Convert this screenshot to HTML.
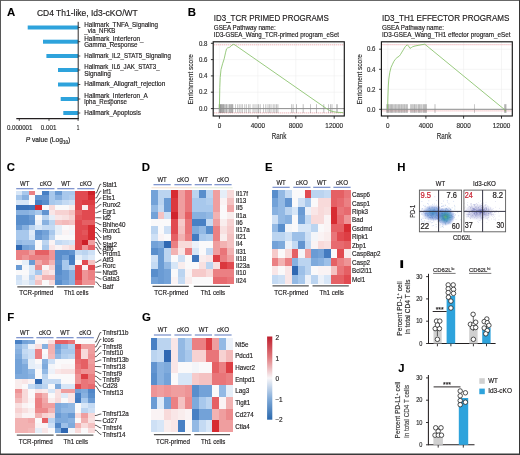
<!DOCTYPE html>
<html><head><meta charset="utf-8"><title>Figure</title>
<style>html,body{margin:0;padding:0;background:#fff;width:520px;height:455px;overflow:hidden}body{position:relative;font-family:"Liberation Sans", sans-serif}</style>
</head><body>
<svg width="520" height="455" viewBox="0 0 520 455" style="position:absolute;left:0;top:0;filter:blur(0.35px)">
<g font-family='"Liberation Sans", sans-serif'>
<rect x="0" y="0" width="520" height="455" fill="#ffffff"/>
<text x="7.00" y="15.90" font-size="11.4" fill="#000" font-weight="bold" stroke="#000" stroke-width="0.1">A</text>
<text x="36.90" y="15.80" font-size="8.4" fill="#1f1c1d" textLength="100.80" lengthAdjust="spacingAndGlyphs" stroke="#1f1c1d" stroke-width="0.16">CD4 Th1-like, Id3-cKO/WT</text>
<rect x="27.70" y="25.50" width="50.50" height="4.00" fill="#2ea3dc"/>
<rect x="43.00" y="39.70" width="35.20" height="4.00" fill="#2ea3dc"/>
<rect x="46.40" y="54.00" width="31.80" height="4.00" fill="#2ea3dc"/>
<rect x="58.00" y="68.00" width="20.20" height="4.00" fill="#2ea3dc"/>
<rect x="58.00" y="82.50" width="20.20" height="4.00" fill="#2ea3dc"/>
<rect x="60.70" y="97.00" width="17.50" height="4.00" fill="#2ea3dc"/>
<rect x="63.30" y="111.00" width="14.90" height="4.00" fill="#2ea3dc"/>
<line x1="78.20" y1="21.80" x2="78.20" y2="119.00" stroke="#231f20" stroke-width="0.95"/>
<line x1="78.20" y1="27.50" x2="80.30" y2="27.50" stroke="#231f20" stroke-width="0.8"/>
<line x1="78.20" y1="41.70" x2="80.30" y2="41.70" stroke="#231f20" stroke-width="0.8"/>
<line x1="78.20" y1="56.00" x2="80.30" y2="56.00" stroke="#231f20" stroke-width="0.8"/>
<line x1="78.20" y1="70.00" x2="80.30" y2="70.00" stroke="#231f20" stroke-width="0.8"/>
<line x1="78.20" y1="84.50" x2="80.30" y2="84.50" stroke="#231f20" stroke-width="0.8"/>
<line x1="78.20" y1="99.00" x2="80.30" y2="99.00" stroke="#231f20" stroke-width="0.8"/>
<line x1="78.20" y1="113.00" x2="80.30" y2="113.00" stroke="#231f20" stroke-width="0.8"/>
<line x1="16.30" y1="118.60" x2="78.70" y2="118.60" stroke="#231f20" stroke-width="1.05"/>
<line x1="19.30" y1="118.60" x2="19.30" y2="120.90" stroke="#231f20" stroke-width="0.8"/>
<line x1="49.00" y1="118.60" x2="49.00" y2="120.90" stroke="#231f20" stroke-width="0.8"/>
<line x1="78.10" y1="118.60" x2="78.10" y2="120.90" stroke="#231f20" stroke-width="0.8"/>
<text x="6.90" y="129.70" font-size="6.4" fill="#2e2e2e" textLength="25.50" lengthAdjust="spacingAndGlyphs" stroke="#2e2e2e" stroke-width="0.16">0.000001</text>
<text x="40.80" y="129.70" font-size="6.4" fill="#2e2e2e" textLength="15.60" lengthAdjust="spacingAndGlyphs" stroke="#2e2e2e" stroke-width="0.16">0.001</text>
<text x="78.10" y="129.70" font-size="6.4" fill="#2e2e2e" text-anchor="middle" textLength="2.60" lengthAdjust="spacingAndGlyphs" stroke="#2e2e2e" stroke-width="0.16">1</text>
<text x="25.80" y="141.50" font-size="7.1" fill="#2e2e2e" textLength="44.50" lengthAdjust="spacingAndGlyphs" stroke="#2e2e2e" stroke-width="0.22"><tspan font-style="italic">P</tspan> value (Log<tspan font-size="5.0" dy="2.0">10</tspan><tspan dy="-2.0">)</tspan></text>
<text x="84.30" y="26.90" font-size="6.5" fill="#1f1c1d" textLength="73.60" lengthAdjust="spacingAndGlyphs" stroke="#1f1c1d" stroke-width="0.16">Hallmark_TNFA_Signaling</text>
<text x="84.30" y="33.00" font-size="6.5" fill="#1f1c1d" textLength="31.00" lengthAdjust="spacingAndGlyphs" stroke="#1f1c1d" stroke-width="0.16">_via_NFKB</text>
<text x="84.30" y="40.70" font-size="6.5" fill="#1f1c1d" textLength="59.20" lengthAdjust="spacingAndGlyphs" stroke="#1f1c1d" stroke-width="0.16">Hallmark_Interferon_</text>
<text x="84.30" y="46.50" font-size="6.5" fill="#1f1c1d" textLength="53.10" lengthAdjust="spacingAndGlyphs" stroke="#1f1c1d" stroke-width="0.16">Gamma_Response</text>
<text x="84.30" y="58.00" font-size="6.5" fill="#1f1c1d" textLength="86.50" lengthAdjust="spacingAndGlyphs" stroke="#1f1c1d" stroke-width="0.16">Hallmark_IL2_STAT5_Signaling</text>
<text x="84.30" y="69.10" font-size="6.5" fill="#1f1c1d" textLength="75.30" lengthAdjust="spacingAndGlyphs" stroke="#1f1c1d" stroke-width="0.16">Hallmark_IL6_JAK_STAT3_</text>
<text x="84.30" y="75.70" font-size="6.5" fill="#1f1c1d" textLength="26.50" lengthAdjust="spacingAndGlyphs" stroke="#1f1c1d" stroke-width="0.16">Signaling</text>
<text x="84.30" y="86.40" font-size="6.5" fill="#1f1c1d" textLength="81.00" lengthAdjust="spacingAndGlyphs" stroke="#1f1c1d" stroke-width="0.16">Hallmark_Allograft_rejection</text>
<text x="84.30" y="97.70" font-size="6.5" fill="#1f1c1d" textLength="63.50" lengthAdjust="spacingAndGlyphs" stroke="#1f1c1d" stroke-width="0.16">Hallmark_Interferon_A</text>
<text x="84.30" y="104.10" font-size="6.5" fill="#1f1c1d" textLength="42.70" lengthAdjust="spacingAndGlyphs" stroke="#1f1c1d" stroke-width="0.16">lpha_Response</text>
<text x="84.30" y="114.60" font-size="6.5" fill="#1f1c1d" textLength="56.60" lengthAdjust="spacingAndGlyphs" stroke="#1f1c1d" stroke-width="0.16">Hallmark_Apoptosis</text>
<text x="187.70" y="16.00" font-size="11.4" fill="#000" font-weight="bold" stroke="#000" stroke-width="0.1">B</text>
<text x="213.80" y="21.30" font-size="9.3" fill="#1f1c1d" textLength="115.00" lengthAdjust="spacingAndGlyphs" stroke="#1f1c1d" stroke-width="0.16">ID3_TCR PRIMED PROGRAMS</text>
<text x="213.80" y="30.40" font-size="6.5" fill="#1f1c1d" textLength="62.00" lengthAdjust="spacingAndGlyphs" stroke="#1f1c1d" stroke-width="0.16">GSEA Pathway name:</text>
<text x="213.80" y="37.20" font-size="6.5" fill="#1f1c1d" textLength="125.20" lengthAdjust="spacingAndGlyphs" stroke="#1f1c1d" stroke-width="0.16">ID3-GSEA_Wang_TCR-primed program_eSet</text>
<line x1="213.20" y1="43.30" x2="344.30" y2="43.30" stroke="#eeeeee" stroke-width="0.6"/>
<line x1="213.20" y1="59.60" x2="344.30" y2="59.60" stroke="#eeeeee" stroke-width="0.6"/>
<line x1="213.20" y1="75.90" x2="344.30" y2="75.90" stroke="#eeeeee" stroke-width="0.6"/>
<line x1="213.20" y1="92.20" x2="344.30" y2="92.20" stroke="#eeeeee" stroke-width="0.6"/>
<line x1="213.20" y1="108.60" x2="344.30" y2="108.60" stroke="#eeeeee" stroke-width="0.6"/>
<line x1="219.40" y1="41.80" x2="219.40" y2="116.00" stroke="#eeeeee" stroke-width="0.6"/>
<line x1="257.90" y1="41.80" x2="257.90" y2="116.00" stroke="#eeeeee" stroke-width="0.6"/>
<line x1="295.80" y1="41.80" x2="295.80" y2="116.00" stroke="#eeeeee" stroke-width="0.6"/>
<line x1="334.20" y1="41.80" x2="334.20" y2="116.00" stroke="#eeeeee" stroke-width="0.6"/>
<line x1="214.20" y1="44.80" x2="343.30" y2="44.80" stroke="#e8868c" stroke-width="0.75" stroke-dasharray="1.1,0.9"/>
<line x1="214.20" y1="112.90" x2="343.30" y2="112.90" stroke="#e8868c" stroke-width="0.75" stroke-dasharray="1.1,0.9"/>
<line x1="219.20" y1="104.20" x2="219.20" y2="112.90" stroke="#2a2a2a" stroke-width="0.55" opacity="0.62"/>
<line x1="219.80" y1="104.20" x2="219.80" y2="112.90" stroke="#2a2a2a" stroke-width="0.55" opacity="0.62"/>
<line x1="220.40" y1="104.20" x2="220.40" y2="112.90" stroke="#2a2a2a" stroke-width="0.55" opacity="0.62"/>
<line x1="221.00" y1="104.20" x2="221.00" y2="112.90" stroke="#2a2a2a" stroke-width="0.55" opacity="0.62"/>
<line x1="221.60" y1="104.20" x2="221.60" y2="112.90" stroke="#2a2a2a" stroke-width="0.55" opacity="0.62"/>
<line x1="222.30" y1="104.20" x2="222.30" y2="112.90" stroke="#2a2a2a" stroke-width="0.55" opacity="0.62"/>
<line x1="223.00" y1="104.20" x2="223.00" y2="112.90" stroke="#2a2a2a" stroke-width="0.55" opacity="0.62"/>
<line x1="223.60" y1="104.20" x2="223.60" y2="112.90" stroke="#2a2a2a" stroke-width="0.55" opacity="0.62"/>
<line x1="224.40" y1="104.20" x2="224.40" y2="112.90" stroke="#2a2a2a" stroke-width="0.55" opacity="0.62"/>
<line x1="225.30" y1="104.20" x2="225.30" y2="112.90" stroke="#2a2a2a" stroke-width="0.55" opacity="0.62"/>
<line x1="226.30" y1="104.20" x2="226.30" y2="112.90" stroke="#2a2a2a" stroke-width="0.55" opacity="0.62"/>
<line x1="227.10" y1="104.20" x2="227.10" y2="112.90" stroke="#2a2a2a" stroke-width="0.55" opacity="0.62"/>
<line x1="228.90" y1="104.20" x2="228.90" y2="112.90" stroke="#2a2a2a" stroke-width="0.55" opacity="0.62"/>
<line x1="229.70" y1="104.20" x2="229.70" y2="112.90" stroke="#2a2a2a" stroke-width="0.55" opacity="0.62"/>
<line x1="230.50" y1="104.20" x2="230.50" y2="112.90" stroke="#2a2a2a" stroke-width="0.55" opacity="0.62"/>
<line x1="231.30" y1="104.20" x2="231.30" y2="112.90" stroke="#2a2a2a" stroke-width="0.55" opacity="0.62"/>
<line x1="232.10" y1="104.20" x2="232.10" y2="112.90" stroke="#2a2a2a" stroke-width="0.55" opacity="0.62"/>
<line x1="232.80" y1="104.20" x2="232.80" y2="112.90" stroke="#2a2a2a" stroke-width="0.55" opacity="0.62"/>
<line x1="235.30" y1="104.20" x2="235.30" y2="112.90" stroke="#444" stroke-width="0.5" opacity="0.7"/>
<line x1="237.30" y1="104.20" x2="237.30" y2="112.90" stroke="#444" stroke-width="0.5" opacity="0.7"/>
<line x1="239.20" y1="104.20" x2="239.20" y2="112.90" stroke="#444" stroke-width="0.5" opacity="0.7"/>
<line x1="241.00" y1="104.20" x2="241.00" y2="112.90" stroke="#444" stroke-width="0.5" opacity="0.7"/>
<line x1="242.70" y1="104.20" x2="242.70" y2="112.90" stroke="#444" stroke-width="0.5" opacity="0.7"/>
<line x1="244.80" y1="104.20" x2="244.80" y2="112.90" stroke="#444" stroke-width="0.5" opacity="0.7"/>
<line x1="246.30" y1="104.20" x2="246.30" y2="112.90" stroke="#444" stroke-width="0.5" opacity="0.7"/>
<line x1="248.30" y1="104.20" x2="248.30" y2="112.90" stroke="#444" stroke-width="0.5" opacity="0.7"/>
<line x1="250.00" y1="104.20" x2="250.00" y2="112.90" stroke="#444" stroke-width="0.5" opacity="0.7"/>
<line x1="253.10" y1="104.20" x2="253.10" y2="112.90" stroke="#444" stroke-width="0.5" opacity="0.7"/>
<line x1="255.00" y1="104.20" x2="255.00" y2="112.90" stroke="#444" stroke-width="0.5" opacity="0.7"/>
<line x1="257.00" y1="104.20" x2="257.00" y2="112.90" stroke="#444" stroke-width="0.5" opacity="0.7"/>
<line x1="258.50" y1="104.20" x2="258.50" y2="112.90" stroke="#444" stroke-width="0.5" opacity="0.7"/>
<line x1="260.20" y1="104.20" x2="260.20" y2="112.90" stroke="#444" stroke-width="0.5" opacity="0.7"/>
<line x1="263.70" y1="104.20" x2="263.70" y2="112.90" stroke="#444" stroke-width="0.5" opacity="0.7"/>
<line x1="265.80" y1="104.20" x2="265.80" y2="112.90" stroke="#444" stroke-width="0.5" opacity="0.7"/>
<line x1="268.00" y1="104.20" x2="268.00" y2="112.90" stroke="#444" stroke-width="0.5" opacity="0.7"/>
<line x1="269.70" y1="104.20" x2="269.70" y2="112.90" stroke="#444" stroke-width="0.5" opacity="0.7"/>
<line x1="271.00" y1="104.20" x2="271.00" y2="112.90" stroke="#444" stroke-width="0.5" opacity="0.7"/>
<line x1="273.20" y1="104.20" x2="273.20" y2="112.90" stroke="#444" stroke-width="0.5" opacity="0.7"/>
<line x1="274.90" y1="104.20" x2="274.90" y2="112.90" stroke="#444" stroke-width="0.5" opacity="0.7"/>
<line x1="276.60" y1="104.20" x2="276.60" y2="112.90" stroke="#444" stroke-width="0.5" opacity="0.7"/>
<line x1="277.90" y1="104.20" x2="277.90" y2="112.90" stroke="#444" stroke-width="0.5" opacity="0.7"/>
<line x1="291.30" y1="104.20" x2="291.30" y2="112.90" stroke="#444" stroke-width="0.5" opacity="0.7"/>
<line x1="293.10" y1="104.20" x2="293.10" y2="112.90" stroke="#444" stroke-width="0.5" opacity="0.7"/>
<line x1="296.50" y1="104.20" x2="296.50" y2="112.90" stroke="#444" stroke-width="0.5" opacity="0.7"/>
<line x1="303.20" y1="104.20" x2="303.20" y2="112.90" stroke="#444" stroke-width="0.5" opacity="0.7"/>
<line x1="310.40" y1="104.20" x2="310.40" y2="112.90" stroke="#444" stroke-width="0.5" opacity="0.7"/>
<line x1="316.60" y1="104.20" x2="316.60" y2="112.90" stroke="#444" stroke-width="0.5" opacity="0.7"/>
<line x1="323.80" y1="104.20" x2="323.80" y2="112.90" stroke="#444" stroke-width="0.5" opacity="0.7"/>
<line x1="328.70" y1="104.20" x2="328.70" y2="112.90" stroke="#444" stroke-width="0.5" opacity="0.7"/>
<line x1="330.60" y1="104.20" x2="330.60" y2="112.90" stroke="#444" stroke-width="0.5" opacity="0.7"/>
<line x1="332.00" y1="104.20" x2="332.00" y2="112.90" stroke="#444" stroke-width="0.5" opacity="0.7"/>
<line x1="336.30" y1="104.20" x2="336.30" y2="112.90" stroke="#444" stroke-width="0.5" opacity="0.7"/>
<line x1="337.30" y1="104.20" x2="337.30" y2="112.90" stroke="#444" stroke-width="0.5" opacity="0.7"/>
<line x1="213.20" y1="108.60" x2="344.30" y2="108.60" stroke="#8e8e8e" stroke-width="1.0"/>
<polyline points="219.40,108.60 219.60,98.00 219.80,87.40 220.20,77.60 221.00,69.60 222.60,63.70 224.20,58.80 225.50,52.80 226.50,48.90 227.50,48.00 228.50,47.60 229.70,47.20 230.90,46.30 232.00,45.00 233.30,44.40 234.40,44.60 326.50,108.60 329.80,110.60 333.00,111.60 337.30,112.30 343.20,112.60" fill="none" stroke="#86c068" stroke-width="0.85" stroke-linejoin="round"/>
<rect x="213.20" y="41.80" width="131.10" height="74.20" fill="none" stroke="#151515" stroke-width="1.15"/>
<line x1="210.90" y1="43.30" x2="213.20" y2="43.30" stroke="#151515" stroke-width="0.85"/>
<text x="207.40" y="45.50" font-size="6.4" fill="#2e2e2e" text-anchor="end" textLength="8.45" lengthAdjust="spacingAndGlyphs" stroke="#2e2e2e" stroke-width="0.16">0.8</text>
<line x1="210.90" y1="59.60" x2="213.20" y2="59.60" stroke="#151515" stroke-width="0.85"/>
<text x="207.40" y="61.80" font-size="6.4" fill="#2e2e2e" text-anchor="end" textLength="8.45" lengthAdjust="spacingAndGlyphs" stroke="#2e2e2e" stroke-width="0.16">0.6</text>
<line x1="210.90" y1="75.90" x2="213.20" y2="75.90" stroke="#151515" stroke-width="0.85"/>
<text x="207.40" y="78.10" font-size="6.4" fill="#2e2e2e" text-anchor="end" textLength="8.45" lengthAdjust="spacingAndGlyphs" stroke="#2e2e2e" stroke-width="0.16">0.4</text>
<line x1="210.90" y1="92.20" x2="213.20" y2="92.20" stroke="#151515" stroke-width="0.85"/>
<text x="207.40" y="94.40" font-size="6.4" fill="#2e2e2e" text-anchor="end" textLength="8.45" lengthAdjust="spacingAndGlyphs" stroke="#2e2e2e" stroke-width="0.16">0.2</text>
<line x1="210.90" y1="108.60" x2="213.20" y2="108.60" stroke="#151515" stroke-width="0.85"/>
<text x="207.40" y="110.80" font-size="6.4" fill="#2e2e2e" text-anchor="end" textLength="8.45" lengthAdjust="spacingAndGlyphs" stroke="#2e2e2e" stroke-width="0.16">0.0</text>
<line x1="219.40" y1="116.00" x2="219.40" y2="118.70" stroke="#151515" stroke-width="0.85"/>
<text x="219.40" y="127.80" font-size="6.7" fill="#2e2e2e" text-anchor="middle" textLength="3.54" lengthAdjust="spacingAndGlyphs" stroke="#2e2e2e" stroke-width="0.16">0</text>
<line x1="257.90" y1="116.00" x2="257.90" y2="118.70" stroke="#151515" stroke-width="0.85"/>
<text x="257.90" y="127.80" font-size="6.7" fill="#2e2e2e" text-anchor="middle" textLength="14.16" lengthAdjust="spacingAndGlyphs" stroke="#2e2e2e" stroke-width="0.16">4000</text>
<line x1="295.80" y1="116.00" x2="295.80" y2="118.70" stroke="#151515" stroke-width="0.85"/>
<text x="295.80" y="127.80" font-size="6.7" fill="#2e2e2e" text-anchor="middle" textLength="14.16" lengthAdjust="spacingAndGlyphs" stroke="#2e2e2e" stroke-width="0.16">8000</text>
<line x1="334.20" y1="116.00" x2="334.20" y2="118.70" stroke="#151515" stroke-width="0.85"/>
<text x="334.20" y="127.80" font-size="6.7" fill="#2e2e2e" text-anchor="middle" textLength="17.70" lengthAdjust="spacingAndGlyphs" stroke="#2e2e2e" stroke-width="0.16">12000</text>
<text x="279.00" y="139.40" font-size="8.4" fill="#2e2e2e" text-anchor="middle" textLength="14.60" lengthAdjust="spacingAndGlyphs" stroke="#2e2e2e" stroke-width="0.16">Rank</text>
<text x="193.50" y="79.30" font-size="7.6" fill="#2e2e2e" text-anchor="middle" textLength="50.50" lengthAdjust="spacingAndGlyphs" stroke="#2e2e2e" stroke-width="0.16" transform="rotate(-90 193.50 79.30)">Enrichment score</text>
<text x="382.00" y="21.30" font-size="9.3" fill="#1f1c1d" textLength="127.40" lengthAdjust="spacingAndGlyphs" stroke="#1f1c1d" stroke-width="0.16">ID3_TH1 EFFECTOR PROGRAMS</text>
<text x="382.00" y="30.40" font-size="6.5" fill="#1f1c1d" textLength="62.00" lengthAdjust="spacingAndGlyphs" stroke="#1f1c1d" stroke-width="0.16">GSEA Pathway name:</text>
<text x="382.00" y="37.20" font-size="6.5" fill="#1f1c1d" textLength="128.50" lengthAdjust="spacingAndGlyphs" stroke="#1f1c1d" stroke-width="0.16">ID3-GSEA_Wang_TH1 effector program_eSet</text>
<line x1="381.40" y1="49.20" x2="512.30" y2="49.20" stroke="#eeeeee" stroke-width="0.6"/>
<line x1="381.40" y1="69.30" x2="512.30" y2="69.30" stroke="#eeeeee" stroke-width="0.6"/>
<line x1="381.40" y1="89.30" x2="512.30" y2="89.30" stroke="#eeeeee" stroke-width="0.6"/>
<line x1="381.40" y1="109.30" x2="512.30" y2="109.30" stroke="#eeeeee" stroke-width="0.6"/>
<line x1="387.80" y1="41.80" x2="387.80" y2="116.00" stroke="#eeeeee" stroke-width="0.6"/>
<line x1="425.90" y1="41.80" x2="425.90" y2="116.00" stroke="#eeeeee" stroke-width="0.6"/>
<line x1="463.60" y1="41.80" x2="463.60" y2="116.00" stroke="#eeeeee" stroke-width="0.6"/>
<line x1="501.50" y1="41.80" x2="501.50" y2="116.00" stroke="#eeeeee" stroke-width="0.6"/>
<line x1="382.40" y1="44.70" x2="511.30" y2="44.70" stroke="#e8868c" stroke-width="0.75" stroke-dasharray="1.1,0.9"/>
<line x1="382.40" y1="110.90" x2="511.30" y2="110.90" stroke="#e8868c" stroke-width="0.75" stroke-dasharray="1.1,0.9"/>
<line x1="386.80" y1="104.20" x2="386.80" y2="112.90" stroke="#2a2a2a" stroke-width="0.55" opacity="0.62"/>
<line x1="387.60" y1="104.20" x2="387.60" y2="112.90" stroke="#2a2a2a" stroke-width="0.55" opacity="0.62"/>
<line x1="388.30" y1="104.20" x2="388.30" y2="112.90" stroke="#2a2a2a" stroke-width="0.55" opacity="0.62"/>
<line x1="389.20" y1="104.20" x2="389.20" y2="112.90" stroke="#2a2a2a" stroke-width="0.55" opacity="0.62"/>
<line x1="390.40" y1="104.20" x2="390.40" y2="112.90" stroke="#2a2a2a" stroke-width="0.55" opacity="0.62"/>
<line x1="391.50" y1="104.20" x2="391.50" y2="112.90" stroke="#2a2a2a" stroke-width="0.55" opacity="0.62"/>
<line x1="392.60" y1="104.20" x2="392.60" y2="112.90" stroke="#2a2a2a" stroke-width="0.55" opacity="0.62"/>
<line x1="393.80" y1="104.20" x2="393.80" y2="112.90" stroke="#2a2a2a" stroke-width="0.55" opacity="0.62"/>
<line x1="395.00" y1="104.20" x2="395.00" y2="112.90" stroke="#2a2a2a" stroke-width="0.55" opacity="0.62"/>
<line x1="396.00" y1="104.20" x2="396.00" y2="112.90" stroke="#2a2a2a" stroke-width="0.55" opacity="0.62"/>
<line x1="397.20" y1="104.20" x2="397.20" y2="112.90" stroke="#2a2a2a" stroke-width="0.55" opacity="0.62"/>
<line x1="398.40" y1="104.20" x2="398.40" y2="112.90" stroke="#2a2a2a" stroke-width="0.55" opacity="0.62"/>
<line x1="399.60" y1="104.20" x2="399.60" y2="112.90" stroke="#2a2a2a" stroke-width="0.55" opacity="0.62"/>
<line x1="400.80" y1="104.20" x2="400.80" y2="112.90" stroke="#2a2a2a" stroke-width="0.55" opacity="0.62"/>
<line x1="401.80" y1="104.20" x2="401.80" y2="112.90" stroke="#2a2a2a" stroke-width="0.55" opacity="0.62"/>
<line x1="403.00" y1="104.20" x2="403.00" y2="112.90" stroke="#2a2a2a" stroke-width="0.55" opacity="0.62"/>
<line x1="404.20" y1="104.20" x2="404.20" y2="112.90" stroke="#2a2a2a" stroke-width="0.55" opacity="0.62"/>
<line x1="405.20" y1="104.20" x2="405.20" y2="112.90" stroke="#2a2a2a" stroke-width="0.55" opacity="0.62"/>
<line x1="406.40" y1="104.20" x2="406.40" y2="112.90" stroke="#2a2a2a" stroke-width="0.55" opacity="0.62"/>
<line x1="407.30" y1="104.20" x2="407.30" y2="112.90" stroke="#2a2a2a" stroke-width="0.55" opacity="0.62"/>
<line x1="410.80" y1="104.20" x2="410.80" y2="112.90" stroke="#2a2a2a" stroke-width="0.55" opacity="0.62"/>
<line x1="412.00" y1="104.20" x2="412.00" y2="112.90" stroke="#2a2a2a" stroke-width="0.55" opacity="0.62"/>
<line x1="413.20" y1="104.20" x2="413.20" y2="112.90" stroke="#2a2a2a" stroke-width="0.55" opacity="0.62"/>
<line x1="414.50" y1="104.20" x2="414.50" y2="112.90" stroke="#2a2a2a" stroke-width="0.55" opacity="0.62"/>
<line x1="415.80" y1="104.20" x2="415.80" y2="112.90" stroke="#2a2a2a" stroke-width="0.55" opacity="0.62"/>
<line x1="417.00" y1="104.20" x2="417.00" y2="112.90" stroke="#2a2a2a" stroke-width="0.55" opacity="0.62"/>
<line x1="418.40" y1="104.20" x2="418.40" y2="112.90" stroke="#2a2a2a" stroke-width="0.55" opacity="0.62"/>
<line x1="419.60" y1="104.20" x2="419.60" y2="112.90" stroke="#2a2a2a" stroke-width="0.55" opacity="0.62"/>
<line x1="420.80" y1="104.20" x2="420.80" y2="112.90" stroke="#2a2a2a" stroke-width="0.55" opacity="0.62"/>
<line x1="422.00" y1="104.20" x2="422.00" y2="112.90" stroke="#2a2a2a" stroke-width="0.55" opacity="0.62"/>
<line x1="423.40" y1="104.20" x2="423.40" y2="112.90" stroke="#2a2a2a" stroke-width="0.55" opacity="0.62"/>
<line x1="424.60" y1="104.20" x2="424.60" y2="112.90" stroke="#2a2a2a" stroke-width="0.55" opacity="0.62"/>
<line x1="425.40" y1="104.20" x2="425.40" y2="112.90" stroke="#2a2a2a" stroke-width="0.55" opacity="0.62"/>
<line x1="426.40" y1="104.20" x2="426.40" y2="112.90" stroke="#444" stroke-width="0.5" opacity="0.7"/>
<line x1="435.00" y1="104.20" x2="435.00" y2="112.90" stroke="#444" stroke-width="0.5" opacity="0.7"/>
<line x1="474.30" y1="104.20" x2="474.30" y2="112.90" stroke="#444" stroke-width="0.5" opacity="0.7"/>
<line x1="504.60" y1="104.20" x2="504.60" y2="112.90" stroke="#444" stroke-width="0.5" opacity="0.7"/>
<line x1="505.30" y1="104.20" x2="505.30" y2="112.90" stroke="#444" stroke-width="0.5" opacity="0.7"/>
<line x1="506.00" y1="104.20" x2="506.00" y2="112.90" stroke="#444" stroke-width="0.5" opacity="0.7"/>
<line x1="381.40" y1="109.30" x2="512.30" y2="109.30" stroke="#8e8e8e" stroke-width="1.0"/>
<polyline points="387.60,109.30 387.90,97.00 388.30,86.00 388.80,79.00 389.80,72.30 391.00,67.50 392.50,64.20 393.80,61.50 395.20,59.40 397.00,57.60 399.20,56.20 400.50,54.50 401.90,52.10 403.50,49.50 405.20,46.70 407.30,44.80 408.50,46.00 410.00,48.40 411.30,47.60 412.70,46.70 415.00,46.00 418.10,45.40 421.00,44.80 424.80,44.20 504.20,109.30 505.00,110.60 506.00,110.80" fill="none" stroke="#86c068" stroke-width="0.85" stroke-linejoin="round"/>
<rect x="381.40" y="41.80" width="130.90" height="74.20" fill="none" stroke="#151515" stroke-width="1.15"/>
<line x1="379.10" y1="49.20" x2="381.40" y2="49.20" stroke="#151515" stroke-width="0.85"/>
<text x="375.40" y="51.40" font-size="6.4" fill="#2e2e2e" text-anchor="end" textLength="8.45" lengthAdjust="spacingAndGlyphs" stroke="#2e2e2e" stroke-width="0.16">0.6</text>
<line x1="379.10" y1="69.30" x2="381.40" y2="69.30" stroke="#151515" stroke-width="0.85"/>
<text x="375.40" y="71.50" font-size="6.4" fill="#2e2e2e" text-anchor="end" textLength="8.45" lengthAdjust="spacingAndGlyphs" stroke="#2e2e2e" stroke-width="0.16">0.4</text>
<line x1="379.10" y1="89.30" x2="381.40" y2="89.30" stroke="#151515" stroke-width="0.85"/>
<text x="375.40" y="91.50" font-size="6.4" fill="#2e2e2e" text-anchor="end" textLength="8.45" lengthAdjust="spacingAndGlyphs" stroke="#2e2e2e" stroke-width="0.16">0.2</text>
<line x1="379.10" y1="109.30" x2="381.40" y2="109.30" stroke="#151515" stroke-width="0.85"/>
<text x="375.40" y="111.50" font-size="6.4" fill="#2e2e2e" text-anchor="end" textLength="8.45" lengthAdjust="spacingAndGlyphs" stroke="#2e2e2e" stroke-width="0.16">0.0</text>
<line x1="387.80" y1="116.00" x2="387.80" y2="118.70" stroke="#151515" stroke-width="0.85"/>
<text x="387.80" y="127.80" font-size="6.7" fill="#2e2e2e" text-anchor="middle" textLength="3.54" lengthAdjust="spacingAndGlyphs" stroke="#2e2e2e" stroke-width="0.16">0</text>
<line x1="425.90" y1="116.00" x2="425.90" y2="118.70" stroke="#151515" stroke-width="0.85"/>
<text x="425.90" y="127.80" font-size="6.7" fill="#2e2e2e" text-anchor="middle" textLength="14.16" lengthAdjust="spacingAndGlyphs" stroke="#2e2e2e" stroke-width="0.16">4000</text>
<line x1="463.60" y1="116.00" x2="463.60" y2="118.70" stroke="#151515" stroke-width="0.85"/>
<text x="463.60" y="127.80" font-size="6.7" fill="#2e2e2e" text-anchor="middle" textLength="14.16" lengthAdjust="spacingAndGlyphs" stroke="#2e2e2e" stroke-width="0.16">8000</text>
<line x1="501.50" y1="116.00" x2="501.50" y2="118.70" stroke="#151515" stroke-width="0.85"/>
<text x="501.50" y="127.80" font-size="6.7" fill="#2e2e2e" text-anchor="middle" textLength="17.70" lengthAdjust="spacingAndGlyphs" stroke="#2e2e2e" stroke-width="0.16">12000</text>
<text x="444.00" y="139.40" font-size="8.4" fill="#2e2e2e" text-anchor="middle" textLength="14.60" lengthAdjust="spacingAndGlyphs" stroke="#2e2e2e" stroke-width="0.16">Rank</text>
<text x="361.60" y="79.30" font-size="7.6" fill="#2e2e2e" text-anchor="middle" textLength="50.50" lengthAdjust="spacingAndGlyphs" stroke="#2e2e2e" stroke-width="0.16" transform="rotate(-90 361.60 79.30)">Enrichment score</text>
<text x="6.70" y="171.00" font-size="11.4" fill="#000" font-weight="bold" stroke="#000" stroke-width="0.1">C</text>
<line x1="16.20" y1="188.70" x2="33.40" y2="188.70" stroke="#7088c8" stroke-width="1.15"/>
<text x="24.80" y="186.00" font-size="6.8" fill="#1f1c1d" text-anchor="middle" textLength="9.40" lengthAdjust="spacingAndGlyphs" stroke="#1f1c1d" stroke-width="0.16">WT</text>
<line x1="37.25" y1="188.70" x2="54.45" y2="188.70" stroke="#7088c8" stroke-width="1.15"/>
<text x="45.85" y="186.00" font-size="6.8" fill="#1f1c1d" text-anchor="middle" textLength="12.10" lengthAdjust="spacingAndGlyphs" stroke="#1f1c1d" stroke-width="0.16">cKO</text>
<line x1="57.25" y1="188.70" x2="74.45" y2="188.70" stroke="#7088c8" stroke-width="1.15"/>
<text x="65.85" y="186.00" font-size="6.8" fill="#1f1c1d" text-anchor="middle" textLength="9.40" lengthAdjust="spacingAndGlyphs" stroke="#1f1c1d" stroke-width="0.16">WT</text>
<line x1="77.25" y1="188.70" x2="94.45" y2="188.70" stroke="#7088c8" stroke-width="1.15"/>
<text x="85.85" y="186.00" font-size="6.8" fill="#1f1c1d" text-anchor="middle" textLength="12.10" lengthAdjust="spacingAndGlyphs" stroke="#1f1c1d" stroke-width="0.16">cKO</text>
<g shape-rendering="crispEdges">
<rect x="15.60" y="190.50" width="7.02" height="5.35" fill="#d7e6f7"/>
<rect x="22.22" y="190.50" width="7.02" height="5.35" fill="#a8c8ec"/>
<rect x="28.83" y="190.50" width="7.02" height="5.35" fill="#eb8083"/>
<rect x="35.45" y="190.50" width="7.02" height="5.35" fill="#faf9fa"/>
<rect x="42.07" y="190.50" width="7.02" height="5.35" fill="#4880c4"/>
<rect x="48.68" y="190.50" width="7.02" height="5.35" fill="#a8c8ec"/>
<rect x="55.30" y="190.50" width="7.02" height="5.35" fill="#6a9bd4"/>
<rect x="61.92" y="190.50" width="7.02" height="5.35" fill="#a8c8ec"/>
<rect x="68.53" y="190.50" width="7.02" height="5.35" fill="#a8c8ec"/>
<rect x="75.15" y="190.50" width="7.02" height="5.35" fill="#e14a50"/>
<rect x="81.77" y="190.50" width="7.02" height="5.35" fill="#e14a50"/>
<rect x="88.38" y="190.50" width="7.02" height="5.35" fill="#cd2028"/>
<rect x="15.60" y="195.45" width="7.02" height="5.35" fill="#a8c8ec"/>
<rect x="22.22" y="195.45" width="7.02" height="5.35" fill="#88b1e0"/>
<rect x="28.83" y="195.45" width="7.02" height="5.35" fill="#faf9fa"/>
<rect x="35.45" y="195.45" width="7.02" height="5.35" fill="#6294d0"/>
<rect x="42.07" y="195.45" width="7.02" height="5.35" fill="#6294d0"/>
<rect x="48.68" y="195.45" width="7.02" height="5.35" fill="#a8c8ec"/>
<rect x="55.30" y="195.45" width="7.02" height="5.35" fill="#88b1e0"/>
<rect x="61.92" y="195.45" width="7.02" height="5.35" fill="#a8c8ec"/>
<rect x="68.53" y="195.45" width="7.02" height="5.35" fill="#b1ceee"/>
<rect x="75.15" y="195.45" width="7.02" height="5.35" fill="#e14a50"/>
<rect x="81.77" y="195.45" width="7.02" height="5.35" fill="#e14a50"/>
<rect x="88.38" y="195.45" width="7.02" height="5.35" fill="#d72c32"/>
<rect x="15.60" y="200.39" width="7.02" height="5.35" fill="#d7e6f7"/>
<rect x="22.22" y="200.39" width="7.02" height="5.35" fill="#d7e6f7"/>
<rect x="28.83" y="200.39" width="7.02" height="5.35" fill="#faf9fa"/>
<rect x="35.45" y="200.39" width="7.02" height="5.35" fill="#4880c4"/>
<rect x="42.07" y="200.39" width="7.02" height="5.35" fill="#598ecc"/>
<rect x="48.68" y="200.39" width="7.02" height="5.35" fill="#a8c8ec"/>
<rect x="55.30" y="200.39" width="7.02" height="5.35" fill="#b1ceee"/>
<rect x="61.92" y="200.39" width="7.02" height="5.35" fill="#c4daf3"/>
<rect x="68.53" y="200.39" width="7.02" height="5.35" fill="#cee0f5"/>
<rect x="75.15" y="200.39" width="7.02" height="5.35" fill="#e14a50"/>
<rect x="81.77" y="200.39" width="7.02" height="5.35" fill="#dd3e44"/>
<rect x="88.38" y="200.39" width="7.02" height="5.35" fill="#dd3e44"/>
<rect x="15.60" y="205.34" width="7.02" height="5.35" fill="#3a72b9"/>
<rect x="22.22" y="205.34" width="7.02" height="5.35" fill="#3a72b9"/>
<rect x="28.83" y="205.34" width="7.02" height="5.35" fill="#3e76bd"/>
<rect x="35.45" y="205.34" width="7.02" height="5.35" fill="#d72c32"/>
<rect x="42.07" y="205.34" width="7.02" height="5.35" fill="#faf9fa"/>
<rect x="48.68" y="205.34" width="7.02" height="5.35" fill="#f8dada"/>
<rect x="55.30" y="205.34" width="7.02" height="5.35" fill="#faf9fa"/>
<rect x="61.92" y="205.34" width="7.02" height="5.35" fill="#faf9fa"/>
<rect x="68.53" y="205.34" width="7.02" height="5.35" fill="#f9eded"/>
<rect x="75.15" y="205.34" width="7.02" height="5.35" fill="#e14a50"/>
<rect x="81.77" y="205.34" width="7.02" height="5.35" fill="#f9eded"/>
<rect x="88.38" y="205.34" width="7.02" height="5.35" fill="#e14a50"/>
<rect x="15.60" y="210.29" width="7.02" height="5.35" fill="#88b1e0"/>
<rect x="22.22" y="210.29" width="7.02" height="5.35" fill="#88b1e0"/>
<rect x="28.83" y="210.29" width="7.02" height="5.35" fill="#93b9e4"/>
<rect x="35.45" y="210.29" width="7.02" height="5.35" fill="#a8c8ec"/>
<rect x="42.07" y="210.29" width="7.02" height="5.35" fill="#6294d0"/>
<rect x="48.68" y="210.29" width="7.02" height="5.35" fill="#f9e6e7"/>
<rect x="55.30" y="210.29" width="7.02" height="5.35" fill="#f7d2d2"/>
<rect x="61.92" y="210.29" width="7.02" height="5.35" fill="#f7d2d2"/>
<rect x="68.53" y="210.29" width="7.02" height="5.35" fill="#f4c2c2"/>
<rect x="75.15" y="210.29" width="7.02" height="5.35" fill="#e56064"/>
<rect x="81.77" y="210.29" width="7.02" height="5.35" fill="#e14a50"/>
<rect x="88.38" y="210.29" width="7.02" height="5.35" fill="#e14a50"/>
<rect x="15.60" y="215.24" width="7.02" height="5.35" fill="#598ecc"/>
<rect x="22.22" y="215.24" width="7.02" height="5.35" fill="#598ecc"/>
<rect x="28.83" y="215.24" width="7.02" height="5.35" fill="#6a9bd4"/>
<rect x="35.45" y="215.24" width="7.02" height="5.35" fill="#faf9fa"/>
<rect x="42.07" y="215.24" width="7.02" height="5.35" fill="#bbd4f0"/>
<rect x="48.68" y="215.24" width="7.02" height="5.35" fill="#e5eef8"/>
<rect x="55.30" y="215.24" width="7.02" height="5.35" fill="#f9e6e7"/>
<rect x="61.92" y="215.24" width="7.02" height="5.35" fill="#f8e0e0"/>
<rect x="68.53" y="215.24" width="7.02" height="5.35" fill="#f7d2d2"/>
<rect x="75.15" y="215.24" width="7.02" height="5.35" fill="#e3555a"/>
<rect x="81.77" y="215.24" width="7.02" height="5.35" fill="#e14a50"/>
<rect x="88.38" y="215.24" width="7.02" height="5.35" fill="#e14a50"/>
<rect x="15.60" y="220.18" width="7.02" height="5.35" fill="#598ecc"/>
<rect x="22.22" y="220.18" width="7.02" height="5.35" fill="#598ecc"/>
<rect x="28.83" y="220.18" width="7.02" height="5.35" fill="#6294d0"/>
<rect x="35.45" y="220.18" width="7.02" height="5.35" fill="#ecf1f9"/>
<rect x="42.07" y="220.18" width="7.02" height="5.35" fill="#88b1e0"/>
<rect x="48.68" y="220.18" width="7.02" height="5.35" fill="#bbd4f0"/>
<rect x="55.30" y="220.18" width="7.02" height="5.35" fill="#f4c2c2"/>
<rect x="61.92" y="220.18" width="7.02" height="5.35" fill="#f3baba"/>
<rect x="68.53" y="220.18" width="7.02" height="5.35" fill="#f4c2c2"/>
<rect x="75.15" y="220.18" width="7.02" height="5.35" fill="#e14a50"/>
<rect x="81.77" y="220.18" width="7.02" height="5.35" fill="#e56064"/>
<rect x="88.38" y="220.18" width="7.02" height="5.35" fill="#e56064"/>
<rect x="15.60" y="225.13" width="7.02" height="5.35" fill="#6a9bd4"/>
<rect x="22.22" y="225.13" width="7.02" height="5.35" fill="#88b1e0"/>
<rect x="28.83" y="225.13" width="7.02" height="5.35" fill="#bbd4f0"/>
<rect x="35.45" y="225.13" width="7.02" height="5.35" fill="#d7e6f7"/>
<rect x="42.07" y="225.13" width="7.02" height="5.35" fill="#c4daf3"/>
<rect x="48.68" y="225.13" width="7.02" height="5.35" fill="#c4daf3"/>
<rect x="55.30" y="225.13" width="7.02" height="5.35" fill="#e5eef8"/>
<rect x="61.92" y="225.13" width="7.02" height="5.35" fill="#faf9fa"/>
<rect x="68.53" y="225.13" width="7.02" height="5.35" fill="#faf3f4"/>
<rect x="75.15" y="225.13" width="7.02" height="5.35" fill="#e14a50"/>
<rect x="81.77" y="225.13" width="7.02" height="5.35" fill="#e14a50"/>
<rect x="88.38" y="225.13" width="7.02" height="5.35" fill="#d72c32"/>
<rect x="15.60" y="230.08" width="7.02" height="5.35" fill="#a8c8ec"/>
<rect x="22.22" y="230.08" width="7.02" height="5.35" fill="#a8c8ec"/>
<rect x="28.83" y="230.08" width="7.02" height="5.35" fill="#deeaf8"/>
<rect x="35.45" y="230.08" width="7.02" height="5.35" fill="#6294d0"/>
<rect x="42.07" y="230.08" width="7.02" height="5.35" fill="#73a2d8"/>
<rect x="48.68" y="230.08" width="7.02" height="5.35" fill="#a8c8ec"/>
<rect x="55.30" y="230.08" width="7.02" height="5.35" fill="#e5eef8"/>
<rect x="61.92" y="230.08" width="7.02" height="5.35" fill="#faf3f4"/>
<rect x="68.53" y="230.08" width="7.02" height="5.35" fill="#f3f5f9"/>
<rect x="75.15" y="230.08" width="7.02" height="5.35" fill="#e14a50"/>
<rect x="81.77" y="230.08" width="7.02" height="5.35" fill="#e3555a"/>
<rect x="88.38" y="230.08" width="7.02" height="5.35" fill="#d72c32"/>
<rect x="15.60" y="235.03" width="7.02" height="5.35" fill="#a8c8ec"/>
<rect x="22.22" y="235.03" width="7.02" height="5.35" fill="#a8c8ec"/>
<rect x="28.83" y="235.03" width="7.02" height="5.35" fill="#d7e6f7"/>
<rect x="35.45" y="235.03" width="7.02" height="5.35" fill="#6a9bd4"/>
<rect x="42.07" y="235.03" width="7.02" height="5.35" fill="#7eaadc"/>
<rect x="48.68" y="235.03" width="7.02" height="5.35" fill="#bbd4f0"/>
<rect x="55.30" y="235.03" width="7.02" height="5.35" fill="#faf9fa"/>
<rect x="61.92" y="235.03" width="7.02" height="5.35" fill="#faf9fa"/>
<rect x="68.53" y="235.03" width="7.02" height="5.35" fill="#faf9fa"/>
<rect x="75.15" y="235.03" width="7.02" height="5.35" fill="#e14a50"/>
<rect x="81.77" y="235.03" width="7.02" height="5.35" fill="#e14a50"/>
<rect x="88.38" y="235.03" width="7.02" height="5.35" fill="#d72c32"/>
<rect x="15.60" y="239.97" width="7.02" height="5.35" fill="#93b9e4"/>
<rect x="22.22" y="239.97" width="7.02" height="5.35" fill="#9dc0e8"/>
<rect x="28.83" y="239.97" width="7.02" height="5.35" fill="#9dc0e8"/>
<rect x="35.45" y="239.97" width="7.02" height="5.35" fill="#faf9fa"/>
<rect x="42.07" y="239.97" width="7.02" height="5.35" fill="#bbd4f0"/>
<rect x="48.68" y="239.97" width="7.02" height="5.35" fill="#faf3f4"/>
<rect x="55.30" y="239.97" width="7.02" height="5.35" fill="#c4daf3"/>
<rect x="61.92" y="239.97" width="7.02" height="5.35" fill="#cee0f5"/>
<rect x="68.53" y="239.97" width="7.02" height="5.35" fill="#d7e6f7"/>
<rect x="75.15" y="239.97" width="7.02" height="5.35" fill="#e14a50"/>
<rect x="81.77" y="239.97" width="7.02" height="5.35" fill="#cd2028"/>
<rect x="88.38" y="239.97" width="7.02" height="5.35" fill="#ef9e9f"/>
<rect x="15.60" y="244.92" width="7.02" height="5.35" fill="#3068b2"/>
<rect x="22.22" y="244.92" width="7.02" height="5.35" fill="#73a2d8"/>
<rect x="28.83" y="244.92" width="7.02" height="5.35" fill="#7eaadc"/>
<rect x="35.45" y="244.92" width="7.02" height="5.35" fill="#faf9fa"/>
<rect x="42.07" y="244.92" width="7.02" height="5.35" fill="#a8c8ec"/>
<rect x="48.68" y="244.92" width="7.02" height="5.35" fill="#f9e6e7"/>
<rect x="55.30" y="244.92" width="7.02" height="5.35" fill="#faf3f4"/>
<rect x="61.92" y="244.92" width="7.02" height="5.35" fill="#f9e6e7"/>
<rect x="68.53" y="244.92" width="7.02" height="5.35" fill="#f8dada"/>
<rect x="75.15" y="244.92" width="7.02" height="5.35" fill="#e14a50"/>
<rect x="81.77" y="244.92" width="7.02" height="5.35" fill="#ee9496"/>
<rect x="88.38" y="244.92" width="7.02" height="5.35" fill="#e56064"/>
<rect x="15.60" y="249.87" width="7.02" height="5.35" fill="#eb8083"/>
<rect x="22.22" y="249.87" width="7.02" height="5.35" fill="#eb8083"/>
<rect x="28.83" y="249.87" width="7.02" height="5.35" fill="#ef9e9f"/>
<rect x="35.45" y="249.87" width="7.02" height="5.35" fill="#e56064"/>
<rect x="42.07" y="249.87" width="7.02" height="5.35" fill="#e56064"/>
<rect x="48.68" y="249.87" width="7.02" height="5.35" fill="#ee9496"/>
<rect x="55.30" y="249.87" width="7.02" height="5.35" fill="#598ecc"/>
<rect x="61.92" y="249.87" width="7.02" height="5.35" fill="#598ecc"/>
<rect x="68.53" y="249.87" width="7.02" height="5.35" fill="#6294d0"/>
<rect x="75.15" y="249.87" width="7.02" height="5.35" fill="#c4daf3"/>
<rect x="81.77" y="249.87" width="7.02" height="5.35" fill="#bbd4f0"/>
<rect x="88.38" y="249.87" width="7.02" height="5.35" fill="#cee0f5"/>
<rect x="15.60" y="254.82" width="7.02" height="5.35" fill="#eb8083"/>
<rect x="22.22" y="254.82" width="7.02" height="5.35" fill="#ee9496"/>
<rect x="28.83" y="254.82" width="7.02" height="5.35" fill="#eb8083"/>
<rect x="35.45" y="254.82" width="7.02" height="5.35" fill="#eb8083"/>
<rect x="42.07" y="254.82" width="7.02" height="5.35" fill="#eb8083"/>
<rect x="48.68" y="254.82" width="7.02" height="5.35" fill="#ee9496"/>
<rect x="55.30" y="254.82" width="7.02" height="5.35" fill="#598ecc"/>
<rect x="61.92" y="254.82" width="7.02" height="5.35" fill="#73a2d8"/>
<rect x="68.53" y="254.82" width="7.02" height="5.35" fill="#4880c4"/>
<rect x="75.15" y="254.82" width="7.02" height="5.35" fill="#e5eef8"/>
<rect x="81.77" y="254.82" width="7.02" height="5.35" fill="#cee0f5"/>
<rect x="88.38" y="254.82" width="7.02" height="5.35" fill="#deeaf8"/>
<rect x="15.60" y="259.76" width="7.02" height="5.35" fill="#faf9fa"/>
<rect x="22.22" y="259.76" width="7.02" height="5.35" fill="#e5eef8"/>
<rect x="28.83" y="259.76" width="7.02" height="5.35" fill="#6a9bd4"/>
<rect x="35.45" y="259.76" width="7.02" height="5.35" fill="#f1a8a9"/>
<rect x="42.07" y="259.76" width="7.02" height="5.35" fill="#ec8a8c"/>
<rect x="48.68" y="259.76" width="7.02" height="5.35" fill="#f2b2b2"/>
<rect x="55.30" y="259.76" width="7.02" height="5.35" fill="#6294d0"/>
<rect x="61.92" y="259.76" width="7.02" height="5.35" fill="#a8c8ec"/>
<rect x="68.53" y="259.76" width="7.02" height="5.35" fill="#4880c4"/>
<rect x="75.15" y="259.76" width="7.02" height="5.35" fill="#faf9fa"/>
<rect x="81.77" y="259.76" width="7.02" height="5.35" fill="#e14a50"/>
<rect x="88.38" y="259.76" width="7.02" height="5.35" fill="#f4c2c2"/>
<rect x="15.60" y="264.71" width="7.02" height="5.35" fill="#6a9bd4"/>
<rect x="22.22" y="264.71" width="7.02" height="5.35" fill="#f3f5f9"/>
<rect x="28.83" y="264.71" width="7.02" height="5.35" fill="#d7e6f7"/>
<rect x="35.45" y="264.71" width="7.02" height="5.35" fill="#ec8a8c"/>
<rect x="42.07" y="264.71" width="7.02" height="5.35" fill="#faf3f4"/>
<rect x="48.68" y="264.71" width="7.02" height="5.35" fill="#f7d2d2"/>
<rect x="55.30" y="264.71" width="7.02" height="5.35" fill="#598ecc"/>
<rect x="61.92" y="264.71" width="7.02" height="5.35" fill="#a8c8ec"/>
<rect x="68.53" y="264.71" width="7.02" height="5.35" fill="#bbd4f0"/>
<rect x="75.15" y="264.71" width="7.02" height="5.35" fill="#e14a50"/>
<rect x="81.77" y="264.71" width="7.02" height="5.35" fill="#faf3f4"/>
<rect x="88.38" y="264.71" width="7.02" height="5.35" fill="#e14a50"/>
<rect x="15.60" y="269.66" width="7.02" height="5.35" fill="#faf9fa"/>
<rect x="22.22" y="269.66" width="7.02" height="5.35" fill="#faf9fa"/>
<rect x="28.83" y="269.66" width="7.02" height="5.35" fill="#d7e6f7"/>
<rect x="35.45" y="269.66" width="7.02" height="5.35" fill="#a8c8ec"/>
<rect x="42.07" y="269.66" width="7.02" height="5.35" fill="#f8dada"/>
<rect x="48.68" y="269.66" width="7.02" height="5.35" fill="#f9e6e7"/>
<rect x="55.30" y="269.66" width="7.02" height="5.35" fill="#598ecc"/>
<rect x="61.92" y="269.66" width="7.02" height="5.35" fill="#6a9bd4"/>
<rect x="68.53" y="269.66" width="7.02" height="5.35" fill="#88b1e0"/>
<rect x="75.15" y="269.66" width="7.02" height="5.35" fill="#e14a50"/>
<rect x="81.77" y="269.66" width="7.02" height="5.35" fill="#ee9496"/>
<rect x="88.38" y="269.66" width="7.02" height="5.35" fill="#eb8083"/>
<rect x="15.60" y="274.61" width="7.02" height="5.35" fill="#cee0f5"/>
<rect x="22.22" y="274.61" width="7.02" height="5.35" fill="#f3f5f9"/>
<rect x="28.83" y="274.61" width="7.02" height="5.35" fill="#bbd4f0"/>
<rect x="35.45" y="274.61" width="7.02" height="5.35" fill="#f8dada"/>
<rect x="42.07" y="274.61" width="7.02" height="5.35" fill="#f2b2b2"/>
<rect x="48.68" y="274.61" width="7.02" height="5.35" fill="#f2b2b2"/>
<rect x="55.30" y="274.61" width="7.02" height="5.35" fill="#6294d0"/>
<rect x="61.92" y="274.61" width="7.02" height="5.35" fill="#6a9bd4"/>
<rect x="68.53" y="274.61" width="7.02" height="5.35" fill="#88b1e0"/>
<rect x="75.15" y="274.61" width="7.02" height="5.35" fill="#e14a50"/>
<rect x="81.77" y="274.61" width="7.02" height="5.35" fill="#ee9496"/>
<rect x="88.38" y="274.61" width="7.02" height="5.35" fill="#eb8083"/>
<rect x="15.60" y="279.55" width="7.02" height="5.35" fill="#d7e6f7"/>
<rect x="22.22" y="279.55" width="7.02" height="5.35" fill="#e5eef8"/>
<rect x="28.83" y="279.55" width="7.02" height="5.35" fill="#cee0f5"/>
<rect x="35.45" y="279.55" width="7.02" height="5.35" fill="#f4c2c2"/>
<rect x="42.07" y="279.55" width="7.02" height="5.35" fill="#faf9fa"/>
<rect x="48.68" y="279.55" width="7.02" height="5.35" fill="#f8dada"/>
<rect x="55.30" y="279.55" width="7.02" height="5.35" fill="#598ecc"/>
<rect x="61.92" y="279.55" width="7.02" height="5.35" fill="#73a2d8"/>
<rect x="68.53" y="279.55" width="7.02" height="5.35" fill="#88b1e0"/>
<rect x="75.15" y="279.55" width="7.02" height="5.35" fill="#e56064"/>
<rect x="81.77" y="279.55" width="7.02" height="5.35" fill="#ee9496"/>
<rect x="88.38" y="279.55" width="7.02" height="5.35" fill="#ee9496"/>
</g>
<line x1="17.30" y1="286.90" x2="54.10" y2="286.90" stroke="#555555" stroke-width="1.25"/>
<line x1="56.70" y1="286.90" x2="93.90" y2="286.90" stroke="#555555" stroke-width="1.25"/>
<text x="36.30" y="294.70" font-size="6.8" fill="#1f1c1d" text-anchor="middle" textLength="34.00" lengthAdjust="spacingAndGlyphs" stroke="#1f1c1d" stroke-width="0.16">TCR-primed</text>
<text x="76.30" y="294.70" font-size="6.8" fill="#1f1c1d" text-anchor="middle" textLength="24.40" lengthAdjust="spacingAndGlyphs" stroke="#1f1c1d" stroke-width="0.16">Th1 cells</text>
<polyline points="95.30,192.97 96.50,192.97 100.10,184.30 101.30,184.30" fill="none" stroke="#231f20" stroke-width="0.75"/>
<text x="102.40" y="186.60" font-size="6.7" fill="#1f1c1d" textLength="14.63" lengthAdjust="spacingAndGlyphs" stroke="#1f1c1d" stroke-width="0.16">Stat1</text>
<polyline points="95.30,197.92 96.50,197.92 100.10,191.20 101.30,191.20" fill="none" stroke="#231f20" stroke-width="0.75"/>
<text x="102.40" y="193.50" font-size="6.7" fill="#1f1c1d" textLength="9.05" lengthAdjust="spacingAndGlyphs" stroke="#1f1c1d" stroke-width="0.16">Irf1</text>
<polyline points="95.30,202.87 96.50,202.87 100.10,198.00 101.30,198.00" fill="none" stroke="#231f20" stroke-width="0.75"/>
<text x="102.40" y="200.30" font-size="6.7" fill="#1f1c1d" textLength="12.54" lengthAdjust="spacingAndGlyphs" stroke="#1f1c1d" stroke-width="0.16">Ets1</text>
<polyline points="95.30,207.82 96.50,207.82 100.10,204.60 101.30,204.60" fill="none" stroke="#231f20" stroke-width="0.75"/>
<text x="102.40" y="206.90" font-size="6.7" fill="#1f1c1d" textLength="18.11" lengthAdjust="spacingAndGlyphs" stroke="#1f1c1d" stroke-width="0.16">Runx2</text>
<polyline points="95.30,212.76 96.50,212.76 100.10,211.20 101.30,211.20" fill="none" stroke="#231f20" stroke-width="0.75"/>
<text x="102.40" y="213.50" font-size="6.7" fill="#1f1c1d" textLength="13.23" lengthAdjust="spacingAndGlyphs" stroke="#1f1c1d" stroke-width="0.16">Egr1</text>
<polyline points="95.30,217.71 96.50,217.71 100.10,217.80 101.30,217.80" fill="none" stroke="#231f20" stroke-width="0.75"/>
<text x="102.40" y="220.10" font-size="6.7" fill="#1f1c1d" textLength="8.71" lengthAdjust="spacingAndGlyphs" stroke="#1f1c1d" stroke-width="0.16">Id2</text>
<polyline points="95.30,222.66 96.50,222.66 100.10,224.60 101.30,224.60" fill="none" stroke="#231f20" stroke-width="0.75"/>
<text x="102.40" y="226.90" font-size="6.7" fill="#1f1c1d" textLength="22.99" lengthAdjust="spacingAndGlyphs" stroke="#1f1c1d" stroke-width="0.16">Bhlhe40</text>
<polyline points="95.30,227.61 96.50,227.61 100.10,231.10 101.30,231.10" fill="none" stroke="#231f20" stroke-width="0.75"/>
<text x="102.40" y="233.40" font-size="6.7" fill="#1f1c1d" textLength="18.11" lengthAdjust="spacingAndGlyphs" stroke="#1f1c1d" stroke-width="0.16">Runx1</text>
<polyline points="95.30,232.55 96.50,232.55 100.10,237.40 101.30,237.40" fill="none" stroke="#231f20" stroke-width="0.75"/>
<text x="102.40" y="239.70" font-size="6.7" fill="#1f1c1d" textLength="9.05" lengthAdjust="spacingAndGlyphs" stroke="#1f1c1d" stroke-width="0.16">Irf9</text>
<polyline points="95.30,237.50 96.50,237.50 100.10,244.20 101.30,244.20" fill="none" stroke="#231f20" stroke-width="0.75"/>
<text x="102.40" y="246.50" font-size="6.7" fill="#1f1c1d" textLength="14.63" lengthAdjust="spacingAndGlyphs" stroke="#1f1c1d" stroke-width="0.16">Stat2</text>
<polyline points="95.30,242.45 96.50,242.45 100.10,248.90 101.30,248.90" fill="none" stroke="#231f20" stroke-width="0.75"/>
<text x="102.40" y="251.20" font-size="6.7" fill="#1f1c1d" textLength="11.14" lengthAdjust="spacingAndGlyphs" stroke="#1f1c1d" stroke-width="0.16">Atf6</text>
<polyline points="95.30,247.39 96.50,247.39 100.10,253.60 101.30,253.60" fill="none" stroke="#231f20" stroke-width="0.75"/>
<text x="102.40" y="255.90" font-size="6.7" fill="#1f1c1d" textLength="18.45" lengthAdjust="spacingAndGlyphs" stroke="#1f1c1d" stroke-width="0.16">Prdm1</text>
<polyline points="95.30,262.24 96.50,262.24 100.10,260.00 101.30,260.00" fill="none" stroke="#231f20" stroke-width="0.75"/>
<text x="102.40" y="262.30" font-size="6.7" fill="#1f1c1d" textLength="11.14" lengthAdjust="spacingAndGlyphs" stroke="#1f1c1d" stroke-width="0.16">Atf3</text>
<polyline points="95.30,267.18 96.50,267.18 100.10,265.90 101.30,265.90" fill="none" stroke="#231f20" stroke-width="0.75"/>
<text x="102.40" y="268.20" font-size="6.7" fill="#1f1c1d" textLength="13.23" lengthAdjust="spacingAndGlyphs" stroke="#1f1c1d" stroke-width="0.16">Rorc</text>
<polyline points="95.30,272.13 96.50,272.13 100.10,272.20 101.30,272.20" fill="none" stroke="#231f20" stroke-width="0.75"/>
<text x="102.40" y="274.50" font-size="6.7" fill="#1f1c1d" textLength="14.97" lengthAdjust="spacingAndGlyphs" stroke="#1f1c1d" stroke-width="0.16">Nfat5</text>
<polyline points="95.30,277.08 96.50,277.08 100.10,279.00 101.30,279.00" fill="none" stroke="#231f20" stroke-width="0.75"/>
<text x="102.40" y="281.30" font-size="6.7" fill="#1f1c1d" textLength="17.07" lengthAdjust="spacingAndGlyphs" stroke="#1f1c1d" stroke-width="0.16">Gata3</text>
<polyline points="95.30,282.03 96.50,282.03 100.10,286.60 101.30,286.60" fill="none" stroke="#231f20" stroke-width="0.75"/>
<text x="102.40" y="288.90" font-size="6.7" fill="#1f1c1d" textLength="11.14" lengthAdjust="spacingAndGlyphs" stroke="#1f1c1d" stroke-width="0.16">Batf</text>
<text x="141.80" y="171.00" font-size="11.4" fill="#000" font-weight="bold" stroke="#000" stroke-width="0.1">D</text>
<line x1="153.50" y1="184.70" x2="170.70" y2="184.70" stroke="#7088c8" stroke-width="1.15"/>
<text x="162.10" y="181.80" font-size="6.8" fill="#1f1c1d" text-anchor="middle" textLength="9.40" lengthAdjust="spacingAndGlyphs" stroke="#1f1c1d" stroke-width="0.16">WT</text>
<line x1="174.40" y1="184.70" x2="191.60" y2="184.70" stroke="#7088c8" stroke-width="1.15"/>
<text x="183.00" y="181.80" font-size="6.8" fill="#1f1c1d" text-anchor="middle" textLength="12.10" lengthAdjust="spacingAndGlyphs" stroke="#1f1c1d" stroke-width="0.16">cKO</text>
<line x1="194.70" y1="184.70" x2="211.90" y2="184.70" stroke="#7088c8" stroke-width="1.15"/>
<text x="203.30" y="181.80" font-size="6.8" fill="#1f1c1d" text-anchor="middle" textLength="9.40" lengthAdjust="spacingAndGlyphs" stroke="#1f1c1d" stroke-width="0.16">WT</text>
<line x1="214.40" y1="184.70" x2="231.60" y2="184.70" stroke="#7088c8" stroke-width="1.15"/>
<text x="223.00" y="181.80" font-size="6.8" fill="#1f1c1d" text-anchor="middle" textLength="12.10" lengthAdjust="spacingAndGlyphs" stroke="#1f1c1d" stroke-width="0.16">cKO</text>
<line x1="151.50" y1="187.80" x2="192.00" y2="187.80" stroke="#f5dcc6" stroke-width="0.9"/>
<line x1="192.00" y1="187.80" x2="232.60" y2="187.80" stroke="#e2ead2" stroke-width="0.9"/>
<g shape-rendering="crispEdges">
<rect x="150.60" y="190.40" width="7.31" height="7.58" fill="#73a2d8"/>
<rect x="157.51" y="190.40" width="7.31" height="7.58" fill="#bbd4f0"/>
<rect x="164.42" y="190.40" width="7.31" height="7.58" fill="#bbd4f0"/>
<rect x="171.32" y="190.40" width="7.31" height="7.58" fill="#d72c32"/>
<rect x="178.23" y="190.40" width="7.31" height="7.58" fill="#ef9e9f"/>
<rect x="185.14" y="190.40" width="7.31" height="7.58" fill="#e97579"/>
<rect x="192.05" y="190.40" width="7.31" height="7.58" fill="#bbd4f0"/>
<rect x="198.96" y="190.40" width="7.31" height="7.58" fill="#598ecc"/>
<rect x="205.87" y="190.40" width="7.31" height="7.58" fill="#bbd4f0"/>
<rect x="212.78" y="190.40" width="7.31" height="7.58" fill="#ef9e9f"/>
<rect x="219.68" y="190.40" width="7.31" height="7.58" fill="#e5eef8"/>
<rect x="226.59" y="190.40" width="7.31" height="7.58" fill="#f8dada"/>
<rect x="150.60" y="197.58" width="7.31" height="7.58" fill="#73a2d8"/>
<rect x="157.51" y="197.58" width="7.31" height="7.58" fill="#bbd4f0"/>
<rect x="164.42" y="197.58" width="7.31" height="7.58" fill="#6a9bd4"/>
<rect x="171.32" y="197.58" width="7.31" height="7.58" fill="#db383e"/>
<rect x="178.23" y="197.58" width="7.31" height="7.58" fill="#ef9e9f"/>
<rect x="185.14" y="197.58" width="7.31" height="7.58" fill="#e97579"/>
<rect x="192.05" y="197.58" width="7.31" height="7.58" fill="#a8c8ec"/>
<rect x="198.96" y="197.58" width="7.31" height="7.58" fill="#a8c8ec"/>
<rect x="205.87" y="197.58" width="7.31" height="7.58" fill="#b1ceee"/>
<rect x="212.78" y="197.58" width="7.31" height="7.58" fill="#ef9e9f"/>
<rect x="219.68" y="197.58" width="7.31" height="7.58" fill="#faf3f4"/>
<rect x="226.59" y="197.58" width="7.31" height="7.58" fill="#f4c2c2"/>
<rect x="150.60" y="204.77" width="7.31" height="7.58" fill="#93b9e4"/>
<rect x="157.51" y="204.77" width="7.31" height="7.58" fill="#c4daf3"/>
<rect x="164.42" y="204.77" width="7.31" height="7.58" fill="#6a9bd4"/>
<rect x="171.32" y="204.77" width="7.31" height="7.58" fill="#db383e"/>
<rect x="178.23" y="204.77" width="7.31" height="7.58" fill="#ef9e9f"/>
<rect x="185.14" y="204.77" width="7.31" height="7.58" fill="#e97579"/>
<rect x="192.05" y="204.77" width="7.31" height="7.58" fill="#a8c8ec"/>
<rect x="198.96" y="204.77" width="7.31" height="7.58" fill="#a8c8ec"/>
<rect x="205.87" y="204.77" width="7.31" height="7.58" fill="#a8c8ec"/>
<rect x="212.78" y="204.77" width="7.31" height="7.58" fill="#ef9e9f"/>
<rect x="219.68" y="204.77" width="7.31" height="7.58" fill="#faf9fa"/>
<rect x="226.59" y="204.77" width="7.31" height="7.58" fill="#f1a8a9"/>
<rect x="150.60" y="211.95" width="7.31" height="7.58" fill="#73a2d8"/>
<rect x="157.51" y="211.95" width="7.31" height="7.58" fill="#f4c2c2"/>
<rect x="164.42" y="211.95" width="7.31" height="7.58" fill="#cee0f5"/>
<rect x="171.32" y="211.95" width="7.31" height="7.58" fill="#d0242c"/>
<rect x="178.23" y="211.95" width="7.31" height="7.58" fill="#ef9e9f"/>
<rect x="185.14" y="211.95" width="7.31" height="7.58" fill="#e56064"/>
<rect x="192.05" y="211.95" width="7.31" height="7.58" fill="#88b1e0"/>
<rect x="198.96" y="211.95" width="7.31" height="7.58" fill="#88b1e0"/>
<rect x="205.87" y="211.95" width="7.31" height="7.58" fill="#93b9e4"/>
<rect x="212.78" y="211.95" width="7.31" height="7.58" fill="#f2b2b2"/>
<rect x="219.68" y="211.95" width="7.31" height="7.58" fill="#faf9fa"/>
<rect x="226.59" y="211.95" width="7.31" height="7.58" fill="#f9eded"/>
<rect x="150.60" y="219.14" width="7.31" height="7.58" fill="#faf9fa"/>
<rect x="157.51" y="219.14" width="7.31" height="7.58" fill="#faf9fa"/>
<rect x="164.42" y="219.14" width="7.31" height="7.58" fill="#faf9fa"/>
<rect x="171.32" y="219.14" width="7.31" height="7.58" fill="#e14a50"/>
<rect x="178.23" y="219.14" width="7.31" height="7.58" fill="#f6caca"/>
<rect x="185.14" y="219.14" width="7.31" height="7.58" fill="#e97579"/>
<rect x="192.05" y="219.14" width="7.31" height="7.58" fill="#4880c4"/>
<rect x="198.96" y="219.14" width="7.31" height="7.58" fill="#4880c4"/>
<rect x="205.87" y="219.14" width="7.31" height="7.58" fill="#c4daf3"/>
<rect x="212.78" y="219.14" width="7.31" height="7.58" fill="#ef9e9f"/>
<rect x="219.68" y="219.14" width="7.31" height="7.58" fill="#f9eded"/>
<rect x="226.59" y="219.14" width="7.31" height="7.58" fill="#f7d2d2"/>
<rect x="150.60" y="226.32" width="7.31" height="7.58" fill="#bbd4f0"/>
<rect x="157.51" y="226.32" width="7.31" height="7.58" fill="#faf9fa"/>
<rect x="164.42" y="226.32" width="7.31" height="7.58" fill="#cee0f5"/>
<rect x="171.32" y="226.32" width="7.31" height="7.58" fill="#e14a50"/>
<rect x="178.23" y="226.32" width="7.31" height="7.58" fill="#f4c2c2"/>
<rect x="185.14" y="226.32" width="7.31" height="7.58" fill="#e97579"/>
<rect x="192.05" y="226.32" width="7.31" height="7.58" fill="#7eaadc"/>
<rect x="198.96" y="226.32" width="7.31" height="7.58" fill="#93b9e4"/>
<rect x="205.87" y="226.32" width="7.31" height="7.58" fill="#598ecc"/>
<rect x="212.78" y="226.32" width="7.31" height="7.58" fill="#eb8083"/>
<rect x="219.68" y="226.32" width="7.31" height="7.58" fill="#f8e0e0"/>
<rect x="226.59" y="226.32" width="7.31" height="7.58" fill="#f6caca"/>
<rect x="150.60" y="233.51" width="7.31" height="7.58" fill="#cee0f5"/>
<rect x="157.51" y="233.51" width="7.31" height="7.58" fill="#faf3f4"/>
<rect x="164.42" y="233.51" width="7.31" height="7.58" fill="#faf9fa"/>
<rect x="171.32" y="233.51" width="7.31" height="7.58" fill="#e56064"/>
<rect x="178.23" y="233.51" width="7.31" height="7.58" fill="#f2b2b2"/>
<rect x="185.14" y="233.51" width="7.31" height="7.58" fill="#eb8083"/>
<rect x="192.05" y="233.51" width="7.31" height="7.58" fill="#437bc0"/>
<rect x="198.96" y="233.51" width="7.31" height="7.58" fill="#a8c8ec"/>
<rect x="205.87" y="233.51" width="7.31" height="7.58" fill="#b1ceee"/>
<rect x="212.78" y="233.51" width="7.31" height="7.58" fill="#eb8083"/>
<rect x="219.68" y="233.51" width="7.31" height="7.58" fill="#f9eded"/>
<rect x="226.59" y="233.51" width="7.31" height="7.58" fill="#f4c2c2"/>
<rect x="150.60" y="240.69" width="7.31" height="7.58" fill="#73a2d8"/>
<rect x="157.51" y="240.69" width="7.31" height="7.58" fill="#7eaadc"/>
<rect x="164.42" y="240.69" width="7.31" height="7.58" fill="#3068b2"/>
<rect x="171.32" y="240.69" width="7.31" height="7.58" fill="#eb8083"/>
<rect x="178.23" y="240.69" width="7.31" height="7.58" fill="#f8dada"/>
<rect x="185.14" y="240.69" width="7.31" height="7.58" fill="#f8dada"/>
<rect x="192.05" y="240.69" width="7.31" height="7.58" fill="#ecf1f9"/>
<rect x="198.96" y="240.69" width="7.31" height="7.58" fill="#faf9fa"/>
<rect x="205.87" y="240.69" width="7.31" height="7.58" fill="#faf9fa"/>
<rect x="212.78" y="240.69" width="7.31" height="7.58" fill="#ef9e9f"/>
<rect x="219.68" y="240.69" width="7.31" height="7.58" fill="#f2b2b2"/>
<rect x="226.59" y="240.69" width="7.31" height="7.58" fill="#f4c2c2"/>
<rect x="150.60" y="247.88" width="7.31" height="7.58" fill="#598ecc"/>
<rect x="157.51" y="247.88" width="7.31" height="7.58" fill="#6a9bd4"/>
<rect x="164.42" y="247.88" width="7.31" height="7.58" fill="#bbd4f0"/>
<rect x="171.32" y="247.88" width="7.31" height="7.58" fill="#f2b2b2"/>
<rect x="178.23" y="247.88" width="7.31" height="7.58" fill="#f9e6e7"/>
<rect x="185.14" y="247.88" width="7.31" height="7.58" fill="#eb8083"/>
<rect x="192.05" y="247.88" width="7.31" height="7.58" fill="#d7e6f7"/>
<rect x="198.96" y="247.88" width="7.31" height="7.58" fill="#faf9fa"/>
<rect x="205.87" y="247.88" width="7.31" height="7.58" fill="#c4daf3"/>
<rect x="212.78" y="247.88" width="7.31" height="7.58" fill="#ef9e9f"/>
<rect x="219.68" y="247.88" width="7.31" height="7.58" fill="#e97579"/>
<rect x="226.59" y="247.88" width="7.31" height="7.58" fill="#f2b2b2"/>
<rect x="150.60" y="255.06" width="7.31" height="7.58" fill="#cee0f5"/>
<rect x="157.51" y="255.06" width="7.31" height="7.58" fill="#6a9bd4"/>
<rect x="164.42" y="255.06" width="7.31" height="7.58" fill="#bbd4f0"/>
<rect x="171.32" y="255.06" width="7.31" height="7.58" fill="#faf9fa"/>
<rect x="178.23" y="255.06" width="7.31" height="7.58" fill="#cee0f5"/>
<rect x="185.14" y="255.06" width="7.31" height="7.58" fill="#faf9fa"/>
<rect x="192.05" y="255.06" width="7.31" height="7.58" fill="#3e76bd"/>
<rect x="198.96" y="255.06" width="7.31" height="7.58" fill="#f9eded"/>
<rect x="205.87" y="255.06" width="7.31" height="7.58" fill="#f9e6e7"/>
<rect x="212.78" y="255.06" width="7.31" height="7.58" fill="#dd3e44"/>
<rect x="219.68" y="255.06" width="7.31" height="7.58" fill="#eb8083"/>
<rect x="226.59" y="255.06" width="7.31" height="7.58" fill="#ef9e9f"/>
<rect x="150.60" y="262.25" width="7.31" height="7.58" fill="#c4daf3"/>
<rect x="157.51" y="262.25" width="7.31" height="7.58" fill="#6a9bd4"/>
<rect x="164.42" y="262.25" width="7.31" height="7.58" fill="#93b9e4"/>
<rect x="171.32" y="262.25" width="7.31" height="7.58" fill="#d7e6f7"/>
<rect x="178.23" y="262.25" width="7.31" height="7.58" fill="#f9eded"/>
<rect x="185.14" y="262.25" width="7.31" height="7.58" fill="#faf9fa"/>
<rect x="192.05" y="262.25" width="7.31" height="7.58" fill="#faf9fa"/>
<rect x="198.96" y="262.25" width="7.31" height="7.58" fill="#f8e0e0"/>
<rect x="205.87" y="262.25" width="7.31" height="7.58" fill="#bbd4f0"/>
<rect x="212.78" y="262.25" width="7.31" height="7.58" fill="#f8e0e0"/>
<rect x="219.68" y="262.25" width="7.31" height="7.58" fill="#db383e"/>
<rect x="226.59" y="262.25" width="7.31" height="7.58" fill="#e14a50"/>
<rect x="150.60" y="269.43" width="7.31" height="7.58" fill="#598ecc"/>
<rect x="157.51" y="269.43" width="7.31" height="7.58" fill="#6a9bd4"/>
<rect x="164.42" y="269.43" width="7.31" height="7.58" fill="#73a2d8"/>
<rect x="171.32" y="269.43" width="7.31" height="7.58" fill="#faf9fa"/>
<rect x="178.23" y="269.43" width="7.31" height="7.58" fill="#bbd4f0"/>
<rect x="185.14" y="269.43" width="7.31" height="7.58" fill="#faf3f4"/>
<rect x="192.05" y="269.43" width="7.31" height="7.58" fill="#f6caca"/>
<rect x="198.96" y="269.43" width="7.31" height="7.58" fill="#f6caca"/>
<rect x="205.87" y="269.43" width="7.31" height="7.58" fill="#f8dada"/>
<rect x="212.78" y="269.43" width="7.31" height="7.58" fill="#eb8083"/>
<rect x="219.68" y="269.43" width="7.31" height="7.58" fill="#eb8083"/>
<rect x="226.59" y="269.43" width="7.31" height="7.58" fill="#eb8083"/>
<rect x="150.60" y="276.62" width="7.31" height="7.58" fill="#73a2d8"/>
<rect x="157.51" y="276.62" width="7.31" height="7.58" fill="#6a9bd4"/>
<rect x="164.42" y="276.62" width="7.31" height="7.58" fill="#73a2d8"/>
<rect x="171.32" y="276.62" width="7.31" height="7.58" fill="#faf3f4"/>
<rect x="178.23" y="276.62" width="7.31" height="7.58" fill="#c4daf3"/>
<rect x="185.14" y="276.62" width="7.31" height="7.58" fill="#f9eded"/>
<rect x="192.05" y="276.62" width="7.31" height="7.58" fill="#faf9fa"/>
<rect x="198.96" y="276.62" width="7.31" height="7.58" fill="#faf9fa"/>
<rect x="205.87" y="276.62" width="7.31" height="7.58" fill="#faf9fa"/>
<rect x="212.78" y="276.62" width="7.31" height="7.58" fill="#e76a6f"/>
<rect x="219.68" y="276.62" width="7.31" height="7.58" fill="#e76a6f"/>
<rect x="226.59" y="276.62" width="7.31" height="7.58" fill="#e97579"/>
</g>
<line x1="152.50" y1="286.30" x2="188.80" y2="286.30" stroke="#555555" stroke-width="1.25"/>
<line x1="193.80" y1="286.30" x2="230.00" y2="286.30" stroke="#555555" stroke-width="1.25"/>
<text x="171.25" y="294.70" font-size="6.8" fill="#1f1c1d" text-anchor="middle" textLength="34.00" lengthAdjust="spacingAndGlyphs" stroke="#1f1c1d" stroke-width="0.16">TCR-primed</text>
<text x="212.90" y="294.70" font-size="6.8" fill="#1f1c1d" text-anchor="middle" textLength="24.40" lengthAdjust="spacingAndGlyphs" stroke="#1f1c1d" stroke-width="0.16">Th1 cells</text>
<text x="236.10" y="196.00" font-size="6.7" fill="#1f1c1d" textLength="11.84" lengthAdjust="spacingAndGlyphs" stroke="#1f1c1d" stroke-width="0.16">Il17f</text>
<text x="236.10" y="203.21" font-size="6.7" fill="#1f1c1d" textLength="10.10" lengthAdjust="spacingAndGlyphs" stroke="#1f1c1d" stroke-width="0.16">Il13</text>
<text x="236.10" y="210.42" font-size="6.7" fill="#1f1c1d" textLength="6.62" lengthAdjust="spacingAndGlyphs" stroke="#1f1c1d" stroke-width="0.16">Il5</text>
<text x="236.10" y="217.63" font-size="6.7" fill="#1f1c1d" textLength="10.10" lengthAdjust="spacingAndGlyphs" stroke="#1f1c1d" stroke-width="0.16">Il1a</text>
<text x="236.10" y="224.83" font-size="6.7" fill="#1f1c1d" textLength="6.62" lengthAdjust="spacingAndGlyphs" stroke="#1f1c1d" stroke-width="0.16">Il6</text>
<text x="236.10" y="232.04" font-size="6.7" fill="#1f1c1d" textLength="13.58" lengthAdjust="spacingAndGlyphs" stroke="#1f1c1d" stroke-width="0.16">Il17a</text>
<text x="236.10" y="239.25" font-size="6.7" fill="#1f1c1d" textLength="10.10" lengthAdjust="spacingAndGlyphs" stroke="#1f1c1d" stroke-width="0.16">Il21</text>
<text x="236.10" y="246.46" font-size="6.7" fill="#1f1c1d" textLength="6.62" lengthAdjust="spacingAndGlyphs" stroke="#1f1c1d" stroke-width="0.16">Il4</text>
<text x="236.10" y="253.67" font-size="6.7" fill="#1f1c1d" textLength="10.10" lengthAdjust="spacingAndGlyphs" stroke="#1f1c1d" stroke-width="0.16">Il31</text>
<text x="236.10" y="260.87" font-size="6.7" fill="#1f1c1d" textLength="10.10" lengthAdjust="spacingAndGlyphs" stroke="#1f1c1d" stroke-width="0.16">Il18</text>
<text x="236.10" y="268.08" font-size="6.7" fill="#1f1c1d" textLength="13.58" lengthAdjust="spacingAndGlyphs" stroke="#1f1c1d" stroke-width="0.16">Il23a</text>
<text x="236.10" y="275.29" font-size="6.7" fill="#1f1c1d" textLength="10.10" lengthAdjust="spacingAndGlyphs" stroke="#1f1c1d" stroke-width="0.16">Il10</text>
<text x="236.10" y="282.50" font-size="6.7" fill="#1f1c1d" textLength="10.10" lengthAdjust="spacingAndGlyphs" stroke="#1f1c1d" stroke-width="0.16">Il24</text>
<text x="264.90" y="171.00" font-size="11.4" fill="#000" font-weight="bold" stroke="#000" stroke-width="0.1">E</text>
<line x1="272.50" y1="187.30" x2="289.70" y2="187.30" stroke="#7088c8" stroke-width="1.15"/>
<text x="281.10" y="184.50" font-size="6.8" fill="#1f1c1d" text-anchor="middle" textLength="9.40" lengthAdjust="spacingAndGlyphs" stroke="#1f1c1d" stroke-width="0.16">WT</text>
<line x1="293.30" y1="187.30" x2="310.50" y2="187.30" stroke="#7088c8" stroke-width="1.15"/>
<text x="301.90" y="184.50" font-size="6.8" fill="#1f1c1d" text-anchor="middle" textLength="12.10" lengthAdjust="spacingAndGlyphs" stroke="#1f1c1d" stroke-width="0.16">cKO</text>
<line x1="313.20" y1="187.30" x2="330.40" y2="187.30" stroke="#7088c8" stroke-width="1.15"/>
<text x="321.80" y="184.50" font-size="6.8" fill="#1f1c1d" text-anchor="middle" textLength="9.40" lengthAdjust="spacingAndGlyphs" stroke="#1f1c1d" stroke-width="0.16">WT</text>
<line x1="333.40" y1="187.30" x2="350.60" y2="187.30" stroke="#7088c8" stroke-width="1.15"/>
<text x="342.00" y="184.50" font-size="6.8" fill="#1f1c1d" text-anchor="middle" textLength="12.10" lengthAdjust="spacingAndGlyphs" stroke="#1f1c1d" stroke-width="0.16">cKO</text>
<g shape-rendering="crispEdges">
<rect x="271.90" y="189.80" width="6.95" height="8.88" fill="#598ecc"/>
<rect x="278.45" y="189.80" width="6.95" height="8.88" fill="#93b9e4"/>
<rect x="285.00" y="189.80" width="6.95" height="8.88" fill="#c4daf3"/>
<rect x="291.55" y="189.80" width="6.95" height="8.88" fill="#faf9fa"/>
<rect x="298.10" y="189.80" width="6.95" height="8.88" fill="#faf9fa"/>
<rect x="304.65" y="189.80" width="6.95" height="8.88" fill="#e14a50"/>
<rect x="311.20" y="189.80" width="6.95" height="8.88" fill="#bbd4f0"/>
<rect x="317.75" y="189.80" width="6.95" height="8.88" fill="#bbd4f0"/>
<rect x="324.30" y="189.80" width="6.95" height="8.88" fill="#c4daf3"/>
<rect x="330.85" y="189.80" width="6.95" height="8.88" fill="#e56064"/>
<rect x="337.40" y="189.80" width="6.95" height="8.88" fill="#e56064"/>
<rect x="343.95" y="189.80" width="6.95" height="8.88" fill="#e97579"/>
<rect x="271.90" y="198.28" width="6.95" height="8.88" fill="#73a2d8"/>
<rect x="278.45" y="198.28" width="6.95" height="8.88" fill="#93b9e4"/>
<rect x="285.00" y="198.28" width="6.95" height="8.88" fill="#6294d0"/>
<rect x="291.55" y="198.28" width="6.95" height="8.88" fill="#faf9fa"/>
<rect x="298.10" y="198.28" width="6.95" height="8.88" fill="#cee0f5"/>
<rect x="304.65" y="198.28" width="6.95" height="8.88" fill="#a8c8ec"/>
<rect x="311.20" y="198.28" width="6.95" height="8.88" fill="#faf9fa"/>
<rect x="317.75" y="198.28" width="6.95" height="8.88" fill="#f8dada"/>
<rect x="324.30" y="198.28" width="6.95" height="8.88" fill="#f8dada"/>
<rect x="330.85" y="198.28" width="6.95" height="8.88" fill="#e56064"/>
<rect x="337.40" y="198.28" width="6.95" height="8.88" fill="#e76a6f"/>
<rect x="343.95" y="198.28" width="6.95" height="8.88" fill="#eb8083"/>
<rect x="271.90" y="206.76" width="6.95" height="8.88" fill="#88b1e0"/>
<rect x="278.45" y="206.76" width="6.95" height="8.88" fill="#93b9e4"/>
<rect x="285.00" y="206.76" width="6.95" height="8.88" fill="#bbd4f0"/>
<rect x="291.55" y="206.76" width="6.95" height="8.88" fill="#d7e6f7"/>
<rect x="298.10" y="206.76" width="6.95" height="8.88" fill="#6a9bd4"/>
<rect x="304.65" y="206.76" width="6.95" height="8.88" fill="#ecf1f9"/>
<rect x="311.20" y="206.76" width="6.95" height="8.88" fill="#f9e6e7"/>
<rect x="317.75" y="206.76" width="6.95" height="8.88" fill="#f8dada"/>
<rect x="324.30" y="206.76" width="6.95" height="8.88" fill="#f8e0e0"/>
<rect x="330.85" y="206.76" width="6.95" height="8.88" fill="#d72c32"/>
<rect x="337.40" y="206.76" width="6.95" height="8.88" fill="#e97579"/>
<rect x="343.95" y="206.76" width="6.95" height="8.88" fill="#e76a6f"/>
<rect x="271.90" y="215.25" width="6.95" height="8.88" fill="#cee0f5"/>
<rect x="278.45" y="215.25" width="6.95" height="8.88" fill="#93b9e4"/>
<rect x="285.00" y="215.25" width="6.95" height="8.88" fill="#88b1e0"/>
<rect x="291.55" y="215.25" width="6.95" height="8.88" fill="#faf9fa"/>
<rect x="298.10" y="215.25" width="6.95" height="8.88" fill="#73a2d8"/>
<rect x="304.65" y="215.25" width="6.95" height="8.88" fill="#c4daf3"/>
<rect x="311.20" y="215.25" width="6.95" height="8.88" fill="#f8dada"/>
<rect x="317.75" y="215.25" width="6.95" height="8.88" fill="#f8dada"/>
<rect x="324.30" y="215.25" width="6.95" height="8.88" fill="#faf3f4"/>
<rect x="330.85" y="215.25" width="6.95" height="8.88" fill="#d72c32"/>
<rect x="337.40" y="215.25" width="6.95" height="8.88" fill="#e76a6f"/>
<rect x="343.95" y="215.25" width="6.95" height="8.88" fill="#ee9496"/>
<rect x="271.90" y="223.73" width="6.95" height="8.88" fill="#93b9e4"/>
<rect x="278.45" y="223.73" width="6.95" height="8.88" fill="#598ecc"/>
<rect x="285.00" y="223.73" width="6.95" height="8.88" fill="#f3f5f9"/>
<rect x="291.55" y="223.73" width="6.95" height="8.88" fill="#faf9fa"/>
<rect x="298.10" y="223.73" width="6.95" height="8.88" fill="#d7e6f7"/>
<rect x="304.65" y="223.73" width="6.95" height="8.88" fill="#d7e6f7"/>
<rect x="311.20" y="223.73" width="6.95" height="8.88" fill="#bbd4f0"/>
<rect x="317.75" y="223.73" width="6.95" height="8.88" fill="#faf9fa"/>
<rect x="324.30" y="223.73" width="6.95" height="8.88" fill="#faf3f4"/>
<rect x="330.85" y="223.73" width="6.95" height="8.88" fill="#e56064"/>
<rect x="337.40" y="223.73" width="6.95" height="8.88" fill="#e56064"/>
<rect x="343.95" y="223.73" width="6.95" height="8.88" fill="#d72c32"/>
<rect x="271.90" y="232.21" width="6.95" height="8.88" fill="#bbd4f0"/>
<rect x="278.45" y="232.21" width="6.95" height="8.88" fill="#bbd4f0"/>
<rect x="285.00" y="232.21" width="6.95" height="8.88" fill="#cee0f5"/>
<rect x="291.55" y="232.21" width="6.95" height="8.88" fill="#9dc0e8"/>
<rect x="298.10" y="232.21" width="6.95" height="8.88" fill="#9dc0e8"/>
<rect x="304.65" y="232.21" width="6.95" height="8.88" fill="#cee0f5"/>
<rect x="311.20" y="232.21" width="6.95" height="8.88" fill="#f3f5f9"/>
<rect x="317.75" y="232.21" width="6.95" height="8.88" fill="#faf3f4"/>
<rect x="324.30" y="232.21" width="6.95" height="8.88" fill="#f9eded"/>
<rect x="330.85" y="232.21" width="6.95" height="8.88" fill="#e97579"/>
<rect x="337.40" y="232.21" width="6.95" height="8.88" fill="#e14a50"/>
<rect x="343.95" y="232.21" width="6.95" height="8.88" fill="#dd3e44"/>
<rect x="271.90" y="240.69" width="6.95" height="8.88" fill="#73a2d8"/>
<rect x="278.45" y="240.69" width="6.95" height="8.88" fill="#7eaadc"/>
<rect x="285.00" y="240.69" width="6.95" height="8.88" fill="#ecf1f9"/>
<rect x="291.55" y="240.69" width="6.95" height="8.88" fill="#c4daf3"/>
<rect x="298.10" y="240.69" width="6.95" height="8.88" fill="#6294d0"/>
<rect x="304.65" y="240.69" width="6.95" height="8.88" fill="#c4daf3"/>
<rect x="311.20" y="240.69" width="6.95" height="8.88" fill="#faf3f4"/>
<rect x="317.75" y="240.69" width="6.95" height="8.88" fill="#f8dada"/>
<rect x="324.30" y="240.69" width="6.95" height="8.88" fill="#f8e0e0"/>
<rect x="330.85" y="240.69" width="6.95" height="8.88" fill="#e76a6f"/>
<rect x="337.40" y="240.69" width="6.95" height="8.88" fill="#e76a6f"/>
<rect x="343.95" y="240.69" width="6.95" height="8.88" fill="#e56064"/>
<rect x="271.90" y="249.17" width="6.95" height="8.88" fill="#f6caca"/>
<rect x="278.45" y="249.17" width="6.95" height="8.88" fill="#faf9fa"/>
<rect x="285.00" y="249.17" width="6.95" height="8.88" fill="#f8dada"/>
<rect x="291.55" y="249.17" width="6.95" height="8.88" fill="#e56064"/>
<rect x="298.10" y="249.17" width="6.95" height="8.88" fill="#f3f5f9"/>
<rect x="304.65" y="249.17" width="6.95" height="8.88" fill="#ef9e9f"/>
<rect x="311.20" y="249.17" width="6.95" height="8.88" fill="#6a9bd4"/>
<rect x="317.75" y="249.17" width="6.95" height="8.88" fill="#73a2d8"/>
<rect x="324.30" y="249.17" width="6.95" height="8.88" fill="#437bc0"/>
<rect x="330.85" y="249.17" width="6.95" height="8.88" fill="#faf9fa"/>
<rect x="337.40" y="249.17" width="6.95" height="8.88" fill="#e14a50"/>
<rect x="343.95" y="249.17" width="6.95" height="8.88" fill="#f9eded"/>
<rect x="271.90" y="257.65" width="6.95" height="8.88" fill="#eb8083"/>
<rect x="278.45" y="257.65" width="6.95" height="8.88" fill="#f2b2b2"/>
<rect x="285.00" y="257.65" width="6.95" height="8.88" fill="#eb8083"/>
<rect x="291.55" y="257.65" width="6.95" height="8.88" fill="#88b1e0"/>
<rect x="298.10" y="257.65" width="6.95" height="8.88" fill="#bbd4f0"/>
<rect x="304.65" y="257.65" width="6.95" height="8.88" fill="#bbd4f0"/>
<rect x="311.20" y="257.65" width="6.95" height="8.88" fill="#7eaadc"/>
<rect x="317.75" y="257.65" width="6.95" height="8.88" fill="#88b1e0"/>
<rect x="324.30" y="257.65" width="6.95" height="8.88" fill="#9dc0e8"/>
<rect x="330.85" y="257.65" width="6.95" height="8.88" fill="#e56064"/>
<rect x="337.40" y="257.65" width="6.95" height="8.88" fill="#eb8083"/>
<rect x="343.95" y="257.65" width="6.95" height="8.88" fill="#ee9496"/>
<rect x="271.90" y="266.14" width="6.95" height="8.88" fill="#f9e6e7"/>
<rect x="278.45" y="266.14" width="6.95" height="8.88" fill="#faf9fa"/>
<rect x="285.00" y="266.14" width="6.95" height="8.88" fill="#f9e6e7"/>
<rect x="291.55" y="266.14" width="6.95" height="8.88" fill="#3068b2"/>
<rect x="298.10" y="266.14" width="6.95" height="8.88" fill="#9dc0e8"/>
<rect x="304.65" y="266.14" width="6.95" height="8.88" fill="#bbd4f0"/>
<rect x="311.20" y="266.14" width="6.95" height="8.88" fill="#faf9fa"/>
<rect x="317.75" y="266.14" width="6.95" height="8.88" fill="#faf3f4"/>
<rect x="324.30" y="266.14" width="6.95" height="8.88" fill="#faf3f4"/>
<rect x="330.85" y="266.14" width="6.95" height="8.88" fill="#f4c2c2"/>
<rect x="337.40" y="266.14" width="6.95" height="8.88" fill="#e97579"/>
<rect x="343.95" y="266.14" width="6.95" height="8.88" fill="#e56064"/>
<rect x="271.90" y="274.62" width="6.95" height="8.88" fill="#c4daf3"/>
<rect x="278.45" y="274.62" width="6.95" height="8.88" fill="#cee0f5"/>
<rect x="285.00" y="274.62" width="6.95" height="8.88" fill="#f9e6e7"/>
<rect x="291.55" y="274.62" width="6.95" height="8.88" fill="#93b9e4"/>
<rect x="298.10" y="274.62" width="6.95" height="8.88" fill="#a8c8ec"/>
<rect x="304.65" y="274.62" width="6.95" height="8.88" fill="#ecf1f9"/>
<rect x="311.20" y="274.62" width="6.95" height="8.88" fill="#bbd4f0"/>
<rect x="317.75" y="274.62" width="6.95" height="8.88" fill="#ecf1f9"/>
<rect x="324.30" y="274.62" width="6.95" height="8.88" fill="#d7e6f7"/>
<rect x="330.85" y="274.62" width="6.95" height="8.88" fill="#e56064"/>
<rect x="337.40" y="274.62" width="6.95" height="8.88" fill="#e56064"/>
<rect x="343.95" y="274.62" width="6.95" height="8.88" fill="#e14a50"/>
</g>
<line x1="272.50" y1="285.80" x2="308.80" y2="285.80" stroke="#555555" stroke-width="1.25"/>
<line x1="312.50" y1="285.80" x2="348.80" y2="285.80" stroke="#555555" stroke-width="1.25"/>
<text x="291.25" y="294.70" font-size="6.8" fill="#1f1c1d" text-anchor="middle" textLength="34.00" lengthAdjust="spacingAndGlyphs" stroke="#1f1c1d" stroke-width="0.16">TCR-primed</text>
<text x="331.65" y="294.70" font-size="6.8" fill="#1f1c1d" text-anchor="middle" textLength="24.40" lengthAdjust="spacingAndGlyphs" stroke="#1f1c1d" stroke-width="0.16">Th1 cells</text>
<text x="352.00" y="197.04" font-size="6.7" fill="#1f1c1d" textLength="18.11" lengthAdjust="spacingAndGlyphs" stroke="#1f1c1d" stroke-width="0.16">Casp6</text>
<text x="352.00" y="205.52" font-size="6.7" fill="#1f1c1d" textLength="18.11" lengthAdjust="spacingAndGlyphs" stroke="#1f1c1d" stroke-width="0.16">Casp1</text>
<text x="352.00" y="214.00" font-size="6.7" fill="#1f1c1d" textLength="16.02" lengthAdjust="spacingAndGlyphs" stroke="#1f1c1d" stroke-width="0.16">Ripk3</text>
<text x="352.00" y="222.49" font-size="6.7" fill="#1f1c1d" textLength="11.15" lengthAdjust="spacingAndGlyphs" stroke="#1f1c1d" stroke-width="0.16">Bad</text>
<text x="352.00" y="230.97" font-size="6.7" fill="#1f1c1d" textLength="20.19" lengthAdjust="spacingAndGlyphs" stroke="#1f1c1d" stroke-width="0.16">Gsdmd</text>
<text x="352.00" y="239.45" font-size="6.7" fill="#1f1c1d" textLength="16.02" lengthAdjust="spacingAndGlyphs" stroke="#1f1c1d" stroke-width="0.16">Ripk1</text>
<text x="352.00" y="247.93" font-size="6.7" fill="#1f1c1d" textLength="14.28" lengthAdjust="spacingAndGlyphs" stroke="#1f1c1d" stroke-width="0.16">Zbp1</text>
<text x="352.00" y="256.41" font-size="6.7" fill="#1f1c1d" textLength="28.56" lengthAdjust="spacingAndGlyphs" stroke="#1f1c1d" stroke-width="0.16">Casp8ap2</text>
<text x="352.00" y="264.90" font-size="6.7" fill="#1f1c1d" textLength="18.11" lengthAdjust="spacingAndGlyphs" stroke="#1f1c1d" stroke-width="0.16">Casp2</text>
<text x="352.00" y="273.38" font-size="6.7" fill="#1f1c1d" textLength="20.08" lengthAdjust="spacingAndGlyphs" stroke="#1f1c1d" stroke-width="0.16">Bcl2l11</text>
<text x="352.00" y="281.86" font-size="6.7" fill="#1f1c1d" textLength="13.23" lengthAdjust="spacingAndGlyphs" stroke="#1f1c1d" stroke-width="0.16">Mcl1</text>
<text x="7.30" y="320.60" font-size="11.4" fill="#000" font-weight="bold" stroke="#000" stroke-width="0.1">F</text>
<line x1="16.20" y1="337.70" x2="33.40" y2="337.70" stroke="#7088c8" stroke-width="1.15"/>
<text x="24.80" y="335.00" font-size="6.8" fill="#1f1c1d" text-anchor="middle" textLength="9.40" lengthAdjust="spacingAndGlyphs" stroke="#1f1c1d" stroke-width="0.16">WT</text>
<line x1="36.35" y1="337.70" x2="53.55" y2="337.70" stroke="#7088c8" stroke-width="1.15"/>
<text x="44.95" y="335.00" font-size="6.8" fill="#1f1c1d" text-anchor="middle" textLength="12.10" lengthAdjust="spacingAndGlyphs" stroke="#1f1c1d" stroke-width="0.16">cKO</text>
<line x1="56.40" y1="337.70" x2="73.60" y2="337.70" stroke="#7088c8" stroke-width="1.15"/>
<text x="65.00" y="335.00" font-size="6.8" fill="#1f1c1d" text-anchor="middle" textLength="9.40" lengthAdjust="spacingAndGlyphs" stroke="#1f1c1d" stroke-width="0.16">WT</text>
<line x1="76.60" y1="337.70" x2="93.80" y2="337.70" stroke="#7088c8" stroke-width="1.15"/>
<text x="85.20" y="335.00" font-size="6.8" fill="#1f1c1d" text-anchor="middle" textLength="12.10" lengthAdjust="spacingAndGlyphs" stroke="#1f1c1d" stroke-width="0.16">cKO</text>
<g shape-rendering="crispEdges">
<rect x="15.00" y="339.50" width="7.03" height="5.31" fill="#4880c4"/>
<rect x="21.63" y="339.50" width="7.03" height="5.31" fill="#73a2d8"/>
<rect x="28.27" y="339.50" width="7.03" height="5.31" fill="#7eaadc"/>
<rect x="34.90" y="339.50" width="7.03" height="5.31" fill="#faf9fa"/>
<rect x="41.53" y="339.50" width="7.03" height="5.31" fill="#faf9fa"/>
<rect x="48.17" y="339.50" width="7.03" height="5.31" fill="#f8e0e0"/>
<rect x="54.80" y="339.50" width="7.03" height="5.31" fill="#e56064"/>
<rect x="61.43" y="339.50" width="7.03" height="5.31" fill="#e56064"/>
<rect x="68.07" y="339.50" width="7.03" height="5.31" fill="#e97579"/>
<rect x="74.70" y="339.50" width="7.03" height="5.31" fill="#faf9fa"/>
<rect x="81.33" y="339.50" width="7.03" height="5.31" fill="#faf9fa"/>
<rect x="87.97" y="339.50" width="7.03" height="5.31" fill="#faf9fa"/>
<rect x="15.00" y="344.41" width="7.03" height="5.31" fill="#93b9e4"/>
<rect x="21.63" y="344.41" width="7.03" height="5.31" fill="#b1ceee"/>
<rect x="28.27" y="344.41" width="7.03" height="5.31" fill="#ecf1f9"/>
<rect x="34.90" y="344.41" width="7.03" height="5.31" fill="#f8e0e0"/>
<rect x="41.53" y="344.41" width="7.03" height="5.31" fill="#88b1e0"/>
<rect x="48.17" y="344.41" width="7.03" height="5.31" fill="#f2b2b2"/>
<rect x="54.80" y="344.41" width="7.03" height="5.31" fill="#73a2d8"/>
<rect x="61.43" y="344.41" width="7.03" height="5.31" fill="#93b9e4"/>
<rect x="68.07" y="344.41" width="7.03" height="5.31" fill="#b1ceee"/>
<rect x="74.70" y="344.41" width="7.03" height="5.31" fill="#e14a50"/>
<rect x="81.33" y="344.41" width="7.03" height="5.31" fill="#ef9e9f"/>
<rect x="87.97" y="344.41" width="7.03" height="5.31" fill="#ef9e9f"/>
<rect x="15.00" y="349.31" width="7.03" height="5.31" fill="#88b1e0"/>
<rect x="21.63" y="349.31" width="7.03" height="5.31" fill="#c4daf3"/>
<rect x="28.27" y="349.31" width="7.03" height="5.31" fill="#cee0f5"/>
<rect x="34.90" y="349.31" width="7.03" height="5.31" fill="#eb8083"/>
<rect x="41.53" y="349.31" width="7.03" height="5.31" fill="#faf9fa"/>
<rect x="48.17" y="349.31" width="7.03" height="5.31" fill="#f2b2b2"/>
<rect x="54.80" y="349.31" width="7.03" height="5.31" fill="#7eaadc"/>
<rect x="61.43" y="349.31" width="7.03" height="5.31" fill="#a8c8ec"/>
<rect x="68.07" y="349.31" width="7.03" height="5.31" fill="#a8c8ec"/>
<rect x="74.70" y="349.31" width="7.03" height="5.31" fill="#e56064"/>
<rect x="81.33" y="349.31" width="7.03" height="5.31" fill="#f8dada"/>
<rect x="87.97" y="349.31" width="7.03" height="5.31" fill="#ef9e9f"/>
<rect x="15.00" y="354.22" width="7.03" height="5.31" fill="#7eaadc"/>
<rect x="21.63" y="354.22" width="7.03" height="5.31" fill="#bbd4f0"/>
<rect x="28.27" y="354.22" width="7.03" height="5.31" fill="#cee0f5"/>
<rect x="34.90" y="354.22" width="7.03" height="5.31" fill="#eb8083"/>
<rect x="41.53" y="354.22" width="7.03" height="5.31" fill="#f3f5f9"/>
<rect x="48.17" y="354.22" width="7.03" height="5.31" fill="#f3baba"/>
<rect x="54.80" y="354.22" width="7.03" height="5.31" fill="#93b9e4"/>
<rect x="61.43" y="354.22" width="7.03" height="5.31" fill="#b1ceee"/>
<rect x="68.07" y="354.22" width="7.03" height="5.31" fill="#bbd4f0"/>
<rect x="74.70" y="354.22" width="7.03" height="5.31" fill="#e56064"/>
<rect x="81.33" y="354.22" width="7.03" height="5.31" fill="#f8dada"/>
<rect x="87.97" y="354.22" width="7.03" height="5.31" fill="#ee9496"/>
<rect x="15.00" y="359.12" width="7.03" height="5.31" fill="#73a2d8"/>
<rect x="21.63" y="359.12" width="7.03" height="5.31" fill="#93b9e4"/>
<rect x="28.27" y="359.12" width="7.03" height="5.31" fill="#e5eef8"/>
<rect x="34.90" y="359.12" width="7.03" height="5.31" fill="#faf9fa"/>
<rect x="41.53" y="359.12" width="7.03" height="5.31" fill="#88b1e0"/>
<rect x="48.17" y="359.12" width="7.03" height="5.31" fill="#cee0f5"/>
<rect x="54.80" y="359.12" width="7.03" height="5.31" fill="#faf9fa"/>
<rect x="61.43" y="359.12" width="7.03" height="5.31" fill="#faf9fa"/>
<rect x="68.07" y="359.12" width="7.03" height="5.31" fill="#faf9fa"/>
<rect x="74.70" y="359.12" width="7.03" height="5.31" fill="#e76a6f"/>
<rect x="81.33" y="359.12" width="7.03" height="5.31" fill="#e56064"/>
<rect x="87.97" y="359.12" width="7.03" height="5.31" fill="#ef9e9f"/>
<rect x="15.00" y="364.03" width="7.03" height="5.31" fill="#73a2d8"/>
<rect x="21.63" y="364.03" width="7.03" height="5.31" fill="#7eaadc"/>
<rect x="28.27" y="364.03" width="7.03" height="5.31" fill="#e5eef8"/>
<rect x="34.90" y="364.03" width="7.03" height="5.31" fill="#ecf1f9"/>
<rect x="41.53" y="364.03" width="7.03" height="5.31" fill="#7eaadc"/>
<rect x="48.17" y="364.03" width="7.03" height="5.31" fill="#f3f5f9"/>
<rect x="54.80" y="364.03" width="7.03" height="5.31" fill="#faf9fa"/>
<rect x="61.43" y="364.03" width="7.03" height="5.31" fill="#faf3f4"/>
<rect x="68.07" y="364.03" width="7.03" height="5.31" fill="#faf3f4"/>
<rect x="74.70" y="364.03" width="7.03" height="5.31" fill="#e97579"/>
<rect x="81.33" y="364.03" width="7.03" height="5.31" fill="#e56064"/>
<rect x="87.97" y="364.03" width="7.03" height="5.31" fill="#ee9496"/>
<rect x="15.00" y="368.93" width="7.03" height="5.31" fill="#73a2d8"/>
<rect x="21.63" y="368.93" width="7.03" height="5.31" fill="#7eaadc"/>
<rect x="28.27" y="368.93" width="7.03" height="5.31" fill="#93b9e4"/>
<rect x="34.90" y="368.93" width="7.03" height="5.31" fill="#faf9fa"/>
<rect x="41.53" y="368.93" width="7.03" height="5.31" fill="#93b9e4"/>
<rect x="48.17" y="368.93" width="7.03" height="5.31" fill="#ecf1f9"/>
<rect x="54.80" y="368.93" width="7.03" height="5.31" fill="#f9e6e7"/>
<rect x="61.43" y="368.93" width="7.03" height="5.31" fill="#f8e0e0"/>
<rect x="68.07" y="368.93" width="7.03" height="5.31" fill="#f8e0e0"/>
<rect x="74.70" y="368.93" width="7.03" height="5.31" fill="#eb8083"/>
<rect x="81.33" y="368.93" width="7.03" height="5.31" fill="#ee9496"/>
<rect x="87.97" y="368.93" width="7.03" height="5.31" fill="#ee9496"/>
<rect x="15.00" y="373.84" width="7.03" height="5.31" fill="#7eaadc"/>
<rect x="21.63" y="373.84" width="7.03" height="5.31" fill="#7eaadc"/>
<rect x="28.27" y="373.84" width="7.03" height="5.31" fill="#88b1e0"/>
<rect x="34.90" y="373.84" width="7.03" height="5.31" fill="#faf9fa"/>
<rect x="41.53" y="373.84" width="7.03" height="5.31" fill="#bbd4f0"/>
<rect x="48.17" y="373.84" width="7.03" height="5.31" fill="#faf9fa"/>
<rect x="54.80" y="373.84" width="7.03" height="5.31" fill="#faf9fa"/>
<rect x="61.43" y="373.84" width="7.03" height="5.31" fill="#faf9fa"/>
<rect x="68.07" y="373.84" width="7.03" height="5.31" fill="#faf9fa"/>
<rect x="74.70" y="373.84" width="7.03" height="5.31" fill="#ee9496"/>
<rect x="81.33" y="373.84" width="7.03" height="5.31" fill="#dd3e44"/>
<rect x="87.97" y="373.84" width="7.03" height="5.31" fill="#eb8083"/>
<rect x="15.00" y="378.74" width="7.03" height="5.31" fill="#f9eded"/>
<rect x="21.63" y="378.74" width="7.03" height="5.31" fill="#f9e6e7"/>
<rect x="28.27" y="378.74" width="7.03" height="5.31" fill="#faf3f4"/>
<rect x="34.90" y="378.74" width="7.03" height="5.31" fill="#3068b2"/>
<rect x="41.53" y="378.74" width="7.03" height="5.31" fill="#c4daf3"/>
<rect x="48.17" y="378.74" width="7.03" height="5.31" fill="#c4daf3"/>
<rect x="54.80" y="378.74" width="7.03" height="5.31" fill="#c4daf3"/>
<rect x="61.43" y="378.74" width="7.03" height="5.31" fill="#faf9fa"/>
<rect x="68.07" y="378.74" width="7.03" height="5.31" fill="#faf9fa"/>
<rect x="74.70" y="378.74" width="7.03" height="5.31" fill="#ee9496"/>
<rect x="81.33" y="378.74" width="7.03" height="5.31" fill="#e97579"/>
<rect x="87.97" y="378.74" width="7.03" height="5.31" fill="#eb8083"/>
<rect x="15.00" y="383.65" width="7.03" height="5.31" fill="#f9eded"/>
<rect x="21.63" y="383.65" width="7.03" height="5.31" fill="#faf9fa"/>
<rect x="28.27" y="383.65" width="7.03" height="5.31" fill="#c4daf3"/>
<rect x="34.90" y="383.65" width="7.03" height="5.31" fill="#a8c8ec"/>
<rect x="41.53" y="383.65" width="7.03" height="5.31" fill="#bbd4f0"/>
<rect x="48.17" y="383.65" width="7.03" height="5.31" fill="#faf9fa"/>
<rect x="54.80" y="383.65" width="7.03" height="5.31" fill="#7eaadc"/>
<rect x="61.43" y="383.65" width="7.03" height="5.31" fill="#d7e6f7"/>
<rect x="68.07" y="383.65" width="7.03" height="5.31" fill="#d7e6f7"/>
<rect x="74.70" y="383.65" width="7.03" height="5.31" fill="#e14a50"/>
<rect x="81.33" y="383.65" width="7.03" height="5.31" fill="#e97579"/>
<rect x="87.97" y="383.65" width="7.03" height="5.31" fill="#e76a6f"/>
<rect x="15.00" y="388.55" width="7.03" height="5.31" fill="#ee9496"/>
<rect x="21.63" y="388.55" width="7.03" height="5.31" fill="#f8dada"/>
<rect x="28.27" y="388.55" width="7.03" height="5.31" fill="#faf9fa"/>
<rect x="34.90" y="388.55" width="7.03" height="5.31" fill="#f9e6e7"/>
<rect x="41.53" y="388.55" width="7.03" height="5.31" fill="#f9eded"/>
<rect x="48.17" y="388.55" width="7.03" height="5.31" fill="#d7e6f7"/>
<rect x="54.80" y="388.55" width="7.03" height="5.31" fill="#f8e0e0"/>
<rect x="61.43" y="388.55" width="7.03" height="5.31" fill="#ef9e9f"/>
<rect x="68.07" y="388.55" width="7.03" height="5.31" fill="#ef9e9f"/>
<rect x="74.70" y="388.55" width="7.03" height="5.31" fill="#73a2d8"/>
<rect x="81.33" y="388.55" width="7.03" height="5.31" fill="#7eaadc"/>
<rect x="87.97" y="388.55" width="7.03" height="5.31" fill="#5187c8"/>
<rect x="15.00" y="393.46" width="7.03" height="5.31" fill="#f1a8a9"/>
<rect x="21.63" y="393.46" width="7.03" height="5.31" fill="#f8dada"/>
<rect x="28.27" y="393.46" width="7.03" height="5.31" fill="#faf9fa"/>
<rect x="34.90" y="393.46" width="7.03" height="5.31" fill="#ee9496"/>
<rect x="41.53" y="393.46" width="7.03" height="5.31" fill="#f2b2b2"/>
<rect x="48.17" y="393.46" width="7.03" height="5.31" fill="#faf9fa"/>
<rect x="54.80" y="393.46" width="7.03" height="5.31" fill="#f8e0e0"/>
<rect x="61.43" y="393.46" width="7.03" height="5.31" fill="#deeaf8"/>
<rect x="68.07" y="393.46" width="7.03" height="5.31" fill="#f9e6e7"/>
<rect x="74.70" y="393.46" width="7.03" height="5.31" fill="#4880c4"/>
<rect x="81.33" y="393.46" width="7.03" height="5.31" fill="#88b1e0"/>
<rect x="87.97" y="393.46" width="7.03" height="5.31" fill="#598ecc"/>
<rect x="15.00" y="398.36" width="7.03" height="5.31" fill="#f3baba"/>
<rect x="21.63" y="398.36" width="7.03" height="5.31" fill="#f8dada"/>
<rect x="28.27" y="398.36" width="7.03" height="5.31" fill="#faf3f4"/>
<rect x="34.90" y="398.36" width="7.03" height="5.31" fill="#eb8083"/>
<rect x="41.53" y="398.36" width="7.03" height="5.31" fill="#f1a8a9"/>
<rect x="48.17" y="398.36" width="7.03" height="5.31" fill="#f9eded"/>
<rect x="54.80" y="398.36" width="7.03" height="5.31" fill="#f8dada"/>
<rect x="61.43" y="398.36" width="7.03" height="5.31" fill="#faf9fa"/>
<rect x="68.07" y="398.36" width="7.03" height="5.31" fill="#f9e6e7"/>
<rect x="74.70" y="398.36" width="7.03" height="5.31" fill="#437bc0"/>
<rect x="81.33" y="398.36" width="7.03" height="5.31" fill="#a8c8ec"/>
<rect x="87.97" y="398.36" width="7.03" height="5.31" fill="#6a9bd4"/>
<rect x="15.00" y="403.27" width="7.03" height="5.31" fill="#f8e0e0"/>
<rect x="21.63" y="403.27" width="7.03" height="5.31" fill="#faf3f4"/>
<rect x="28.27" y="403.27" width="7.03" height="5.31" fill="#faf9fa"/>
<rect x="34.90" y="403.27" width="7.03" height="5.31" fill="#eb8083"/>
<rect x="41.53" y="403.27" width="7.03" height="5.31" fill="#ef9e9f"/>
<rect x="48.17" y="403.27" width="7.03" height="5.31" fill="#ef9e9f"/>
<rect x="54.80" y="403.27" width="7.03" height="5.31" fill="#7eaadc"/>
<rect x="61.43" y="403.27" width="7.03" height="5.31" fill="#88b1e0"/>
<rect x="68.07" y="403.27" width="7.03" height="5.31" fill="#93b9e4"/>
<rect x="74.70" y="403.27" width="7.03" height="5.31" fill="#faf9fa"/>
<rect x="81.33" y="403.27" width="7.03" height="5.31" fill="#d7e6f7"/>
<rect x="87.97" y="403.27" width="7.03" height="5.31" fill="#c4daf3"/>
<rect x="15.00" y="408.17" width="7.03" height="5.31" fill="#f7d2d2"/>
<rect x="21.63" y="408.17" width="7.03" height="5.31" fill="#f8e0e0"/>
<rect x="28.27" y="408.17" width="7.03" height="5.31" fill="#f9eded"/>
<rect x="34.90" y="408.17" width="7.03" height="5.31" fill="#ec8a8c"/>
<rect x="41.53" y="408.17" width="7.03" height="5.31" fill="#ec8a8c"/>
<rect x="48.17" y="408.17" width="7.03" height="5.31" fill="#f2b2b2"/>
<rect x="54.80" y="408.17" width="7.03" height="5.31" fill="#7eaadc"/>
<rect x="61.43" y="408.17" width="7.03" height="5.31" fill="#93b9e4"/>
<rect x="68.07" y="408.17" width="7.03" height="5.31" fill="#93b9e4"/>
<rect x="74.70" y="408.17" width="7.03" height="5.31" fill="#faf9fa"/>
<rect x="81.33" y="408.17" width="7.03" height="5.31" fill="#bbd4f0"/>
<rect x="87.97" y="408.17" width="7.03" height="5.31" fill="#cee0f5"/>
<rect x="15.00" y="413.08" width="7.03" height="5.31" fill="#f8e0e0"/>
<rect x="21.63" y="413.08" width="7.03" height="5.31" fill="#faf3f4"/>
<rect x="28.27" y="413.08" width="7.03" height="5.31" fill="#faf3f4"/>
<rect x="34.90" y="413.08" width="7.03" height="5.31" fill="#f2b2b2"/>
<rect x="41.53" y="413.08" width="7.03" height="5.31" fill="#f7d2d2"/>
<rect x="48.17" y="413.08" width="7.03" height="5.31" fill="#f8dada"/>
<rect x="54.80" y="413.08" width="7.03" height="5.31" fill="#6a9bd4"/>
<rect x="61.43" y="413.08" width="7.03" height="5.31" fill="#7eaadc"/>
<rect x="68.07" y="413.08" width="7.03" height="5.31" fill="#6a9bd4"/>
<rect x="74.70" y="413.08" width="7.03" height="5.31" fill="#f8dada"/>
<rect x="81.33" y="413.08" width="7.03" height="5.31" fill="#ef9e9f"/>
<rect x="87.97" y="413.08" width="7.03" height="5.31" fill="#f8dada"/>
<rect x="15.00" y="417.98" width="7.03" height="5.31" fill="#f2b2b2"/>
<rect x="21.63" y="417.98" width="7.03" height="5.31" fill="#f2b2b2"/>
<rect x="28.27" y="417.98" width="7.03" height="5.31" fill="#f1a8a9"/>
<rect x="34.90" y="417.98" width="7.03" height="5.31" fill="#faf9fa"/>
<rect x="41.53" y="417.98" width="7.03" height="5.31" fill="#e56064"/>
<rect x="48.17" y="417.98" width="7.03" height="5.31" fill="#bbd4f0"/>
<rect x="54.80" y="417.98" width="7.03" height="5.31" fill="#7eaadc"/>
<rect x="61.43" y="417.98" width="7.03" height="5.31" fill="#7eaadc"/>
<rect x="68.07" y="417.98" width="7.03" height="5.31" fill="#88b1e0"/>
<rect x="74.70" y="417.98" width="7.03" height="5.31" fill="#faf9fa"/>
<rect x="81.33" y="417.98" width="7.03" height="5.31" fill="#f2b2b2"/>
<rect x="87.97" y="417.98" width="7.03" height="5.31" fill="#f8e0e0"/>
<rect x="15.00" y="422.89" width="7.03" height="5.31" fill="#f2b2b2"/>
<rect x="21.63" y="422.89" width="7.03" height="5.31" fill="#f2b2b2"/>
<rect x="28.27" y="422.89" width="7.03" height="5.31" fill="#f2b2b2"/>
<rect x="34.90" y="422.89" width="7.03" height="5.31" fill="#faf3f4"/>
<rect x="41.53" y="422.89" width="7.03" height="5.31" fill="#faf3f4"/>
<rect x="48.17" y="422.89" width="7.03" height="5.31" fill="#cee0f5"/>
<rect x="54.80" y="422.89" width="7.03" height="5.31" fill="#5187c8"/>
<rect x="61.43" y="422.89" width="7.03" height="5.31" fill="#9dc0e8"/>
<rect x="68.07" y="422.89" width="7.03" height="5.31" fill="#7eaadc"/>
<rect x="74.70" y="422.89" width="7.03" height="5.31" fill="#f2b2b2"/>
<rect x="81.33" y="422.89" width="7.03" height="5.31" fill="#f8dada"/>
<rect x="87.97" y="422.89" width="7.03" height="5.31" fill="#f4c2c2"/>
<rect x="15.00" y="427.79" width="7.03" height="5.31" fill="#f2b2b2"/>
<rect x="21.63" y="427.79" width="7.03" height="5.31" fill="#f2b2b2"/>
<rect x="28.27" y="427.79" width="7.03" height="5.31" fill="#f3baba"/>
<rect x="34.90" y="427.79" width="7.03" height="5.31" fill="#e5eef8"/>
<rect x="41.53" y="427.79" width="7.03" height="5.31" fill="#f9e6e7"/>
<rect x="48.17" y="427.79" width="7.03" height="5.31" fill="#faf9fa"/>
<rect x="54.80" y="427.79" width="7.03" height="5.31" fill="#7eaadc"/>
<rect x="61.43" y="427.79" width="7.03" height="5.31" fill="#3068b2"/>
<rect x="68.07" y="427.79" width="7.03" height="5.31" fill="#f3f5f9"/>
<rect x="74.70" y="427.79" width="7.03" height="5.31" fill="#f8dada"/>
<rect x="81.33" y="427.79" width="7.03" height="5.31" fill="#faf9fa"/>
<rect x="87.97" y="427.79" width="7.03" height="5.31" fill="#f8dada"/>
</g>
<line x1="16.80" y1="435.20" x2="53.60" y2="435.20" stroke="#555555" stroke-width="1.25"/>
<line x1="56.20" y1="435.20" x2="93.40" y2="435.20" stroke="#555555" stroke-width="1.25"/>
<text x="35.80" y="443.80" font-size="6.8" fill="#1f1c1d" text-anchor="middle" textLength="34.00" lengthAdjust="spacingAndGlyphs" stroke="#1f1c1d" stroke-width="0.16">TCR-primed</text>
<text x="75.80" y="443.80" font-size="6.8" fill="#1f1c1d" text-anchor="middle" textLength="24.40" lengthAdjust="spacingAndGlyphs" stroke="#1f1c1d" stroke-width="0.16">Th1 cells</text>
<polyline points="94.90,341.95 96.10,341.95 100.10,332.60 101.30,332.60" fill="none" stroke="#231f20" stroke-width="0.75"/>
<text x="102.40" y="334.90" font-size="6.7" fill="#1f1c1d" textLength="26.00" lengthAdjust="spacingAndGlyphs" stroke="#1f1c1d" stroke-width="0.16">Tnfrsf11b</text>
<polyline points="94.90,346.86 96.10,346.86 100.10,339.30 101.30,339.30" fill="none" stroke="#231f20" stroke-width="0.75"/>
<text x="102.40" y="341.60" font-size="6.7" fill="#1f1c1d" textLength="11.49" lengthAdjust="spacingAndGlyphs" stroke="#1f1c1d" stroke-width="0.16">Icos</text>
<polyline points="94.90,351.76 96.10,351.76 100.10,346.20 101.30,346.20" fill="none" stroke="#231f20" stroke-width="0.75"/>
<text x="102.40" y="348.50" font-size="6.7" fill="#1f1c1d" textLength="19.49" lengthAdjust="spacingAndGlyphs" stroke="#1f1c1d" stroke-width="0.16">Tnfrsf8</text>
<polyline points="94.90,356.67 96.10,356.67 100.10,352.90 101.30,352.90" fill="none" stroke="#231f20" stroke-width="0.75"/>
<text x="102.40" y="355.20" font-size="6.7" fill="#1f1c1d" textLength="20.89" lengthAdjust="spacingAndGlyphs" stroke="#1f1c1d" stroke-width="0.16">Tnfsf10</text>
<polyline points="94.90,361.57 96.10,361.57 100.10,360.00 101.30,360.00" fill="none" stroke="#231f20" stroke-width="0.75"/>
<text x="102.40" y="362.30" font-size="6.7" fill="#1f1c1d" textLength="26.46" lengthAdjust="spacingAndGlyphs" stroke="#1f1c1d" stroke-width="0.16">Tnfrsf13b</text>
<polyline points="94.90,366.48 96.10,366.48 100.10,366.70 101.30,366.70" fill="none" stroke="#231f20" stroke-width="0.75"/>
<text x="102.40" y="369.00" font-size="6.7" fill="#1f1c1d" textLength="22.98" lengthAdjust="spacingAndGlyphs" stroke="#1f1c1d" stroke-width="0.16">Tnfrsf18</text>
<polyline points="94.90,371.38 96.10,371.38 100.10,373.40 101.30,373.40" fill="none" stroke="#231f20" stroke-width="0.75"/>
<text x="102.40" y="375.70" font-size="6.7" fill="#1f1c1d" textLength="19.49" lengthAdjust="spacingAndGlyphs" stroke="#1f1c1d" stroke-width="0.16">Tnfrsf9</text>
<polyline points="94.90,376.29 96.10,376.29 100.10,379.60 101.30,379.60" fill="none" stroke="#231f20" stroke-width="0.75"/>
<text x="102.40" y="381.90" font-size="6.7" fill="#1f1c1d" textLength="17.41" lengthAdjust="spacingAndGlyphs" stroke="#1f1c1d" stroke-width="0.16">Tnfsf9</text>
<polyline points="94.90,381.19 96.10,381.19 100.10,386.00 101.30,386.00" fill="none" stroke="#231f20" stroke-width="0.75"/>
<text x="102.40" y="388.30" font-size="6.7" fill="#1f1c1d" textLength="14.98" lengthAdjust="spacingAndGlyphs" stroke="#1f1c1d" stroke-width="0.16">Cd28</text>
<polyline points="94.90,386.10 96.10,386.10 100.10,392.30 101.30,392.30" fill="none" stroke="#231f20" stroke-width="0.75"/>
<text x="102.40" y="394.60" font-size="6.7" fill="#1f1c1d" textLength="20.89" lengthAdjust="spacingAndGlyphs" stroke="#1f1c1d" stroke-width="0.16">Tnfsf13</text>
<polyline points="94.90,415.53 96.10,415.53 100.10,414.10 101.30,414.10" fill="none" stroke="#231f20" stroke-width="0.75"/>
<text x="102.40" y="416.40" font-size="6.7" fill="#1f1c1d" textLength="26.46" lengthAdjust="spacingAndGlyphs" stroke="#1f1c1d" stroke-width="0.16">Tnfrsf12a</text>
<polyline points="94.90,420.44 96.10,420.44 100.10,420.80 101.30,420.80" fill="none" stroke="#231f20" stroke-width="0.75"/>
<text x="102.40" y="423.10" font-size="6.7" fill="#1f1c1d" textLength="14.98" lengthAdjust="spacingAndGlyphs" stroke="#1f1c1d" stroke-width="0.16">Cd27</text>
<polyline points="94.90,425.34 96.10,425.34 100.10,427.80 101.30,427.80" fill="none" stroke="#231f20" stroke-width="0.75"/>
<text x="102.40" y="430.10" font-size="6.7" fill="#1f1c1d" textLength="19.49" lengthAdjust="spacingAndGlyphs" stroke="#1f1c1d" stroke-width="0.16">Tnfrsf4</text>
<polyline points="94.90,430.25 96.10,430.25 100.10,434.30 101.30,434.30" fill="none" stroke="#231f20" stroke-width="0.75"/>
<text x="102.40" y="436.60" font-size="6.7" fill="#1f1c1d" textLength="22.98" lengthAdjust="spacingAndGlyphs" stroke="#1f1c1d" stroke-width="0.16">Tnfrsf14</text>
<text x="141.90" y="321.00" font-size="11.4" fill="#000" font-weight="bold" stroke="#000" stroke-width="0.1">G</text>
<line x1="153.90" y1="335.00" x2="171.10" y2="335.00" stroke="#7088c8" stroke-width="1.15"/>
<text x="162.50" y="331.90" font-size="6.8" fill="#1f1c1d" text-anchor="middle" textLength="9.40" lengthAdjust="spacingAndGlyphs" stroke="#1f1c1d" stroke-width="0.16">WT</text>
<line x1="174.40" y1="335.00" x2="191.60" y2="335.00" stroke="#7088c8" stroke-width="1.15"/>
<text x="183.00" y="331.90" font-size="6.8" fill="#1f1c1d" text-anchor="middle" textLength="12.10" lengthAdjust="spacingAndGlyphs" stroke="#1f1c1d" stroke-width="0.16">cKO</text>
<line x1="194.80" y1="335.00" x2="212.00" y2="335.00" stroke="#7088c8" stroke-width="1.15"/>
<text x="203.40" y="331.90" font-size="6.8" fill="#1f1c1d" text-anchor="middle" textLength="9.40" lengthAdjust="spacingAndGlyphs" stroke="#1f1c1d" stroke-width="0.16">WT</text>
<line x1="214.40" y1="335.00" x2="231.60" y2="335.00" stroke="#7088c8" stroke-width="1.15"/>
<text x="223.00" y="331.90" font-size="6.8" fill="#1f1c1d" text-anchor="middle" textLength="12.10" lengthAdjust="spacingAndGlyphs" stroke="#1f1c1d" stroke-width="0.16">cKO</text>
<g shape-rendering="crispEdges">
<rect x="150.60" y="338.00" width="7.27" height="12.15" fill="#4880c4"/>
<rect x="157.47" y="338.00" width="7.27" height="12.15" fill="#bbd4f0"/>
<rect x="164.33" y="338.00" width="7.27" height="12.15" fill="#bbd4f0"/>
<rect x="171.20" y="338.00" width="7.27" height="12.15" fill="#f9e6e7"/>
<rect x="178.07" y="338.00" width="7.27" height="12.15" fill="#93b9e4"/>
<rect x="184.93" y="338.00" width="7.27" height="12.15" fill="#b1ceee"/>
<rect x="191.80" y="338.00" width="7.27" height="12.15" fill="#eb8083"/>
<rect x="198.67" y="338.00" width="7.27" height="12.15" fill="#eb8083"/>
<rect x="205.53" y="338.00" width="7.27" height="12.15" fill="#dd3e44"/>
<rect x="212.40" y="338.00" width="7.27" height="12.15" fill="#ef9e9f"/>
<rect x="219.27" y="338.00" width="7.27" height="12.15" fill="#93b9e4"/>
<rect x="226.13" y="338.00" width="7.27" height="12.15" fill="#ecf1f9"/>
<rect x="150.60" y="349.75" width="7.27" height="12.15" fill="#bbd4f0"/>
<rect x="157.47" y="349.75" width="7.27" height="12.15" fill="#c4daf3"/>
<rect x="164.33" y="349.75" width="7.27" height="12.15" fill="#3068b2"/>
<rect x="171.20" y="349.75" width="7.27" height="12.15" fill="#f9e6e7"/>
<rect x="178.07" y="349.75" width="7.27" height="12.15" fill="#93b9e4"/>
<rect x="184.93" y="349.75" width="7.27" height="12.15" fill="#a8c8ec"/>
<rect x="191.80" y="349.75" width="7.27" height="12.15" fill="#f7d2d2"/>
<rect x="198.67" y="349.75" width="7.27" height="12.15" fill="#f7d2d2"/>
<rect x="205.53" y="349.75" width="7.27" height="12.15" fill="#e97579"/>
<rect x="212.40" y="349.75" width="7.27" height="12.15" fill="#e97579"/>
<rect x="219.27" y="349.75" width="7.27" height="12.15" fill="#f7d2d2"/>
<rect x="226.13" y="349.75" width="7.27" height="12.15" fill="#f3baba"/>
<rect x="150.60" y="361.50" width="7.27" height="12.15" fill="#6294d0"/>
<rect x="157.47" y="361.50" width="7.27" height="12.15" fill="#88b1e0"/>
<rect x="164.33" y="361.50" width="7.27" height="12.15" fill="#7eaadc"/>
<rect x="171.20" y="361.50" width="7.27" height="12.15" fill="#f9e6e7"/>
<rect x="178.07" y="361.50" width="7.27" height="12.15" fill="#faf9fa"/>
<rect x="184.93" y="361.50" width="7.27" height="12.15" fill="#faf9fa"/>
<rect x="191.80" y="361.50" width="7.27" height="12.15" fill="#f3f5f9"/>
<rect x="198.67" y="361.50" width="7.27" height="12.15" fill="#faf9fa"/>
<rect x="205.53" y="361.50" width="7.27" height="12.15" fill="#faf9fa"/>
<rect x="212.40" y="361.50" width="7.27" height="12.15" fill="#e56064"/>
<rect x="219.27" y="361.50" width="7.27" height="12.15" fill="#eb8083"/>
<rect x="226.13" y="361.50" width="7.27" height="12.15" fill="#dd3e44"/>
<rect x="150.60" y="373.25" width="7.27" height="12.15" fill="#598ecc"/>
<rect x="157.47" y="373.25" width="7.27" height="12.15" fill="#88b1e0"/>
<rect x="164.33" y="373.25" width="7.27" height="12.15" fill="#73a2d8"/>
<rect x="171.20" y="373.25" width="7.27" height="12.15" fill="#faf9fa"/>
<rect x="178.07" y="373.25" width="7.27" height="12.15" fill="#d7e6f7"/>
<rect x="184.93" y="373.25" width="7.27" height="12.15" fill="#d7e6f7"/>
<rect x="191.80" y="373.25" width="7.27" height="12.15" fill="#f6caca"/>
<rect x="198.67" y="373.25" width="7.27" height="12.15" fill="#f4c2c2"/>
<rect x="205.53" y="373.25" width="7.27" height="12.15" fill="#f4c2c2"/>
<rect x="212.40" y="373.25" width="7.27" height="12.15" fill="#e97579"/>
<rect x="219.27" y="373.25" width="7.27" height="12.15" fill="#e97579"/>
<rect x="226.13" y="373.25" width="7.27" height="12.15" fill="#eb8083"/>
<rect x="150.60" y="385.00" width="7.27" height="12.15" fill="#ee9496"/>
<rect x="157.47" y="385.00" width="7.27" height="12.15" fill="#ef9e9f"/>
<rect x="164.33" y="385.00" width="7.27" height="12.15" fill="#ee9496"/>
<rect x="171.20" y="385.00" width="7.27" height="12.15" fill="#ef9e9f"/>
<rect x="178.07" y="385.00" width="7.27" height="12.15" fill="#ef9e9f"/>
<rect x="184.93" y="385.00" width="7.27" height="12.15" fill="#ee9496"/>
<rect x="191.80" y="385.00" width="7.27" height="12.15" fill="#598ecc"/>
<rect x="198.67" y="385.00" width="7.27" height="12.15" fill="#73a2d8"/>
<rect x="205.53" y="385.00" width="7.27" height="12.15" fill="#73a2d8"/>
<rect x="212.40" y="385.00" width="7.27" height="12.15" fill="#faf9fa"/>
<rect x="219.27" y="385.00" width="7.27" height="12.15" fill="#93b9e4"/>
<rect x="226.13" y="385.00" width="7.27" height="12.15" fill="#e5eef8"/>
<rect x="150.60" y="396.75" width="7.27" height="12.15" fill="#6a9bd4"/>
<rect x="157.47" y="396.75" width="7.27" height="12.15" fill="#deeaf8"/>
<rect x="164.33" y="396.75" width="7.27" height="12.15" fill="#73a2d8"/>
<rect x="171.20" y="396.75" width="7.27" height="12.15" fill="#eb8083"/>
<rect x="178.07" y="396.75" width="7.27" height="12.15" fill="#f4c2c2"/>
<rect x="184.93" y="396.75" width="7.27" height="12.15" fill="#ec8a8c"/>
<rect x="191.80" y="396.75" width="7.27" height="12.15" fill="#7eaadc"/>
<rect x="198.67" y="396.75" width="7.27" height="12.15" fill="#a8c8ec"/>
<rect x="205.53" y="396.75" width="7.27" height="12.15" fill="#bbd4f0"/>
<rect x="212.40" y="396.75" width="7.27" height="12.15" fill="#e56064"/>
<rect x="219.27" y="396.75" width="7.27" height="12.15" fill="#faf3f4"/>
<rect x="226.13" y="396.75" width="7.27" height="12.15" fill="#f2b2b2"/>
<rect x="150.60" y="408.50" width="7.27" height="12.15" fill="#faf3f4"/>
<rect x="157.47" y="408.50" width="7.27" height="12.15" fill="#faf3f4"/>
<rect x="164.33" y="408.50" width="7.27" height="12.15" fill="#f8dada"/>
<rect x="171.20" y="408.50" width="7.27" height="12.15" fill="#f9e6e7"/>
<rect x="178.07" y="408.50" width="7.27" height="12.15" fill="#f9eded"/>
<rect x="184.93" y="408.50" width="7.27" height="12.15" fill="#faf3f4"/>
<rect x="191.80" y="408.50" width="7.27" height="12.15" fill="#4880c4"/>
<rect x="198.67" y="408.50" width="7.27" height="12.15" fill="#73a2d8"/>
<rect x="205.53" y="408.50" width="7.27" height="12.15" fill="#73a2d8"/>
<rect x="212.40" y="408.50" width="7.27" height="12.15" fill="#f2b2b2"/>
<rect x="219.27" y="408.50" width="7.27" height="12.15" fill="#ef9e9f"/>
<rect x="226.13" y="408.50" width="7.27" height="12.15" fill="#ec8a8c"/>
<rect x="150.60" y="420.25" width="7.27" height="12.15" fill="#cee0f5"/>
<rect x="157.47" y="420.25" width="7.27" height="12.15" fill="#d7e6f7"/>
<rect x="164.33" y="420.25" width="7.27" height="12.15" fill="#f9eded"/>
<rect x="171.20" y="420.25" width="7.27" height="12.15" fill="#f9e6e7"/>
<rect x="178.07" y="420.25" width="7.27" height="12.15" fill="#4880c4"/>
<rect x="184.93" y="420.25" width="7.27" height="12.15" fill="#faf9fa"/>
<rect x="191.80" y="420.25" width="7.27" height="12.15" fill="#93b9e4"/>
<rect x="198.67" y="420.25" width="7.27" height="12.15" fill="#c4daf3"/>
<rect x="205.53" y="420.25" width="7.27" height="12.15" fill="#d7e6f7"/>
<rect x="212.40" y="420.25" width="7.27" height="12.15" fill="#d72c32"/>
<rect x="219.27" y="420.25" width="7.27" height="12.15" fill="#ef9e9f"/>
<rect x="226.13" y="420.25" width="7.27" height="12.15" fill="#ef9e9f"/>
</g>
<line x1="153.90" y1="434.60" x2="190.80" y2="434.60" stroke="#555555" stroke-width="1.25"/>
<line x1="194.30" y1="434.60" x2="230.00" y2="434.60" stroke="#555555" stroke-width="1.25"/>
<text x="172.95" y="443.60" font-size="6.8" fill="#1f1c1d" text-anchor="middle" textLength="34.00" lengthAdjust="spacingAndGlyphs" stroke="#1f1c1d" stroke-width="0.16">TCR-primed</text>
<text x="213.15" y="443.60" font-size="6.8" fill="#1f1c1d" text-anchor="middle" textLength="24.40" lengthAdjust="spacingAndGlyphs" stroke="#1f1c1d" stroke-width="0.16">Th1 cells</text>
<text x="235.20" y="346.74" font-size="6.7" fill="#1f1c1d" textLength="13.23" lengthAdjust="spacingAndGlyphs" stroke="#1f1c1d" stroke-width="0.16">Nt5e</text>
<text x="235.20" y="358.43" font-size="6.7" fill="#1f1c1d" textLength="17.76" lengthAdjust="spacingAndGlyphs" stroke="#1f1c1d" stroke-width="0.16">Pdcd1</text>
<text x="235.20" y="370.12" font-size="6.7" fill="#1f1c1d" textLength="19.84" lengthAdjust="spacingAndGlyphs" stroke="#1f1c1d" stroke-width="0.16">Havcr2</text>
<text x="235.20" y="381.81" font-size="6.7" fill="#1f1c1d" textLength="19.86" lengthAdjust="spacingAndGlyphs" stroke="#1f1c1d" stroke-width="0.16">Entpd1</text>
<text x="235.20" y="393.49" font-size="6.7" fill="#1f1c1d" textLength="13.94" lengthAdjust="spacingAndGlyphs" stroke="#1f1c1d" stroke-width="0.16">Lag3</text>
<text x="235.20" y="405.18" font-size="6.7" fill="#1f1c1d" textLength="15.09" lengthAdjust="spacingAndGlyphs" stroke="#1f1c1d" stroke-width="0.16">Tigit1</text>
<text x="235.20" y="416.87" font-size="6.7" fill="#1f1c1d" textLength="18.46" lengthAdjust="spacingAndGlyphs" stroke="#1f1c1d" stroke-width="0.16">Cd274</text>
<text x="235.20" y="428.56" font-size="6.7" fill="#1f1c1d" textLength="14.62" lengthAdjust="spacingAndGlyphs" stroke="#1f1c1d" stroke-width="0.16">Ctla4</text>
<defs><linearGradient id="cb" x1="0" y1="0" x2="0" y2="1"><stop offset="0" stop-color="#be1e2d"/><stop offset="0.25" stop-color="#e07a7e"/><stop offset="0.5" stop-color="#f8f6f8"/><stop offset="0.75" stop-color="#80aad8"/><stop offset="1" stop-color="#2a68ad"/></linearGradient></defs>
<rect x="267.10" y="336.50" width="5.20" height="83.20" fill="url(#cb)"/>
<text x="275.40" y="340.00" font-size="6.4" fill="#1f1c1d" stroke="#1f1c1d" stroke-width="0.16">2</text>
<text x="275.40" y="360.80" font-size="6.4" fill="#1f1c1d" stroke="#1f1c1d" stroke-width="0.16">1</text>
<text x="275.40" y="381.10" font-size="6.4" fill="#1f1c1d" stroke="#1f1c1d" stroke-width="0.16">0</text>
<text x="275.40" y="401.70" font-size="6.4" fill="#1f1c1d" stroke="#1f1c1d" stroke-width="0.16">−1</text>
<text x="275.40" y="421.50" font-size="6.4" fill="#1f1c1d" stroke="#1f1c1d" stroke-width="0.16">−2</text>
<text x="397.30" y="171.00" font-size="11.4" fill="#000" font-weight="bold" stroke="#000" stroke-width="0.1">H</text>
<text x="440.40" y="185.60" font-size="6.6" fill="#1f1c1d" text-anchor="middle" textLength="9.30" lengthAdjust="spacingAndGlyphs" stroke="#1f1c1d" stroke-width="0.16">WT</text>
<text x="484.50" y="185.60" font-size="6.6" fill="#1f1c1d" text-anchor="middle" textLength="22.80" lengthAdjust="spacingAndGlyphs" stroke="#1f1c1d" stroke-width="0.16">Id3-cKO</text>
<text x="414.80" y="211.40" font-size="6.6" fill="#1f1c1d" text-anchor="middle" textLength="12.90" lengthAdjust="spacingAndGlyphs" stroke="#1f1c1d" stroke-width="0.16" transform="rotate(-90 414.80 211.40)">PD-1</text>
<text x="462.30" y="240.30" font-size="6.6" fill="#1f1c1d" text-anchor="middle" textLength="18.60" lengthAdjust="spacingAndGlyphs" stroke="#1f1c1d" stroke-width="0.16">CD62L</text>
<defs><clipPath id="clipWT"><rect x="419.4" y="190.2" width="42.2" height="41.4"/></clipPath><clipPath id="clipKO"><rect x="463.9" y="190.2" width="41.7" height="41.7"/></clipPath><radialGradient id="gWT1"><stop offset="0" stop-color="#3f8fc4" stop-opacity="0.95"/><stop offset="0.6" stop-color="#5f86cf" stop-opacity="0.6"/><stop offset="1" stop-color="#8a96dc" stop-opacity="0"/></radialGradient><radialGradient id="gWT2"><stop offset="0" stop-color="#5fb86a" stop-opacity="1"/><stop offset="0.35" stop-color="#3a9bb8" stop-opacity="0.9"/><stop offset="0.7" stop-color="#5a82cf" stop-opacity="0.55"/><stop offset="1" stop-color="#8a96dc" stop-opacity="0"/></radialGradient><radialGradient id="gKO"><stop offset="0" stop-color="#6a6fb8" stop-opacity="0.55"/><stop offset="0.6" stop-color="#8a8ccc" stop-opacity="0.3"/><stop offset="1" stop-color="#a8a8dc" stop-opacity="0"/></radialGradient></defs>
<g clip-path="url(#clipWT)">
<ellipse cx="433.0" cy="213.0" rx="12" ry="8.5" fill="url(#gWT1)"/>
<ellipse cx="445.5" cy="216.5" rx="10" ry="9.5" fill="url(#gWT2)"/>
<circle cx="435.83" cy="216.56" r="0.5" fill="#4a6fc8" opacity="0.28"/>
<circle cx="436.08" cy="212.42" r="0.5" fill="#4a6fc8" opacity="0.28"/>
<circle cx="430.09" cy="212.93" r="0.5" fill="#4a6fc8" opacity="0.28"/>
<circle cx="447.45" cy="216.12" r="0.5" fill="#4a6fc8" opacity="0.28"/>
<circle cx="446.81" cy="215.24" r="0.5" fill="#4a6fc8" opacity="0.28"/>
<circle cx="441.36" cy="214.93" r="0.5" fill="#4a6fc8" opacity="0.28"/>
<circle cx="423.84" cy="218.28" r="0.5" fill="#4a6fc8" opacity="0.28"/>
<circle cx="442.30" cy="216.49" r="0.5" fill="#4a6fc8" opacity="0.28"/>
<circle cx="423.62" cy="205.28" r="0.5" fill="#4a6fc8" opacity="0.28"/>
<circle cx="430.44" cy="211.66" r="0.5" fill="#4a6fc8" opacity="0.28"/>
<circle cx="440.60" cy="213.77" r="0.5" fill="#4a6fc8" opacity="0.28"/>
<circle cx="442.43" cy="210.79" r="0.5" fill="#4a6fc8" opacity="0.28"/>
<circle cx="440.62" cy="215.97" r="0.5" fill="#4a6fc8" opacity="0.28"/>
<circle cx="432.38" cy="222.59" r="0.5" fill="#4a6fc8" opacity="0.28"/>
<circle cx="442.73" cy="219.99" r="0.5" fill="#4a6fc8" opacity="0.28"/>
<circle cx="432.73" cy="210.30" r="0.5" fill="#4a6fc8" opacity="0.28"/>
<circle cx="435.08" cy="213.47" r="0.5" fill="#4a6fc8" opacity="0.28"/>
<circle cx="443.37" cy="215.24" r="0.5" fill="#4a6fc8" opacity="0.28"/>
<circle cx="434.20" cy="209.22" r="0.5" fill="#4a6fc8" opacity="0.28"/>
<circle cx="433.57" cy="220.10" r="0.5" fill="#4a6fc8" opacity="0.28"/>
<circle cx="431.13" cy="215.22" r="0.5" fill="#4a6fc8" opacity="0.28"/>
<circle cx="441.63" cy="206.55" r="0.5" fill="#4a6fc8" opacity="0.28"/>
<circle cx="438.41" cy="220.53" r="0.5" fill="#4a6fc8" opacity="0.28"/>
<circle cx="420.88" cy="212.39" r="0.5" fill="#4a6fc8" opacity="0.28"/>
<circle cx="437.10" cy="209.91" r="0.5" fill="#4a6fc8" opacity="0.28"/>
<circle cx="442.23" cy="213.69" r="0.5" fill="#4a6fc8" opacity="0.28"/>
<circle cx="425.55" cy="218.14" r="0.5" fill="#4a6fc8" opacity="0.28"/>
<circle cx="443.69" cy="218.73" r="0.5" fill="#4a6fc8" opacity="0.28"/>
<circle cx="450.25" cy="215.81" r="0.5" fill="#4a6fc8" opacity="0.28"/>
<circle cx="439.01" cy="207.50" r="0.5" fill="#4a6fc8" opacity="0.28"/>
<circle cx="443.23" cy="210.94" r="0.5" fill="#4a6fc8" opacity="0.28"/>
<circle cx="434.15" cy="207.68" r="0.5" fill="#4a6fc8" opacity="0.28"/>
<circle cx="429.78" cy="211.34" r="0.5" fill="#4a6fc8" opacity="0.28"/>
<circle cx="448.96" cy="203.84" r="0.5" fill="#4a6fc8" opacity="0.28"/>
<circle cx="425.61" cy="215.20" r="0.5" fill="#4a6fc8" opacity="0.28"/>
<circle cx="450.27" cy="216.89" r="0.5" fill="#4a6fc8" opacity="0.28"/>
<circle cx="421.85" cy="201.41" r="0.5" fill="#4a6fc8" opacity="0.28"/>
<circle cx="441.04" cy="210.32" r="0.5" fill="#4a6fc8" opacity="0.28"/>
<circle cx="428.48" cy="218.89" r="0.5" fill="#4a6fc8" opacity="0.28"/>
<circle cx="447.37" cy="214.79" r="0.5" fill="#4a6fc8" opacity="0.28"/>
<circle cx="440.09" cy="216.17" r="0.5" fill="#4a6fc8" opacity="0.28"/>
<circle cx="451.55" cy="217.10" r="0.5" fill="#4a6fc8" opacity="0.28"/>
<circle cx="442.41" cy="216.74" r="0.5" fill="#4a6fc8" opacity="0.28"/>
<circle cx="424.67" cy="220.41" r="0.5" fill="#4a6fc8" opacity="0.28"/>
<circle cx="446.12" cy="216.65" r="0.5" fill="#4a6fc8" opacity="0.28"/>
<circle cx="421.22" cy="210.83" r="0.5" fill="#4a6fc8" opacity="0.28"/>
<circle cx="445.16" cy="204.94" r="0.5" fill="#4a6fc8" opacity="0.28"/>
<circle cx="436.44" cy="219.10" r="0.5" fill="#4a6fc8" opacity="0.28"/>
<circle cx="426.85" cy="222.05" r="0.5" fill="#4a6fc8" opacity="0.28"/>
<circle cx="442.69" cy="213.25" r="0.5" fill="#4a6fc8" opacity="0.28"/>
<circle cx="440.76" cy="217.25" r="0.5" fill="#4a6fc8" opacity="0.28"/>
<circle cx="439.02" cy="219.73" r="0.5" fill="#4a6fc8" opacity="0.28"/>
<circle cx="432.38" cy="211.93" r="0.5" fill="#4a6fc8" opacity="0.28"/>
<circle cx="446.85" cy="214.13" r="0.5" fill="#4a6fc8" opacity="0.28"/>
<circle cx="430.52" cy="218.73" r="0.5" fill="#4a6fc8" opacity="0.28"/>
<circle cx="450.46" cy="211.78" r="0.5" fill="#4a6fc8" opacity="0.28"/>
<circle cx="426.27" cy="213.33" r="0.5" fill="#4a6fc8" opacity="0.28"/>
<circle cx="436.73" cy="212.51" r="0.5" fill="#4a6fc8" opacity="0.28"/>
<circle cx="449.94" cy="208.87" r="0.5" fill="#4a6fc8" opacity="0.28"/>
<circle cx="448.71" cy="207.66" r="0.5" fill="#4a6fc8" opacity="0.28"/>
<circle cx="431.31" cy="217.16" r="0.5" fill="#4a6fc8" opacity="0.28"/>
<circle cx="447.59" cy="218.30" r="0.5" fill="#4a6fc8" opacity="0.28"/>
<circle cx="440.93" cy="214.71" r="0.5" fill="#4a6fc8" opacity="0.28"/>
<circle cx="439.30" cy="216.88" r="0.5" fill="#4a6fc8" opacity="0.28"/>
<circle cx="436.50" cy="215.39" r="0.5" fill="#4a6fc8" opacity="0.28"/>
<circle cx="442.87" cy="214.00" r="0.5" fill="#4a6fc8" opacity="0.28"/>
<circle cx="444.49" cy="216.83" r="0.5" fill="#4a6fc8" opacity="0.28"/>
<circle cx="455.09" cy="215.62" r="0.5" fill="#4a6fc8" opacity="0.28"/>
<circle cx="434.37" cy="212.14" r="0.5" fill="#4a6fc8" opacity="0.28"/>
<circle cx="437.89" cy="218.62" r="0.5" fill="#4a6fc8" opacity="0.28"/>
<circle cx="435.14" cy="215.93" r="0.5" fill="#4a6fc8" opacity="0.28"/>
<circle cx="453.62" cy="201.18" r="0.5" fill="#4a6fc8" opacity="0.28"/>
<circle cx="428.45" cy="215.22" r="0.5" fill="#4a6fc8" opacity="0.28"/>
<circle cx="441.39" cy="215.19" r="0.5" fill="#4a6fc8" opacity="0.28"/>
<circle cx="434.34" cy="217.28" r="0.5" fill="#4a6fc8" opacity="0.28"/>
<circle cx="440.40" cy="211.39" r="0.5" fill="#4a6fc8" opacity="0.28"/>
<circle cx="458.66" cy="215.78" r="0.5" fill="#4a6fc8" opacity="0.28"/>
<circle cx="433.29" cy="213.50" r="0.5" fill="#4a6fc8" opacity="0.28"/>
<circle cx="436.08" cy="213.69" r="0.5" fill="#4a6fc8" opacity="0.28"/>
<circle cx="414.81" cy="211.57" r="0.5" fill="#4a6fc8" opacity="0.28"/>
<circle cx="446.57" cy="208.16" r="0.5" fill="#4a6fc8" opacity="0.28"/>
<circle cx="437.43" cy="218.77" r="0.5" fill="#4a6fc8" opacity="0.28"/>
<circle cx="445.28" cy="221.46" r="0.5" fill="#4a6fc8" opacity="0.28"/>
<circle cx="423.54" cy="212.23" r="0.5" fill="#4a6fc8" opacity="0.28"/>
<circle cx="435.10" cy="217.12" r="0.5" fill="#4a6fc8" opacity="0.28"/>
<circle cx="447.28" cy="200.59" r="0.5" fill="#4a6fc8" opacity="0.28"/>
<circle cx="447.25" cy="206.76" r="0.5" fill="#4a6fc8" opacity="0.28"/>
<circle cx="443.81" cy="206.54" r="0.5" fill="#4a6fc8" opacity="0.28"/>
<circle cx="439.49" cy="219.97" r="0.5" fill="#4a6fc8" opacity="0.28"/>
<circle cx="436.73" cy="214.96" r="0.5" fill="#4a6fc8" opacity="0.28"/>
<circle cx="444.78" cy="214.71" r="0.5" fill="#4a6fc8" opacity="0.28"/>
<circle cx="437.25" cy="221.67" r="0.5" fill="#4a6fc8" opacity="0.28"/>
<circle cx="446.91" cy="212.53" r="0.5" fill="#4a6fc8" opacity="0.28"/>
<circle cx="461.34" cy="208.27" r="0.5" fill="#4a6fc8" opacity="0.28"/>
<circle cx="445.77" cy="212.67" r="0.5" fill="#4a6fc8" opacity="0.28"/>
<circle cx="439.13" cy="217.53" r="0.5" fill="#4a6fc8" opacity="0.28"/>
<circle cx="439.89" cy="217.19" r="0.5" fill="#4a6fc8" opacity="0.28"/>
<circle cx="425.02" cy="206.45" r="0.5" fill="#4a6fc8" opacity="0.28"/>
<circle cx="443.23" cy="209.18" r="0.5" fill="#4a6fc8" opacity="0.28"/>
<circle cx="429.27" cy="206.65" r="0.5" fill="#4a6fc8" opacity="0.28"/>
<circle cx="448.76" cy="217.73" r="0.5" fill="#4a6fc8" opacity="0.28"/>
<circle cx="450.52" cy="209.31" r="0.5" fill="#4a6fc8" opacity="0.28"/>
<circle cx="438.01" cy="208.30" r="0.5" fill="#4a6fc8" opacity="0.28"/>
<circle cx="444.51" cy="221.95" r="0.5" fill="#4a6fc8" opacity="0.28"/>
<circle cx="430.43" cy="221.80" r="0.5" fill="#4a6fc8" opacity="0.28"/>
<circle cx="446.40" cy="213.11" r="0.5" fill="#4a6fc8" opacity="0.28"/>
<circle cx="421.24" cy="221.03" r="0.5" fill="#4a6fc8" opacity="0.28"/>
<circle cx="437.18" cy="210.99" r="0.5" fill="#4a6fc8" opacity="0.28"/>
<circle cx="441.40" cy="216.05" r="0.5" fill="#4a6fc8" opacity="0.28"/>
<circle cx="450.73" cy="208.90" r="0.5" fill="#4a6fc8" opacity="0.28"/>
<circle cx="447.66" cy="221.44" r="0.5" fill="#4a6fc8" opacity="0.28"/>
<circle cx="450.34" cy="213.10" r="0.5" fill="#4a6fc8" opacity="0.28"/>
<circle cx="431.68" cy="219.09" r="0.5" fill="#4a6fc8" opacity="0.28"/>
<circle cx="438.98" cy="214.62" r="0.5" fill="#4a6fc8" opacity="0.28"/>
<circle cx="450.11" cy="212.68" r="0.5" fill="#4a6fc8" opacity="0.28"/>
<circle cx="418.48" cy="212.06" r="0.5" fill="#4a6fc8" opacity="0.28"/>
<circle cx="422.24" cy="218.09" r="0.5" fill="#4a6fc8" opacity="0.28"/>
<circle cx="440.69" cy="210.94" r="0.5" fill="#4a6fc8" opacity="0.28"/>
<circle cx="437.92" cy="218.16" r="0.5" fill="#4a6fc8" opacity="0.28"/>
<circle cx="438.67" cy="220.63" r="0.5" fill="#4a6fc8" opacity="0.28"/>
<circle cx="437.48" cy="219.20" r="0.5" fill="#4a6fc8" opacity="0.28"/>
<circle cx="450.68" cy="222.05" r="0.5" fill="#4a6fc8" opacity="0.28"/>
<circle cx="432.29" cy="218.40" r="0.5" fill="#4a6fc8" opacity="0.28"/>
<circle cx="422.05" cy="208.58" r="0.5" fill="#4a6fc8" opacity="0.28"/>
<circle cx="421.32" cy="219.34" r="0.5" fill="#4a6fc8" opacity="0.28"/>
<circle cx="427.53" cy="213.94" r="0.5" fill="#4a6fc8" opacity="0.28"/>
<circle cx="436.37" cy="213.86" r="0.5" fill="#4a6fc8" opacity="0.28"/>
<circle cx="432.97" cy="215.17" r="0.5" fill="#4a6fc8" opacity="0.28"/>
<circle cx="453.23" cy="214.22" r="0.5" fill="#4a6fc8" opacity="0.28"/>
<circle cx="442.51" cy="219.00" r="0.5" fill="#4a6fc8" opacity="0.28"/>
<circle cx="436.32" cy="207.70" r="0.5" fill="#4a6fc8" opacity="0.28"/>
<circle cx="433.28" cy="219.37" r="0.5" fill="#4a6fc8" opacity="0.28"/>
<circle cx="424.01" cy="211.01" r="0.5" fill="#4a6fc8" opacity="0.28"/>
<circle cx="446.56" cy="217.96" r="0.5" fill="#4a6fc8" opacity="0.28"/>
<circle cx="438.06" cy="218.03" r="0.5" fill="#4a6fc8" opacity="0.28"/>
<circle cx="439.41" cy="208.11" r="0.5" fill="#4a6fc8" opacity="0.28"/>
<circle cx="424.71" cy="210.81" r="0.5" fill="#4a6fc8" opacity="0.28"/>
<circle cx="445.84" cy="211.17" r="0.5" fill="#4a6fc8" opacity="0.28"/>
<circle cx="430.33" cy="210.15" r="0.5" fill="#4a6fc8" opacity="0.28"/>
<circle cx="424.98" cy="213.41" r="0.5" fill="#4a6fc8" opacity="0.28"/>
<circle cx="427.97" cy="215.82" r="0.5" fill="#4a6fc8" opacity="0.28"/>
<circle cx="417.94" cy="215.64" r="0.5" fill="#4a6fc8" opacity="0.28"/>
<circle cx="432.55" cy="204.29" r="0.5" fill="#4a6fc8" opacity="0.28"/>
<circle cx="444.16" cy="212.62" r="0.5" fill="#4a6fc8" opacity="0.28"/>
<circle cx="419.04" cy="209.62" r="0.5" fill="#4a6fc8" opacity="0.28"/>
<circle cx="440.47" cy="211.71" r="0.5" fill="#4a6fc8" opacity="0.28"/>
<circle cx="444.63" cy="217.74" r="0.5" fill="#4a6fc8" opacity="0.28"/>
<circle cx="443.66" cy="215.63" r="0.5" fill="#4a6fc8" opacity="0.28"/>
<circle cx="449.34" cy="217.30" r="0.5" fill="#4a6fc8" opacity="0.28"/>
<circle cx="441.84" cy="203.58" r="0.5" fill="#4a6fc8" opacity="0.28"/>
<circle cx="445.62" cy="220.55" r="0.5" fill="#4a6fc8" opacity="0.28"/>
<circle cx="435.48" cy="211.65" r="0.5" fill="#4a6fc8" opacity="0.28"/>
<circle cx="454.49" cy="205.21" r="0.5" fill="#4a6fc8" opacity="0.28"/>
<circle cx="441.99" cy="226.12" r="0.5" fill="#4a6fc8" opacity="0.28"/>
<circle cx="430.12" cy="217.45" r="0.5" fill="#4a6fc8" opacity="0.28"/>
<circle cx="454.03" cy="213.40" r="0.5" fill="#4a6fc8" opacity="0.28"/>
<circle cx="442.77" cy="218.51" r="0.5" fill="#4a6fc8" opacity="0.28"/>
<circle cx="430.30" cy="213.55" r="0.5" fill="#4a6fc8" opacity="0.28"/>
<circle cx="440.49" cy="218.13" r="0.5" fill="#4a6fc8" opacity="0.28"/>
<circle cx="437.71" cy="213.02" r="0.5" fill="#4a6fc8" opacity="0.28"/>
<circle cx="429.36" cy="212.21" r="0.5" fill="#4a6fc8" opacity="0.28"/>
<circle cx="445.58" cy="214.51" r="0.5" fill="#4a6fc8" opacity="0.28"/>
<circle cx="430.75" cy="209.79" r="0.5" fill="#4a6fc8" opacity="0.28"/>
<circle cx="460.67" cy="219.70" r="0.5" fill="#4a6fc8" opacity="0.28"/>
<circle cx="443.42" cy="201.04" r="0.5" fill="#4a6fc8" opacity="0.28"/>
<circle cx="443.28" cy="216.40" r="0.5" fill="#4a6fc8" opacity="0.28"/>
<circle cx="452.31" cy="216.14" r="0.5" fill="#4a6fc8" opacity="0.28"/>
<circle cx="437.43" cy="216.61" r="0.5" fill="#4a6fc8" opacity="0.28"/>
<circle cx="421.47" cy="219.17" r="0.5" fill="#4a6fc8" opacity="0.28"/>
<circle cx="440.76" cy="210.49" r="0.5" fill="#4a6fc8" opacity="0.28"/>
<circle cx="449.27" cy="223.05" r="0.5" fill="#4a6fc8" opacity="0.28"/>
<circle cx="426.08" cy="210.67" r="0.5" fill="#4a6fc8" opacity="0.28"/>
<circle cx="440.48" cy="214.92" r="0.5" fill="#4a6fc8" opacity="0.28"/>
<circle cx="434.61" cy="209.13" r="0.5" fill="#4a6fc8" opacity="0.28"/>
<circle cx="456.02" cy="219.19" r="0.5" fill="#4a6fc8" opacity="0.28"/>
<circle cx="427.85" cy="207.27" r="0.5" fill="#4a6fc8" opacity="0.28"/>
<circle cx="452.48" cy="218.95" r="0.5" fill="#4a6fc8" opacity="0.28"/>
<circle cx="453.48" cy="218.05" r="0.5" fill="#4a6fc8" opacity="0.28"/>
<circle cx="430.59" cy="215.30" r="0.5" fill="#4a6fc8" opacity="0.28"/>
<circle cx="419.64" cy="210.26" r="0.5" fill="#4a6fc8" opacity="0.28"/>
<circle cx="437.50" cy="216.61" r="0.5" fill="#4a6fc8" opacity="0.28"/>
<circle cx="431.82" cy="213.38" r="0.5" fill="#4a6fc8" opacity="0.28"/>
<circle cx="441.90" cy="215.88" r="0.5" fill="#4a6fc8" opacity="0.28"/>
<circle cx="443.42" cy="215.04" r="0.5" fill="#4a6fc8" opacity="0.28"/>
<circle cx="435.25" cy="217.95" r="0.5" fill="#4a6fc8" opacity="0.28"/>
<circle cx="438.42" cy="209.87" r="0.5" fill="#4a6fc8" opacity="0.28"/>
<circle cx="432.68" cy="214.00" r="0.5" fill="#4a6fc8" opacity="0.28"/>
<circle cx="437.07" cy="214.78" r="0.5" fill="#4a6fc8" opacity="0.28"/>
<circle cx="438.00" cy="214.88" r="0.5" fill="#4a6fc8" opacity="0.28"/>
<circle cx="436.86" cy="207.71" r="0.5" fill="#4a6fc8" opacity="0.28"/>
<circle cx="441.58" cy="219.27" r="0.5" fill="#4a6fc8" opacity="0.28"/>
<circle cx="441.69" cy="213.05" r="0.5" fill="#4a6fc8" opacity="0.28"/>
<circle cx="441.79" cy="209.17" r="0.5" fill="#4a6fc8" opacity="0.28"/>
<circle cx="421.88" cy="214.30" r="0.5" fill="#4a6fc8" opacity="0.28"/>
<circle cx="430.09" cy="217.70" r="0.5" fill="#4a6fc8" opacity="0.28"/>
<circle cx="428.79" cy="200.86" r="0.5" fill="#4a6fc8" opacity="0.28"/>
<circle cx="429.16" cy="221.89" r="0.5" fill="#4a6fc8" opacity="0.28"/>
<circle cx="434.75" cy="207.15" r="0.5" fill="#4a6fc8" opacity="0.28"/>
<circle cx="431.51" cy="216.60" r="0.5" fill="#4a6fc8" opacity="0.28"/>
<circle cx="442.22" cy="214.88" r="0.5" fill="#4a6fc8" opacity="0.28"/>
<circle cx="450.61" cy="217.53" r="0.5" fill="#4a6fc8" opacity="0.28"/>
<circle cx="437.82" cy="216.98" r="0.5" fill="#4a6fc8" opacity="0.28"/>
<circle cx="452.06" cy="218.86" r="0.5" fill="#4a6fc8" opacity="0.28"/>
<circle cx="446.70" cy="208.59" r="0.5" fill="#4a6fc8" opacity="0.28"/>
<circle cx="436.74" cy="217.65" r="0.5" fill="#4a6fc8" opacity="0.28"/>
<circle cx="435.48" cy="219.34" r="0.5" fill="#4a6fc8" opacity="0.28"/>
<circle cx="443.07" cy="218.54" r="0.5" fill="#4a6fc8" opacity="0.28"/>
<circle cx="436.19" cy="226.73" r="0.5" fill="#4a6fc8" opacity="0.28"/>
<circle cx="448.54" cy="212.92" r="0.5" fill="#4a6fc8" opacity="0.28"/>
<circle cx="438.77" cy="226.98" r="0.5" fill="#4a6fc8" opacity="0.28"/>
<circle cx="435.08" cy="218.37" r="0.5" fill="#4a6fc8" opacity="0.28"/>
<circle cx="446.33" cy="214.03" r="0.5" fill="#4a6fc8" opacity="0.28"/>
<circle cx="428.08" cy="214.94" r="0.5" fill="#4a6fc8" opacity="0.28"/>
<circle cx="441.05" cy="219.65" r="0.5" fill="#4a6fc8" opacity="0.28"/>
<circle cx="444.65" cy="214.12" r="0.5" fill="#4a6fc8" opacity="0.28"/>
<circle cx="445.26" cy="216.70" r="0.5" fill="#4a6fc8" opacity="0.28"/>
<circle cx="439.75" cy="214.28" r="0.5" fill="#4a6fc8" opacity="0.28"/>
<circle cx="435.93" cy="217.43" r="0.5" fill="#4a6fc8" opacity="0.28"/>
<circle cx="429.04" cy="210.86" r="0.5" fill="#4a6fc8" opacity="0.28"/>
<circle cx="438.04" cy="206.68" r="0.5" fill="#4a6fc8" opacity="0.28"/>
<circle cx="434.30" cy="203.96" r="0.5" fill="#4a6fc8" opacity="0.28"/>
<circle cx="432.20" cy="216.84" r="0.5" fill="#4a6fc8" opacity="0.28"/>
<circle cx="442.81" cy="213.73" r="0.5" fill="#4a6fc8" opacity="0.28"/>
<circle cx="436.03" cy="206.92" r="0.5" fill="#4a6fc8" opacity="0.28"/>
<circle cx="453.54" cy="216.58" r="0.5" fill="#4a6fc8" opacity="0.28"/>
<circle cx="447.29" cy="209.59" r="0.5" fill="#4a6fc8" opacity="0.28"/>
<circle cx="436.43" cy="204.90" r="0.5" fill="#4a6fc8" opacity="0.28"/>
<circle cx="444.63" cy="218.68" r="0.5" fill="#4a6fc8" opacity="0.28"/>
<circle cx="421.87" cy="213.74" r="0.5" fill="#4a6fc8" opacity="0.28"/>
<circle cx="443.36" cy="205.19" r="0.5" fill="#4a6fc8" opacity="0.28"/>
<circle cx="422.48" cy="208.67" r="0.5" fill="#4a6fc8" opacity="0.28"/>
<circle cx="432.65" cy="206.99" r="0.5" fill="#4a6fc8" opacity="0.28"/>
<circle cx="438.27" cy="215.25" r="0.5" fill="#4a6fc8" opacity="0.28"/>
<circle cx="443.39" cy="217.51" r="0.5" fill="#4a6fc8" opacity="0.28"/>
<circle cx="450.77" cy="219.82" r="0.5" fill="#4a6fc8" opacity="0.28"/>
<circle cx="426.85" cy="211.47" r="0.5" fill="#4a6fc8" opacity="0.28"/>
<circle cx="428.99" cy="208.62" r="0.5" fill="#4a6fc8" opacity="0.28"/>
<circle cx="437.31" cy="214.03" r="0.5" fill="#4a6fc8" opacity="0.28"/>
<circle cx="442.17" cy="206.07" r="0.5" fill="#4a6fc8" opacity="0.28"/>
<circle cx="427.48" cy="213.88" r="0.5" fill="#4a6fc8" opacity="0.28"/>
<circle cx="436.30" cy="212.44" r="0.5" fill="#4a6fc8" opacity="0.28"/>
<circle cx="437.46" cy="210.20" r="0.5" fill="#4a6fc8" opacity="0.28"/>
<circle cx="443.96" cy="215.77" r="0.5" fill="#4a6fc8" opacity="0.28"/>
<circle cx="437.25" cy="210.64" r="0.5" fill="#4a6fc8" opacity="0.28"/>
<circle cx="436.52" cy="200.39" r="0.5" fill="#4a6fc8" opacity="0.28"/>
<circle cx="429.66" cy="214.19" r="0.5" fill="#4a6fc8" opacity="0.28"/>
<circle cx="425.22" cy="215.00" r="0.5" fill="#4a6fc8" opacity="0.28"/>
<circle cx="439.25" cy="207.11" r="0.5" fill="#4a6fc8" opacity="0.28"/>
<circle cx="435.87" cy="212.43" r="0.5" fill="#4a6fc8" opacity="0.28"/>
<circle cx="441.91" cy="217.06" r="0.5" fill="#4a6fc8" opacity="0.28"/>
<circle cx="437.69" cy="209.74" r="0.5" fill="#4a6fc8" opacity="0.28"/>
<circle cx="436.77" cy="213.67" r="0.5" fill="#4a6fc8" opacity="0.28"/>
<circle cx="444.24" cy="215.47" r="0.5" fill="#4a6fc8" opacity="0.28"/>
<circle cx="431.86" cy="207.23" r="0.5" fill="#4a6fc8" opacity="0.28"/>
<circle cx="434.83" cy="210.30" r="0.5" fill="#4a6fc8" opacity="0.28"/>
<circle cx="428.55" cy="213.42" r="0.5" fill="#4a6fc8" opacity="0.28"/>
<circle cx="433.83" cy="214.53" r="0.5" fill="#4a6fc8" opacity="0.28"/>
<circle cx="442.45" cy="211.93" r="0.5" fill="#4a6fc8" opacity="0.28"/>
<circle cx="457.76" cy="212.39" r="0.5" fill="#4a6fc8" opacity="0.28"/>
<circle cx="447.36" cy="214.61" r="0.5" fill="#4a6fc8" opacity="0.28"/>
<circle cx="447.49" cy="202.12" r="0.5" fill="#4a6fc8" opacity="0.28"/>
<circle cx="431.61" cy="215.24" r="0.5" fill="#4a6fc8" opacity="0.28"/>
<circle cx="443.12" cy="225.68" r="0.5" fill="#4a6fc8" opacity="0.28"/>
<circle cx="440.74" cy="220.40" r="0.5" fill="#4a6fc8" opacity="0.28"/>
<circle cx="444.51" cy="218.74" r="0.5" fill="#4a6fc8" opacity="0.28"/>
<circle cx="442.34" cy="213.22" r="0.5" fill="#4a6fc8" opacity="0.28"/>
<circle cx="442.33" cy="208.61" r="0.5" fill="#4a6fc8" opacity="0.28"/>
<circle cx="448.04" cy="208.91" r="0.5" fill="#4a6fc8" opacity="0.28"/>
<circle cx="440.12" cy="224.60" r="0.5" fill="#4a6fc8" opacity="0.28"/>
<circle cx="436.10" cy="214.10" r="0.5" fill="#4a6fc8" opacity="0.28"/>
<circle cx="447.89" cy="214.13" r="0.5" fill="#4a6fc8" opacity="0.28"/>
<circle cx="431.14" cy="215.29" r="0.5" fill="#4a6fc8" opacity="0.28"/>
<circle cx="442.95" cy="217.55" r="0.5" fill="#4a6fc8" opacity="0.28"/>
<circle cx="431.43" cy="222.76" r="0.5" fill="#4a6fc8" opacity="0.28"/>
<circle cx="452.17" cy="214.09" r="0.5" fill="#4a6fc8" opacity="0.28"/>
<circle cx="440.28" cy="211.86" r="0.5" fill="#4a6fc8" opacity="0.28"/>
<circle cx="450.02" cy="210.48" r="0.5" fill="#4a6fc8" opacity="0.28"/>
<circle cx="443.73" cy="211.60" r="0.5" fill="#4a6fc8" opacity="0.28"/>
<circle cx="432.10" cy="217.59" r="0.5" fill="#4a6fc8" opacity="0.28"/>
<circle cx="449.34" cy="213.95" r="0.5" fill="#4a6fc8" opacity="0.28"/>
<circle cx="432.24" cy="218.06" r="0.5" fill="#4a6fc8" opacity="0.28"/>
<circle cx="437.58" cy="215.55" r="0.5" fill="#4a6fc8" opacity="0.28"/>
<circle cx="450.94" cy="219.66" r="0.5" fill="#4a6fc8" opacity="0.28"/>
<circle cx="433.58" cy="225.42" r="0.5" fill="#4a6fc8" opacity="0.28"/>
<circle cx="438.03" cy="217.93" r="0.5" fill="#4a6fc8" opacity="0.28"/>
<circle cx="432.50" cy="213.78" r="0.5" fill="#4a6fc8" opacity="0.28"/>
<circle cx="423.13" cy="222.93" r="0.5" fill="#4a6fc8" opacity="0.28"/>
<circle cx="449.61" cy="207.92" r="0.5" fill="#4a6fc8" opacity="0.28"/>
<circle cx="425.21" cy="205.89" r="0.5" fill="#4a6fc8" opacity="0.28"/>
<circle cx="447.99" cy="211.70" r="0.5" fill="#4a6fc8" opacity="0.28"/>
<circle cx="437.49" cy="212.44" r="0.5" fill="#4a6fc8" opacity="0.28"/>
<circle cx="436.97" cy="208.56" r="0.5" fill="#4a6fc8" opacity="0.28"/>
<circle cx="438.20" cy="206.81" r="0.5" fill="#4a6fc8" opacity="0.28"/>
<circle cx="437.39" cy="215.54" r="0.5" fill="#4a6fc8" opacity="0.28"/>
<circle cx="441.97" cy="212.84" r="0.5" fill="#4a6fc8" opacity="0.28"/>
<circle cx="430.32" cy="214.80" r="0.5" fill="#4a6fc8" opacity="0.28"/>
<circle cx="433.88" cy="221.83" r="0.5" fill="#4a6fc8" opacity="0.28"/>
<circle cx="444.53" cy="213.42" r="0.5" fill="#4a6fc8" opacity="0.28"/>
<circle cx="434.00" cy="210.49" r="0.5" fill="#4a6fc8" opacity="0.28"/>
<circle cx="430.03" cy="212.24" r="0.5" fill="#4a6fc8" opacity="0.28"/>
<circle cx="440.51" cy="216.58" r="0.5" fill="#4a6fc8" opacity="0.28"/>
<circle cx="442.84" cy="224.49" r="0.5" fill="#4a6fc8" opacity="0.28"/>
<circle cx="432.01" cy="214.06" r="0.5" fill="#4a6fc8" opacity="0.28"/>
<circle cx="461.75" cy="204.66" r="0.5" fill="#4a6fc8" opacity="0.28"/>
<circle cx="433.57" cy="214.85" r="0.5" fill="#4a6fc8" opacity="0.28"/>
<circle cx="439.31" cy="216.04" r="0.5" fill="#4a6fc8" opacity="0.28"/>
<circle cx="435.97" cy="215.83" r="0.5" fill="#4a6fc8" opacity="0.28"/>
<circle cx="438.45" cy="217.86" r="0.5" fill="#4a6fc8" opacity="0.28"/>
<circle cx="421.91" cy="209.57" r="0.5" fill="#4a6fc8" opacity="0.28"/>
<circle cx="437.98" cy="208.84" r="0.5" fill="#4a6fc8" opacity="0.28"/>
<circle cx="429.12" cy="217.14" r="0.5" fill="#4a6fc8" opacity="0.28"/>
<circle cx="432.48" cy="217.17" r="0.5" fill="#4a6fc8" opacity="0.28"/>
<circle cx="444.34" cy="215.53" r="0.5" fill="#4a6fc8" opacity="0.28"/>
<circle cx="442.32" cy="213.48" r="0.5" fill="#4a6fc8" opacity="0.28"/>
<circle cx="426.02" cy="213.85" r="0.5" fill="#4a6fc8" opacity="0.28"/>
<circle cx="441.86" cy="211.35" r="0.5" fill="#4a6fc8" opacity="0.28"/>
<circle cx="437.15" cy="217.75" r="0.5" fill="#4a6fc8" opacity="0.28"/>
<circle cx="430.54" cy="217.20" r="0.5" fill="#4a6fc8" opacity="0.28"/>
<circle cx="453.83" cy="211.23" r="0.5" fill="#4a6fc8" opacity="0.28"/>
<circle cx="439.25" cy="213.25" r="0.5" fill="#4a6fc8" opacity="0.28"/>
<circle cx="451.09" cy="215.58" r="0.5" fill="#4a6fc8" opacity="0.28"/>
<circle cx="445.63" cy="210.55" r="0.5" fill="#4a6fc8" opacity="0.28"/>
<circle cx="437.86" cy="213.95" r="0.5" fill="#4a6fc8" opacity="0.28"/>
<circle cx="422.90" cy="221.20" r="0.5" fill="#4a6fc8" opacity="0.28"/>
<circle cx="445.64" cy="205.25" r="0.5" fill="#4a6fc8" opacity="0.28"/>
<circle cx="444.33" cy="213.34" r="0.5" fill="#4a6fc8" opacity="0.28"/>
<circle cx="441.81" cy="215.83" r="0.5" fill="#4a6fc8" opacity="0.28"/>
<circle cx="425.26" cy="212.94" r="0.5" fill="#4a6fc8" opacity="0.28"/>
<circle cx="450.69" cy="211.13" r="0.5" fill="#4a6fc8" opacity="0.28"/>
<circle cx="429.31" cy="207.20" r="0.5" fill="#4a6fc8" opacity="0.28"/>
<circle cx="427.62" cy="215.68" r="0.5" fill="#4a6fc8" opacity="0.28"/>
<circle cx="452.39" cy="216.15" r="0.5" fill="#4a6fc8" opacity="0.28"/>
<circle cx="440.09" cy="225.17" r="0.5" fill="#4a6fc8" opacity="0.28"/>
<circle cx="433.58" cy="210.63" r="0.5" fill="#4a6fc8" opacity="0.28"/>
<circle cx="442.49" cy="216.74" r="0.5" fill="#4a6fc8" opacity="0.28"/>
<circle cx="429.37" cy="208.15" r="0.5" fill="#4a6fc8" opacity="0.28"/>
<circle cx="440.47" cy="215.24" r="0.5" fill="#4a6fc8" opacity="0.28"/>
<circle cx="426.89" cy="212.99" r="0.5" fill="#4a6fc8" opacity="0.28"/>
<circle cx="433.39" cy="216.30" r="0.5" fill="#4a6fc8" opacity="0.28"/>
<circle cx="437.01" cy="213.57" r="0.5" fill="#4a6fc8" opacity="0.28"/>
<circle cx="435.00" cy="219.27" r="0.5" fill="#4a6fc8" opacity="0.28"/>
<circle cx="449.82" cy="212.17" r="0.5" fill="#4a6fc8" opacity="0.28"/>
<circle cx="445.19" cy="210.21" r="0.5" fill="#4a6fc8" opacity="0.28"/>
<circle cx="438.61" cy="217.75" r="0.5" fill="#4a6fc8" opacity="0.28"/>
<circle cx="450.87" cy="212.09" r="0.5" fill="#4a6fc8" opacity="0.28"/>
<circle cx="437.37" cy="214.98" r="0.5" fill="#4a6fc8" opacity="0.28"/>
<circle cx="425.27" cy="214.08" r="0.5" fill="#4a6fc8" opacity="0.28"/>
<circle cx="432.26" cy="215.86" r="0.5" fill="#4a6fc8" opacity="0.28"/>
<circle cx="428.40" cy="204.12" r="0.5" fill="#4a6fc8" opacity="0.28"/>
<circle cx="438.33" cy="215.30" r="0.5" fill="#4a6fc8" opacity="0.28"/>
<circle cx="433.33" cy="218.44" r="0.5" fill="#4a6fc8" opacity="0.28"/>
<circle cx="435.68" cy="210.97" r="0.5" fill="#4a6fc8" opacity="0.28"/>
<circle cx="442.06" cy="206.16" r="0.5" fill="#4a6fc8" opacity="0.28"/>
<circle cx="432.24" cy="213.90" r="0.5" fill="#4a6fc8" opacity="0.28"/>
<circle cx="445.22" cy="213.19" r="0.5" fill="#4a6fc8" opacity="0.28"/>
<circle cx="440.62" cy="210.72" r="0.5" fill="#4a6fc8" opacity="0.28"/>
<circle cx="440.56" cy="222.32" r="0.5" fill="#4a6fc8" opacity="0.28"/>
<circle cx="432.17" cy="225.83" r="0.5" fill="#4a6fc8" opacity="0.28"/>
<circle cx="432.53" cy="214.09" r="0.5" fill="#4a6fc8" opacity="0.28"/>
<circle cx="439.47" cy="219.12" r="0.5" fill="#4a6fc8" opacity="0.28"/>
<circle cx="427.49" cy="203.50" r="0.5" fill="#4a6fc8" opacity="0.28"/>
<circle cx="443.15" cy="217.98" r="0.5" fill="#4a6fc8" opacity="0.28"/>
<circle cx="443.30" cy="227.15" r="0.5" fill="#4a6fc8" opacity="0.28"/>
<circle cx="439.74" cy="215.27" r="0.5" fill="#4a6fc8" opacity="0.28"/>
<circle cx="445.90" cy="215.84" r="0.5" fill="#4a6fc8" opacity="0.28"/>
<circle cx="452.14" cy="207.81" r="0.5" fill="#4a6fc8" opacity="0.28"/>
<circle cx="434.81" cy="196.78" r="0.5" fill="#4a6fc8" opacity="0.28"/>
<circle cx="444.91" cy="212.14" r="0.5" fill="#4a6fc8" opacity="0.28"/>
<circle cx="445.85" cy="224.77" r="0.5" fill="#4a6fc8" opacity="0.28"/>
<circle cx="437.95" cy="212.73" r="0.5" fill="#4a6fc8" opacity="0.28"/>
<circle cx="433.75" cy="209.81" r="0.5" fill="#4a6fc8" opacity="0.28"/>
<circle cx="432.64" cy="217.20" r="0.5" fill="#4a6fc8" opacity="0.28"/>
<circle cx="438.31" cy="214.33" r="0.5" fill="#4a6fc8" opacity="0.28"/>
<circle cx="436.53" cy="218.57" r="0.5" fill="#4a6fc8" opacity="0.28"/>
<circle cx="442.20" cy="213.29" r="0.5" fill="#4a6fc8" opacity="0.28"/>
<circle cx="443.65" cy="213.24" r="0.5" fill="#4a6fc8" opacity="0.28"/>
<circle cx="428.20" cy="221.28" r="0.5" fill="#4a6fc8" opacity="0.28"/>
<circle cx="441.96" cy="209.21" r="0.5" fill="#4a6fc8" opacity="0.28"/>
<circle cx="447.17" cy="215.72" r="0.5" fill="#4a6fc8" opacity="0.28"/>
<circle cx="424.70" cy="222.05" r="0.5" fill="#4a6fc8" opacity="0.28"/>
<circle cx="447.33" cy="220.57" r="0.5" fill="#2f7fb0" opacity="0.3"/>
<circle cx="446.79" cy="216.40" r="0.5" fill="#2f7fb0" opacity="0.3"/>
<circle cx="439.81" cy="220.89" r="0.5" fill="#2f7fb0" opacity="0.3"/>
<circle cx="446.12" cy="215.85" r="0.5" fill="#2f7fb0" opacity="0.3"/>
<circle cx="447.40" cy="217.31" r="0.5" fill="#2f7fb0" opacity="0.3"/>
<circle cx="448.70" cy="215.52" r="0.5" fill="#2f7fb0" opacity="0.3"/>
<circle cx="445.85" cy="208.44" r="0.5" fill="#2f7fb0" opacity="0.3"/>
<circle cx="444.31" cy="219.70" r="0.5" fill="#2f7fb0" opacity="0.3"/>
<circle cx="451.35" cy="215.54" r="0.5" fill="#2f7fb0" opacity="0.3"/>
<circle cx="445.51" cy="223.33" r="0.5" fill="#2f7fb0" opacity="0.3"/>
<circle cx="444.70" cy="219.94" r="0.5" fill="#2f7fb0" opacity="0.3"/>
<circle cx="452.71" cy="217.16" r="0.5" fill="#2f7fb0" opacity="0.3"/>
<circle cx="450.91" cy="214.16" r="0.5" fill="#2f7fb0" opacity="0.3"/>
<circle cx="446.83" cy="216.69" r="0.5" fill="#2f7fb0" opacity="0.3"/>
<circle cx="446.46" cy="221.52" r="0.5" fill="#2f7fb0" opacity="0.3"/>
<circle cx="455.56" cy="214.34" r="0.5" fill="#2f7fb0" opacity="0.3"/>
<circle cx="443.70" cy="218.99" r="0.5" fill="#2f7fb0" opacity="0.3"/>
<circle cx="441.78" cy="218.99" r="0.5" fill="#2f7fb0" opacity="0.3"/>
<circle cx="448.29" cy="215.89" r="0.5" fill="#2f7fb0" opacity="0.3"/>
<circle cx="448.12" cy="210.80" r="0.5" fill="#2f7fb0" opacity="0.3"/>
<circle cx="449.04" cy="210.82" r="0.5" fill="#2f7fb0" opacity="0.3"/>
<circle cx="443.21" cy="214.78" r="0.5" fill="#2f7fb0" opacity="0.3"/>
<circle cx="444.40" cy="220.44" r="0.5" fill="#2f7fb0" opacity="0.3"/>
<circle cx="446.33" cy="215.41" r="0.5" fill="#2f7fb0" opacity="0.3"/>
<circle cx="448.17" cy="223.33" r="0.5" fill="#2f7fb0" opacity="0.3"/>
<circle cx="446.02" cy="218.46" r="0.5" fill="#2f7fb0" opacity="0.3"/>
<circle cx="450.96" cy="218.07" r="0.5" fill="#2f7fb0" opacity="0.3"/>
<circle cx="440.86" cy="226.96" r="0.5" fill="#2f7fb0" opacity="0.3"/>
<circle cx="454.83" cy="209.06" r="0.5" fill="#2f7fb0" opacity="0.3"/>
<circle cx="445.84" cy="218.67" r="0.5" fill="#2f7fb0" opacity="0.3"/>
<circle cx="449.86" cy="219.68" r="0.5" fill="#2f7fb0" opacity="0.3"/>
<circle cx="444.91" cy="212.78" r="0.5" fill="#2f7fb0" opacity="0.3"/>
<circle cx="446.41" cy="221.13" r="0.5" fill="#2f7fb0" opacity="0.3"/>
<circle cx="441.64" cy="212.89" r="0.5" fill="#2f7fb0" opacity="0.3"/>
<circle cx="445.90" cy="209.25" r="0.5" fill="#2f7fb0" opacity="0.3"/>
<circle cx="444.96" cy="215.25" r="0.5" fill="#2f7fb0" opacity="0.3"/>
<circle cx="447.80" cy="214.19" r="0.5" fill="#2f7fb0" opacity="0.3"/>
<circle cx="442.47" cy="215.42" r="0.5" fill="#2f7fb0" opacity="0.3"/>
<circle cx="445.80" cy="214.34" r="0.5" fill="#2f7fb0" opacity="0.3"/>
<circle cx="446.05" cy="220.00" r="0.5" fill="#2f7fb0" opacity="0.3"/>
<circle cx="450.74" cy="223.82" r="0.5" fill="#2f7fb0" opacity="0.3"/>
<circle cx="442.87" cy="215.32" r="0.5" fill="#2f7fb0" opacity="0.3"/>
<circle cx="436.07" cy="224.60" r="0.5" fill="#2f7fb0" opacity="0.3"/>
<circle cx="443.10" cy="216.87" r="0.5" fill="#2f7fb0" opacity="0.3"/>
<circle cx="448.09" cy="211.57" r="0.5" fill="#2f7fb0" opacity="0.3"/>
<circle cx="447.86" cy="216.89" r="0.5" fill="#2f7fb0" opacity="0.3"/>
<circle cx="438.70" cy="218.17" r="0.5" fill="#2f7fb0" opacity="0.3"/>
<circle cx="450.78" cy="209.53" r="0.5" fill="#2f7fb0" opacity="0.3"/>
<circle cx="449.23" cy="217.84" r="0.5" fill="#2f7fb0" opacity="0.3"/>
<circle cx="447.90" cy="218.77" r="0.5" fill="#2f7fb0" opacity="0.3"/>
<circle cx="451.22" cy="216.11" r="0.5" fill="#2f7fb0" opacity="0.3"/>
<circle cx="449.49" cy="215.36" r="0.5" fill="#2f7fb0" opacity="0.3"/>
<circle cx="448.91" cy="213.74" r="0.5" fill="#2f7fb0" opacity="0.3"/>
<circle cx="445.57" cy="223.92" r="0.5" fill="#2f7fb0" opacity="0.3"/>
<circle cx="447.78" cy="216.37" r="0.5" fill="#2f7fb0" opacity="0.3"/>
<circle cx="441.42" cy="213.84" r="0.5" fill="#2f7fb0" opacity="0.3"/>
<circle cx="446.77" cy="220.76" r="0.5" fill="#2f7fb0" opacity="0.3"/>
<circle cx="447.70" cy="219.10" r="0.5" fill="#2f7fb0" opacity="0.3"/>
<circle cx="445.83" cy="222.41" r="0.5" fill="#2f7fb0" opacity="0.3"/>
<circle cx="444.44" cy="214.80" r="0.5" fill="#2f7fb0" opacity="0.3"/>
<circle cx="449.55" cy="217.25" r="0.5" fill="#2f7fb0" opacity="0.3"/>
<circle cx="444.89" cy="214.70" r="0.5" fill="#2f7fb0" opacity="0.3"/>
<circle cx="444.97" cy="219.49" r="0.5" fill="#2f7fb0" opacity="0.3"/>
<circle cx="447.41" cy="212.16" r="0.5" fill="#2f7fb0" opacity="0.3"/>
<circle cx="447.71" cy="217.72" r="0.5" fill="#2f7fb0" opacity="0.3"/>
<circle cx="442.00" cy="220.09" r="0.5" fill="#2f7fb0" opacity="0.3"/>
<circle cx="444.88" cy="215.66" r="0.5" fill="#2f7fb0" opacity="0.3"/>
<circle cx="449.18" cy="222.28" r="0.5" fill="#2f7fb0" opacity="0.3"/>
<circle cx="443.25" cy="218.75" r="0.5" fill="#2f7fb0" opacity="0.3"/>
<circle cx="442.50" cy="226.26" r="0.5" fill="#2f7fb0" opacity="0.3"/>
<circle cx="444.02" cy="221.78" r="0.5" fill="#2f7fb0" opacity="0.3"/>
<circle cx="443.41" cy="220.25" r="0.5" fill="#2f7fb0" opacity="0.3"/>
<circle cx="454.88" cy="206.84" r="0.5" fill="#2f7fb0" opacity="0.3"/>
<circle cx="444.26" cy="219.00" r="0.5" fill="#2f7fb0" opacity="0.3"/>
<circle cx="445.63" cy="214.33" r="0.5" fill="#2f7fb0" opacity="0.3"/>
<circle cx="454.61" cy="217.32" r="0.5" fill="#2f7fb0" opacity="0.3"/>
<circle cx="439.42" cy="220.42" r="0.5" fill="#2f7fb0" opacity="0.3"/>
<circle cx="439.11" cy="221.60" r="0.5" fill="#2f7fb0" opacity="0.3"/>
<circle cx="443.69" cy="217.58" r="0.5" fill="#2f7fb0" opacity="0.3"/>
<circle cx="451.04" cy="217.47" r="0.5" fill="#2f7fb0" opacity="0.3"/>
</g>
<g clip-path="url(#clipKO)">
<ellipse cx="479" cy="212" rx="16" ry="9" fill="url(#gKO)"/>
<circle cx="467.87" cy="205.22" r="0.45" fill="#5a5fb0" opacity="0.3"/>
<circle cx="488.46" cy="214.96" r="0.45" fill="#5a5fb0" opacity="0.3"/>
<circle cx="472.47" cy="215.44" r="0.45" fill="#5a5fb0" opacity="0.3"/>
<circle cx="482.97" cy="214.59" r="0.45" fill="#5a5fb0" opacity="0.3"/>
<circle cx="460.93" cy="210.79" r="0.45" fill="#5a5fb0" opacity="0.3"/>
<circle cx="486.20" cy="214.93" r="0.45" fill="#5a5fb0" opacity="0.3"/>
<circle cx="486.05" cy="202.17" r="0.45" fill="#5a5fb0" opacity="0.3"/>
<circle cx="480.35" cy="213.97" r="0.45" fill="#5a5fb0" opacity="0.3"/>
<circle cx="499.42" cy="208.18" r="0.45" fill="#5a5fb0" opacity="0.3"/>
<circle cx="476.37" cy="212.14" r="0.45" fill="#5a5fb0" opacity="0.3"/>
<circle cx="486.09" cy="210.23" r="0.45" fill="#5a5fb0" opacity="0.3"/>
<circle cx="488.18" cy="208.85" r="0.45" fill="#5a5fb0" opacity="0.3"/>
<circle cx="481.13" cy="209.89" r="0.45" fill="#5a5fb0" opacity="0.3"/>
<circle cx="480.27" cy="209.24" r="0.45" fill="#5a5fb0" opacity="0.3"/>
<circle cx="466.22" cy="216.37" r="0.45" fill="#5a5fb0" opacity="0.3"/>
<circle cx="481.43" cy="209.77" r="0.45" fill="#5a5fb0" opacity="0.3"/>
<circle cx="480.61" cy="215.96" r="0.45" fill="#5a5fb0" opacity="0.3"/>
<circle cx="471.18" cy="211.56" r="0.45" fill="#5a5fb0" opacity="0.3"/>
<circle cx="483.31" cy="214.10" r="0.45" fill="#5a5fb0" opacity="0.3"/>
<circle cx="476.32" cy="203.57" r="0.45" fill="#5a5fb0" opacity="0.3"/>
<circle cx="488.94" cy="213.31" r="0.45" fill="#5a5fb0" opacity="0.3"/>
<circle cx="479.10" cy="210.89" r="0.45" fill="#5a5fb0" opacity="0.3"/>
<circle cx="481.11" cy="210.30" r="0.45" fill="#5a5fb0" opacity="0.3"/>
<circle cx="470.80" cy="209.04" r="0.45" fill="#5a5fb0" opacity="0.3"/>
<circle cx="474.23" cy="209.55" r="0.45" fill="#5a5fb0" opacity="0.3"/>
<circle cx="469.73" cy="214.55" r="0.45" fill="#5a5fb0" opacity="0.3"/>
<circle cx="468.52" cy="214.64" r="0.45" fill="#5a5fb0" opacity="0.3"/>
<circle cx="470.88" cy="213.41" r="0.45" fill="#5a5fb0" opacity="0.3"/>
<circle cx="489.99" cy="212.81" r="0.45" fill="#5a5fb0" opacity="0.3"/>
<circle cx="473.15" cy="212.19" r="0.45" fill="#5a5fb0" opacity="0.3"/>
<circle cx="480.19" cy="205.06" r="0.45" fill="#5a5fb0" opacity="0.3"/>
<circle cx="474.14" cy="212.65" r="0.45" fill="#5a5fb0" opacity="0.3"/>
<circle cx="475.25" cy="212.32" r="0.45" fill="#5a5fb0" opacity="0.3"/>
<circle cx="484.87" cy="215.07" r="0.45" fill="#5a5fb0" opacity="0.3"/>
<circle cx="486.25" cy="214.35" r="0.45" fill="#5a5fb0" opacity="0.3"/>
<circle cx="476.70" cy="211.93" r="0.45" fill="#5a5fb0" opacity="0.3"/>
<circle cx="476.83" cy="210.75" r="0.45" fill="#5a5fb0" opacity="0.3"/>
<circle cx="477.56" cy="205.10" r="0.45" fill="#5a5fb0" opacity="0.3"/>
<circle cx="476.33" cy="211.90" r="0.45" fill="#5a5fb0" opacity="0.3"/>
<circle cx="471.21" cy="211.90" r="0.45" fill="#5a5fb0" opacity="0.3"/>
<circle cx="483.12" cy="211.34" r="0.45" fill="#5a5fb0" opacity="0.3"/>
<circle cx="495.61" cy="201.57" r="0.45" fill="#5a5fb0" opacity="0.3"/>
<circle cx="477.35" cy="204.70" r="0.45" fill="#5a5fb0" opacity="0.3"/>
<circle cx="486.84" cy="222.62" r="0.45" fill="#5a5fb0" opacity="0.3"/>
<circle cx="458.98" cy="212.51" r="0.45" fill="#5a5fb0" opacity="0.3"/>
<circle cx="483.15" cy="210.79" r="0.45" fill="#5a5fb0" opacity="0.3"/>
<circle cx="483.41" cy="203.03" r="0.45" fill="#5a5fb0" opacity="0.3"/>
<circle cx="485.82" cy="213.49" r="0.45" fill="#5a5fb0" opacity="0.3"/>
<circle cx="479.18" cy="209.65" r="0.45" fill="#5a5fb0" opacity="0.3"/>
<circle cx="484.11" cy="210.06" r="0.45" fill="#5a5fb0" opacity="0.3"/>
<circle cx="480.78" cy="209.96" r="0.45" fill="#5a5fb0" opacity="0.3"/>
<circle cx="461.03" cy="211.87" r="0.45" fill="#5a5fb0" opacity="0.3"/>
<circle cx="480.62" cy="215.02" r="0.45" fill="#5a5fb0" opacity="0.3"/>
<circle cx="471.99" cy="211.87" r="0.45" fill="#5a5fb0" opacity="0.3"/>
<circle cx="483.94" cy="212.58" r="0.45" fill="#5a5fb0" opacity="0.3"/>
<circle cx="488.94" cy="219.97" r="0.45" fill="#5a5fb0" opacity="0.3"/>
<circle cx="471.73" cy="204.32" r="0.45" fill="#5a5fb0" opacity="0.3"/>
<circle cx="485.85" cy="218.12" r="0.45" fill="#5a5fb0" opacity="0.3"/>
<circle cx="486.38" cy="215.26" r="0.45" fill="#5a5fb0" opacity="0.3"/>
<circle cx="474.05" cy="209.15" r="0.45" fill="#5a5fb0" opacity="0.3"/>
<circle cx="486.11" cy="208.35" r="0.45" fill="#5a5fb0" opacity="0.3"/>
<circle cx="464.49" cy="208.01" r="0.45" fill="#5a5fb0" opacity="0.3"/>
<circle cx="498.94" cy="219.69" r="0.45" fill="#5a5fb0" opacity="0.3"/>
<circle cx="473.51" cy="209.08" r="0.45" fill="#5a5fb0" opacity="0.3"/>
<circle cx="480.85" cy="209.00" r="0.45" fill="#5a5fb0" opacity="0.3"/>
<circle cx="489.48" cy="211.69" r="0.45" fill="#5a5fb0" opacity="0.3"/>
<circle cx="470.31" cy="217.24" r="0.45" fill="#5a5fb0" opacity="0.3"/>
<circle cx="474.33" cy="212.89" r="0.45" fill="#5a5fb0" opacity="0.3"/>
<circle cx="478.90" cy="210.74" r="0.45" fill="#5a5fb0" opacity="0.3"/>
<circle cx="481.60" cy="209.23" r="0.45" fill="#5a5fb0" opacity="0.3"/>
<circle cx="464.24" cy="203.17" r="0.45" fill="#5a5fb0" opacity="0.3"/>
<circle cx="468.87" cy="208.97" r="0.45" fill="#5a5fb0" opacity="0.3"/>
<circle cx="478.82" cy="212.22" r="0.45" fill="#5a5fb0" opacity="0.3"/>
<circle cx="483.45" cy="212.48" r="0.45" fill="#5a5fb0" opacity="0.3"/>
<circle cx="472.65" cy="209.16" r="0.45" fill="#5a5fb0" opacity="0.3"/>
<circle cx="462.05" cy="211.32" r="0.45" fill="#5a5fb0" opacity="0.3"/>
<circle cx="482.88" cy="214.12" r="0.45" fill="#5a5fb0" opacity="0.3"/>
<circle cx="478.03" cy="211.30" r="0.45" fill="#5a5fb0" opacity="0.3"/>
<circle cx="486.49" cy="212.06" r="0.45" fill="#5a5fb0" opacity="0.3"/>
<circle cx="484.90" cy="214.33" r="0.45" fill="#5a5fb0" opacity="0.3"/>
<circle cx="480.71" cy="217.23" r="0.45" fill="#5a5fb0" opacity="0.3"/>
<circle cx="474.42" cy="210.56" r="0.45" fill="#5a5fb0" opacity="0.3"/>
<circle cx="472.54" cy="208.81" r="0.45" fill="#5a5fb0" opacity="0.3"/>
<circle cx="491.45" cy="219.04" r="0.45" fill="#5a5fb0" opacity="0.3"/>
<circle cx="479.18" cy="214.27" r="0.45" fill="#5a5fb0" opacity="0.3"/>
<circle cx="488.40" cy="215.23" r="0.45" fill="#5a5fb0" opacity="0.3"/>
<circle cx="488.64" cy="206.95" r="0.45" fill="#5a5fb0" opacity="0.3"/>
<circle cx="473.88" cy="213.81" r="0.45" fill="#5a5fb0" opacity="0.3"/>
<circle cx="490.48" cy="212.42" r="0.45" fill="#5a5fb0" opacity="0.3"/>
<circle cx="472.13" cy="210.58" r="0.45" fill="#5a5fb0" opacity="0.3"/>
<circle cx="473.72" cy="208.57" r="0.45" fill="#5a5fb0" opacity="0.3"/>
<circle cx="491.01" cy="209.50" r="0.45" fill="#5a5fb0" opacity="0.3"/>
<circle cx="479.16" cy="220.65" r="0.45" fill="#5a5fb0" opacity="0.3"/>
<circle cx="488.48" cy="213.34" r="0.45" fill="#5a5fb0" opacity="0.3"/>
<circle cx="474.10" cy="213.64" r="0.45" fill="#5a5fb0" opacity="0.3"/>
<circle cx="491.97" cy="214.49" r="0.45" fill="#5a5fb0" opacity="0.3"/>
<circle cx="489.09" cy="212.39" r="0.45" fill="#5a5fb0" opacity="0.3"/>
<circle cx="483.13" cy="211.20" r="0.45" fill="#5a5fb0" opacity="0.3"/>
<circle cx="482.42" cy="217.20" r="0.45" fill="#5a5fb0" opacity="0.3"/>
<circle cx="467.55" cy="211.75" r="0.45" fill="#5a5fb0" opacity="0.3"/>
<circle cx="480.92" cy="209.72" r="0.45" fill="#5a5fb0" opacity="0.3"/>
<circle cx="476.54" cy="215.15" r="0.45" fill="#5a5fb0" opacity="0.3"/>
<circle cx="495.01" cy="214.52" r="0.45" fill="#5a5fb0" opacity="0.3"/>
<circle cx="481.61" cy="205.79" r="0.45" fill="#5a5fb0" opacity="0.3"/>
<circle cx="494.42" cy="212.31" r="0.45" fill="#5a5fb0" opacity="0.3"/>
<circle cx="478.73" cy="207.53" r="0.45" fill="#5a5fb0" opacity="0.3"/>
<circle cx="478.55" cy="207.62" r="0.45" fill="#5a5fb0" opacity="0.3"/>
<circle cx="479.57" cy="213.87" r="0.45" fill="#5a5fb0" opacity="0.3"/>
<circle cx="479.25" cy="213.12" r="0.45" fill="#5a5fb0" opacity="0.3"/>
<circle cx="472.19" cy="217.72" r="0.45" fill="#5a5fb0" opacity="0.3"/>
<circle cx="473.77" cy="204.73" r="0.45" fill="#5a5fb0" opacity="0.3"/>
<circle cx="477.50" cy="208.95" r="0.45" fill="#5a5fb0" opacity="0.3"/>
<circle cx="470.92" cy="210.58" r="0.45" fill="#5a5fb0" opacity="0.3"/>
<circle cx="481.33" cy="207.27" r="0.45" fill="#5a5fb0" opacity="0.3"/>
<circle cx="477.90" cy="217.71" r="0.45" fill="#5a5fb0" opacity="0.3"/>
<circle cx="484.46" cy="211.39" r="0.45" fill="#5a5fb0" opacity="0.3"/>
<circle cx="480.02" cy="211.52" r="0.45" fill="#5a5fb0" opacity="0.3"/>
<circle cx="478.62" cy="214.93" r="0.45" fill="#5a5fb0" opacity="0.3"/>
<circle cx="478.26" cy="202.38" r="0.45" fill="#5a5fb0" opacity="0.3"/>
<circle cx="478.83" cy="208.44" r="0.45" fill="#5a5fb0" opacity="0.3"/>
<circle cx="484.21" cy="209.56" r="0.45" fill="#5a5fb0" opacity="0.3"/>
<circle cx="480.19" cy="220.71" r="0.45" fill="#5a5fb0" opacity="0.3"/>
<circle cx="470.62" cy="207.50" r="0.45" fill="#5a5fb0" opacity="0.3"/>
<circle cx="467.71" cy="202.42" r="0.45" fill="#5a5fb0" opacity="0.3"/>
<circle cx="463.97" cy="213.46" r="0.45" fill="#5a5fb0" opacity="0.3"/>
<circle cx="473.90" cy="204.53" r="0.45" fill="#5a5fb0" opacity="0.3"/>
<circle cx="467.14" cy="214.47" r="0.45" fill="#5a5fb0" opacity="0.3"/>
<circle cx="472.80" cy="210.53" r="0.45" fill="#5a5fb0" opacity="0.3"/>
<circle cx="481.64" cy="217.43" r="0.45" fill="#5a5fb0" opacity="0.3"/>
<circle cx="494.53" cy="216.13" r="0.45" fill="#5a5fb0" opacity="0.3"/>
<circle cx="480.15" cy="212.74" r="0.45" fill="#5a5fb0" opacity="0.3"/>
<circle cx="493.42" cy="217.71" r="0.45" fill="#5a5fb0" opacity="0.3"/>
<circle cx="476.52" cy="213.83" r="0.45" fill="#5a5fb0" opacity="0.3"/>
<circle cx="481.30" cy="212.21" r="0.45" fill="#5a5fb0" opacity="0.3"/>
<circle cx="475.00" cy="206.69" r="0.45" fill="#5a5fb0" opacity="0.3"/>
<circle cx="474.73" cy="205.82" r="0.45" fill="#5a5fb0" opacity="0.3"/>
<circle cx="488.79" cy="214.15" r="0.45" fill="#5a5fb0" opacity="0.3"/>
<circle cx="469.35" cy="217.58" r="0.45" fill="#5a5fb0" opacity="0.3"/>
<circle cx="486.13" cy="204.37" r="0.45" fill="#5a5fb0" opacity="0.3"/>
<circle cx="493.73" cy="215.24" r="0.45" fill="#5a5fb0" opacity="0.3"/>
<circle cx="495.51" cy="207.08" r="0.45" fill="#5a5fb0" opacity="0.3"/>
<circle cx="483.25" cy="213.69" r="0.45" fill="#5a5fb0" opacity="0.3"/>
<circle cx="480.61" cy="212.68" r="0.45" fill="#5a5fb0" opacity="0.3"/>
<circle cx="487.43" cy="206.02" r="0.45" fill="#5a5fb0" opacity="0.3"/>
<circle cx="469.06" cy="206.42" r="0.45" fill="#5a5fb0" opacity="0.3"/>
<circle cx="474.54" cy="209.58" r="0.45" fill="#5a5fb0" opacity="0.3"/>
<circle cx="481.94" cy="213.07" r="0.45" fill="#5a5fb0" opacity="0.3"/>
<circle cx="479.25" cy="209.29" r="0.45" fill="#5a5fb0" opacity="0.3"/>
<circle cx="475.46" cy="215.81" r="0.45" fill="#5a5fb0" opacity="0.3"/>
<circle cx="485.11" cy="212.40" r="0.45" fill="#5a5fb0" opacity="0.3"/>
<circle cx="476.42" cy="218.21" r="0.45" fill="#5a5fb0" opacity="0.3"/>
<circle cx="474.25" cy="214.59" r="0.45" fill="#5a5fb0" opacity="0.3"/>
<circle cx="488.23" cy="210.94" r="0.45" fill="#5a5fb0" opacity="0.3"/>
<circle cx="485.60" cy="207.54" r="0.45" fill="#5a5fb0" opacity="0.3"/>
<circle cx="487.10" cy="212.80" r="0.45" fill="#5a5fb0" opacity="0.3"/>
<circle cx="466.31" cy="214.68" r="0.45" fill="#5a5fb0" opacity="0.3"/>
<circle cx="471.86" cy="217.13" r="0.45" fill="#5a5fb0" opacity="0.3"/>
<circle cx="473.57" cy="211.34" r="0.45" fill="#5a5fb0" opacity="0.3"/>
<circle cx="481.26" cy="210.67" r="0.45" fill="#5a5fb0" opacity="0.3"/>
<circle cx="481.08" cy="209.79" r="0.45" fill="#5a5fb0" opacity="0.3"/>
<circle cx="484.37" cy="212.02" r="0.45" fill="#5a5fb0" opacity="0.3"/>
<circle cx="480.69" cy="200.99" r="0.45" fill="#5a5fb0" opacity="0.3"/>
<circle cx="488.29" cy="212.13" r="0.45" fill="#5a5fb0" opacity="0.3"/>
<circle cx="464.74" cy="212.38" r="0.45" fill="#5a5fb0" opacity="0.3"/>
<circle cx="482.74" cy="216.28" r="0.45" fill="#5a5fb0" opacity="0.3"/>
<circle cx="470.34" cy="218.19" r="0.45" fill="#5a5fb0" opacity="0.3"/>
<circle cx="477.73" cy="221.58" r="0.45" fill="#5a5fb0" opacity="0.3"/>
<circle cx="477.83" cy="214.72" r="0.45" fill="#5a5fb0" opacity="0.3"/>
<circle cx="476.07" cy="207.54" r="0.45" fill="#5a5fb0" opacity="0.3"/>
<circle cx="487.77" cy="215.63" r="0.45" fill="#5a5fb0" opacity="0.3"/>
<circle cx="491.31" cy="215.43" r="0.45" fill="#5a5fb0" opacity="0.3"/>
<circle cx="474.41" cy="205.35" r="0.45" fill="#5a5fb0" opacity="0.3"/>
<circle cx="473.80" cy="209.30" r="0.45" fill="#5a5fb0" opacity="0.3"/>
<circle cx="472.48" cy="214.33" r="0.45" fill="#5a5fb0" opacity="0.3"/>
<circle cx="481.62" cy="210.92" r="0.45" fill="#5a5fb0" opacity="0.3"/>
<circle cx="480.38" cy="211.42" r="0.45" fill="#5a5fb0" opacity="0.3"/>
<circle cx="480.70" cy="215.01" r="0.45" fill="#5a5fb0" opacity="0.3"/>
<circle cx="486.68" cy="209.26" r="0.45" fill="#5a5fb0" opacity="0.3"/>
<circle cx="466.95" cy="217.71" r="0.45" fill="#5a5fb0" opacity="0.3"/>
<circle cx="479.92" cy="216.42" r="0.45" fill="#5a5fb0" opacity="0.3"/>
<circle cx="465.86" cy="210.68" r="0.45" fill="#5a5fb0" opacity="0.3"/>
<circle cx="479.22" cy="206.23" r="0.45" fill="#5a5fb0" opacity="0.3"/>
<circle cx="474.87" cy="214.90" r="0.45" fill="#5a5fb0" opacity="0.3"/>
<circle cx="487.63" cy="218.38" r="0.45" fill="#5a5fb0" opacity="0.3"/>
<circle cx="472.09" cy="206.39" r="0.45" fill="#5a5fb0" opacity="0.3"/>
<circle cx="483.16" cy="215.76" r="0.45" fill="#5a5fb0" opacity="0.3"/>
<circle cx="480.54" cy="206.79" r="0.45" fill="#5a5fb0" opacity="0.3"/>
<circle cx="485.26" cy="215.17" r="0.45" fill="#5a5fb0" opacity="0.3"/>
<circle cx="483.43" cy="210.05" r="0.45" fill="#5a5fb0" opacity="0.3"/>
<circle cx="481.43" cy="215.16" r="0.45" fill="#5a5fb0" opacity="0.3"/>
<circle cx="474.53" cy="204.63" r="0.45" fill="#5a5fb0" opacity="0.3"/>
<circle cx="481.63" cy="213.92" r="0.45" fill="#5a5fb0" opacity="0.3"/>
<circle cx="479.11" cy="215.56" r="0.45" fill="#5a5fb0" opacity="0.3"/>
<circle cx="474.31" cy="211.67" r="0.45" fill="#5a5fb0" opacity="0.3"/>
<circle cx="476.56" cy="214.29" r="0.45" fill="#5a5fb0" opacity="0.3"/>
<circle cx="491.77" cy="211.00" r="0.45" fill="#5a5fb0" opacity="0.3"/>
<circle cx="495.44" cy="218.12" r="0.45" fill="#5a5fb0" opacity="0.3"/>
<circle cx="485.33" cy="214.35" r="0.45" fill="#5a5fb0" opacity="0.3"/>
<circle cx="493.17" cy="211.28" r="0.45" fill="#5a5fb0" opacity="0.3"/>
<circle cx="478.10" cy="207.75" r="0.45" fill="#5a5fb0" opacity="0.3"/>
<circle cx="482.78" cy="217.38" r="0.45" fill="#5a5fb0" opacity="0.3"/>
<circle cx="483.26" cy="213.69" r="0.45" fill="#5a5fb0" opacity="0.3"/>
<circle cx="477.39" cy="212.68" r="0.45" fill="#5a5fb0" opacity="0.3"/>
<circle cx="467.60" cy="216.20" r="0.45" fill="#5a5fb0" opacity="0.3"/>
<circle cx="475.72" cy="207.58" r="0.45" fill="#5a5fb0" opacity="0.3"/>
<circle cx="472.99" cy="208.70" r="0.45" fill="#5a5fb0" opacity="0.3"/>
<circle cx="485.84" cy="216.23" r="0.45" fill="#5a5fb0" opacity="0.3"/>
<circle cx="468.14" cy="215.71" r="0.45" fill="#5a5fb0" opacity="0.3"/>
<circle cx="486.10" cy="209.68" r="0.45" fill="#5a5fb0" opacity="0.3"/>
<circle cx="467.11" cy="209.02" r="0.45" fill="#5a5fb0" opacity="0.3"/>
<circle cx="473.93" cy="213.37" r="0.45" fill="#5a5fb0" opacity="0.3"/>
<circle cx="476.14" cy="203.89" r="0.45" fill="#5a5fb0" opacity="0.3"/>
<circle cx="480.87" cy="205.86" r="0.45" fill="#5a5fb0" opacity="0.3"/>
<circle cx="486.24" cy="207.17" r="0.45" fill="#5a5fb0" opacity="0.3"/>
<circle cx="473.46" cy="208.58" r="0.45" fill="#5a5fb0" opacity="0.3"/>
<circle cx="474.66" cy="217.19" r="0.45" fill="#5a5fb0" opacity="0.3"/>
<circle cx="485.82" cy="214.41" r="0.45" fill="#5a5fb0" opacity="0.3"/>
<circle cx="481.55" cy="205.81" r="0.45" fill="#5a5fb0" opacity="0.3"/>
<circle cx="474.83" cy="209.79" r="0.45" fill="#5a5fb0" opacity="0.3"/>
<circle cx="471.18" cy="214.04" r="0.45" fill="#5a5fb0" opacity="0.3"/>
<circle cx="473.07" cy="209.16" r="0.45" fill="#5a5fb0" opacity="0.3"/>
<circle cx="470.64" cy="203.77" r="0.45" fill="#5a5fb0" opacity="0.3"/>
<circle cx="483.76" cy="217.32" r="0.45" fill="#5a5fb0" opacity="0.3"/>
<circle cx="480.40" cy="208.09" r="0.45" fill="#5a5fb0" opacity="0.3"/>
<circle cx="457.36" cy="212.69" r="0.45" fill="#5a5fb0" opacity="0.3"/>
<circle cx="488.73" cy="213.19" r="0.45" fill="#5a5fb0" opacity="0.3"/>
<circle cx="486.42" cy="217.91" r="0.45" fill="#5a5fb0" opacity="0.3"/>
<circle cx="488.02" cy="210.23" r="0.45" fill="#5a5fb0" opacity="0.3"/>
<circle cx="487.42" cy="215.10" r="0.45" fill="#5a5fb0" opacity="0.3"/>
<circle cx="466.70" cy="210.38" r="0.45" fill="#5a5fb0" opacity="0.3"/>
<circle cx="467.61" cy="211.56" r="0.45" fill="#5a5fb0" opacity="0.3"/>
<circle cx="483.63" cy="207.73" r="0.45" fill="#5a5fb0" opacity="0.3"/>
<circle cx="462.55" cy="217.19" r="0.45" fill="#5a5fb0" opacity="0.3"/>
<circle cx="482.01" cy="217.88" r="0.45" fill="#5a5fb0" opacity="0.3"/>
<circle cx="468.41" cy="216.24" r="0.45" fill="#5a5fb0" opacity="0.3"/>
<circle cx="495.59" cy="220.03" r="0.45" fill="#5a5fb0" opacity="0.3"/>
<circle cx="477.32" cy="213.08" r="0.45" fill="#5a5fb0" opacity="0.3"/>
<circle cx="477.77" cy="215.99" r="0.45" fill="#5a5fb0" opacity="0.3"/>
<circle cx="487.30" cy="212.35" r="0.45" fill="#5a5fb0" opacity="0.3"/>
<circle cx="468.13" cy="214.96" r="0.45" fill="#5a5fb0" opacity="0.3"/>
<circle cx="475.24" cy="214.52" r="0.45" fill="#5a5fb0" opacity="0.3"/>
<circle cx="481.11" cy="218.49" r="0.45" fill="#5a5fb0" opacity="0.3"/>
<circle cx="488.10" cy="210.20" r="0.45" fill="#5a5fb0" opacity="0.3"/>
<circle cx="481.79" cy="219.06" r="0.45" fill="#5a5fb0" opacity="0.3"/>
<circle cx="474.70" cy="213.73" r="0.45" fill="#5a5fb0" opacity="0.3"/>
<circle cx="488.53" cy="217.03" r="0.45" fill="#5a5fb0" opacity="0.3"/>
<circle cx="483.15" cy="206.72" r="0.45" fill="#5a5fb0" opacity="0.3"/>
<circle cx="468.91" cy="212.99" r="0.45" fill="#5a5fb0" opacity="0.3"/>
<circle cx="482.10" cy="222.19" r="0.45" fill="#5a5fb0" opacity="0.3"/>
<circle cx="472.11" cy="216.55" r="0.45" fill="#5a5fb0" opacity="0.3"/>
<circle cx="485.16" cy="205.31" r="0.45" fill="#5a5fb0" opacity="0.3"/>
<circle cx="472.45" cy="212.66" r="0.45" fill="#5a5fb0" opacity="0.3"/>
<circle cx="475.05" cy="211.38" r="0.45" fill="#5a5fb0" opacity="0.3"/>
<circle cx="482.76" cy="208.76" r="0.45" fill="#5a5fb0" opacity="0.3"/>
<circle cx="482.73" cy="209.45" r="0.45" fill="#5a5fb0" opacity="0.3"/>
<circle cx="474.64" cy="214.15" r="0.45" fill="#5a5fb0" opacity="0.3"/>
<circle cx="474.41" cy="213.15" r="0.45" fill="#5a5fb0" opacity="0.3"/>
<circle cx="491.80" cy="212.11" r="0.45" fill="#5a5fb0" opacity="0.3"/>
<circle cx="477.83" cy="214.94" r="0.45" fill="#5a5fb0" opacity="0.3"/>
<circle cx="476.08" cy="216.33" r="0.45" fill="#5a5fb0" opacity="0.3"/>
<circle cx="468.74" cy="214.47" r="0.45" fill="#5a5fb0" opacity="0.3"/>
<circle cx="474.90" cy="208.81" r="0.45" fill="#5a5fb0" opacity="0.3"/>
<circle cx="493.16" cy="208.60" r="0.45" fill="#5a5fb0" opacity="0.3"/>
<circle cx="493.05" cy="214.63" r="0.45" fill="#5a5fb0" opacity="0.3"/>
<circle cx="490.62" cy="208.09" r="0.45" fill="#5a5fb0" opacity="0.3"/>
<circle cx="488.59" cy="217.83" r="0.45" fill="#5a5fb0" opacity="0.3"/>
<circle cx="478.07" cy="211.48" r="0.45" fill="#5a5fb0" opacity="0.3"/>
<circle cx="498.65" cy="212.71" r="0.45" fill="#5a5fb0" opacity="0.3"/>
<circle cx="475.62" cy="209.48" r="0.45" fill="#5a5fb0" opacity="0.3"/>
<circle cx="482.57" cy="213.32" r="0.45" fill="#5a5fb0" opacity="0.3"/>
<circle cx="480.42" cy="218.89" r="0.45" fill="#5a5fb0" opacity="0.3"/>
<circle cx="476.38" cy="213.89" r="0.45" fill="#5a5fb0" opacity="0.3"/>
<circle cx="490.67" cy="207.98" r="0.45" fill="#5a5fb0" opacity="0.3"/>
<circle cx="487.31" cy="219.33" r="0.45" fill="#5a5fb0" opacity="0.3"/>
<circle cx="468.16" cy="207.61" r="0.45" fill="#5a5fb0" opacity="0.3"/>
<circle cx="470.69" cy="204.61" r="0.45" fill="#5a5fb0" opacity="0.3"/>
<circle cx="482.62" cy="204.58" r="0.45" fill="#5a5fb0" opacity="0.3"/>
<circle cx="482.99" cy="217.81" r="0.45" fill="#5a5fb0" opacity="0.3"/>
<circle cx="466.08" cy="210.73" r="0.45" fill="#5a5fb0" opacity="0.3"/>
<circle cx="463.66" cy="215.12" r="0.45" fill="#5a5fb0" opacity="0.3"/>
<circle cx="473.10" cy="210.94" r="0.45" fill="#5a5fb0" opacity="0.3"/>
<circle cx="479.44" cy="214.18" r="0.45" fill="#5a5fb0" opacity="0.3"/>
<circle cx="476.23" cy="212.06" r="0.45" fill="#5a5fb0" opacity="0.3"/>
<circle cx="474.63" cy="212.46" r="0.45" fill="#5a5fb0" opacity="0.3"/>
<circle cx="469.62" cy="212.25" r="0.45" fill="#5a5fb0" opacity="0.3"/>
<circle cx="463.54" cy="210.04" r="0.45" fill="#5a5fb0" opacity="0.3"/>
<circle cx="494.32" cy="212.32" r="0.45" fill="#5a5fb0" opacity="0.3"/>
<circle cx="468.92" cy="213.03" r="0.45" fill="#5a5fb0" opacity="0.3"/>
<circle cx="471.22" cy="205.39" r="0.45" fill="#5a5fb0" opacity="0.3"/>
<circle cx="473.11" cy="214.95" r="0.45" fill="#5a5fb0" opacity="0.3"/>
<circle cx="482.07" cy="211.61" r="0.45" fill="#5a5fb0" opacity="0.3"/>
<circle cx="471.59" cy="207.69" r="0.45" fill="#5a5fb0" opacity="0.3"/>
<circle cx="489.80" cy="212.98" r="0.45" fill="#5a5fb0" opacity="0.3"/>
<circle cx="471.39" cy="203.56" r="0.45" fill="#5a5fb0" opacity="0.3"/>
<circle cx="468.04" cy="221.90" r="0.45" fill="#5a5fb0" opacity="0.3"/>
<circle cx="469.81" cy="211.69" r="0.45" fill="#5a5fb0" opacity="0.3"/>
<circle cx="480.68" cy="211.37" r="0.45" fill="#5a5fb0" opacity="0.3"/>
<circle cx="476.77" cy="206.51" r="0.45" fill="#5a5fb0" opacity="0.3"/>
<circle cx="470.59" cy="218.75" r="0.45" fill="#5a5fb0" opacity="0.3"/>
<circle cx="472.95" cy="215.38" r="0.45" fill="#5a5fb0" opacity="0.3"/>
<circle cx="465.45" cy="210.90" r="0.45" fill="#5a5fb0" opacity="0.3"/>
<circle cx="481.09" cy="216.15" r="0.45" fill="#5a5fb0" opacity="0.3"/>
<circle cx="470.02" cy="214.38" r="0.45" fill="#5a5fb0" opacity="0.3"/>
<circle cx="482.09" cy="209.05" r="0.45" fill="#5a5fb0" opacity="0.3"/>
<circle cx="482.82" cy="208.41" r="0.45" fill="#5a5fb0" opacity="0.3"/>
<circle cx="472.63" cy="211.92" r="0.45" fill="#5a5fb0" opacity="0.3"/>
<circle cx="457.29" cy="211.56" r="0.45" fill="#5a5fb0" opacity="0.3"/>
<circle cx="471.00" cy="206.15" r="0.45" fill="#5a5fb0" opacity="0.3"/>
<circle cx="475.60" cy="215.05" r="0.45" fill="#5a5fb0" opacity="0.3"/>
<circle cx="475.76" cy="217.06" r="0.45" fill="#5a5fb0" opacity="0.3"/>
<circle cx="469.72" cy="206.75" r="0.45" fill="#5a5fb0" opacity="0.3"/>
<circle cx="491.41" cy="213.60" r="0.45" fill="#5a5fb0" opacity="0.3"/>
<circle cx="486.56" cy="208.69" r="0.45" fill="#5a5fb0" opacity="0.3"/>
<circle cx="485.44" cy="213.04" r="0.45" fill="#5a5fb0" opacity="0.3"/>
<circle cx="484.19" cy="212.10" r="0.45" fill="#5a5fb0" opacity="0.3"/>
<circle cx="488.65" cy="209.40" r="0.45" fill="#5a5fb0" opacity="0.3"/>
<circle cx="471.29" cy="206.09" r="0.45" fill="#5a5fb0" opacity="0.3"/>
<circle cx="488.28" cy="209.05" r="0.45" fill="#5a5fb0" opacity="0.3"/>
<circle cx="470.65" cy="208.24" r="0.45" fill="#5a5fb0" opacity="0.3"/>
<circle cx="475.44" cy="206.91" r="0.45" fill="#5a5fb0" opacity="0.3"/>
<circle cx="476.68" cy="209.49" r="0.45" fill="#5a5fb0" opacity="0.3"/>
<circle cx="474.59" cy="208.16" r="0.45" fill="#5a5fb0" opacity="0.3"/>
<circle cx="479.29" cy="210.16" r="0.45" fill="#5a5fb0" opacity="0.3"/>
<circle cx="479.92" cy="213.00" r="0.45" fill="#5a5fb0" opacity="0.3"/>
<circle cx="481.72" cy="203.24" r="0.45" fill="#5a5fb0" opacity="0.3"/>
<circle cx="474.71" cy="208.82" r="0.45" fill="#5a5fb0" opacity="0.3"/>
<circle cx="485.19" cy="205.69" r="0.45" fill="#5a5fb0" opacity="0.3"/>
<circle cx="473.28" cy="210.82" r="0.45" fill="#5a5fb0" opacity="0.3"/>
<circle cx="476.31" cy="215.97" r="0.45" fill="#5a5fb0" opacity="0.3"/>
<circle cx="475.46" cy="215.86" r="0.45" fill="#5a5fb0" opacity="0.3"/>
<circle cx="467.28" cy="204.75" r="0.45" fill="#5a5fb0" opacity="0.3"/>
<circle cx="488.75" cy="213.74" r="0.45" fill="#5a5fb0" opacity="0.3"/>
<circle cx="482.90" cy="212.49" r="0.45" fill="#5a5fb0" opacity="0.3"/>
<circle cx="482.87" cy="207.14" r="0.45" fill="#5a5fb0" opacity="0.3"/>
<circle cx="486.59" cy="209.87" r="0.45" fill="#5a5fb0" opacity="0.3"/>
<circle cx="486.89" cy="212.35" r="0.45" fill="#5a5fb0" opacity="0.3"/>
<circle cx="463.21" cy="206.85" r="0.45" fill="#5a5fb0" opacity="0.3"/>
<circle cx="488.02" cy="211.45" r="0.45" fill="#5a5fb0" opacity="0.3"/>
<circle cx="475.84" cy="212.97" r="0.45" fill="#5a5fb0" opacity="0.3"/>
<circle cx="475.60" cy="209.82" r="0.45" fill="#5a5fb0" opacity="0.3"/>
<circle cx="479.82" cy="212.58" r="0.45" fill="#5a5fb0" opacity="0.3"/>
<circle cx="491.13" cy="212.18" r="0.45" fill="#5a5fb0" opacity="0.3"/>
<circle cx="494.04" cy="219.21" r="0.45" fill="#5a5fb0" opacity="0.3"/>
<circle cx="492.73" cy="216.25" r="0.45" fill="#5a5fb0" opacity="0.3"/>
<circle cx="480.04" cy="212.55" r="0.45" fill="#5a5fb0" opacity="0.3"/>
<circle cx="477.86" cy="209.08" r="0.45" fill="#5a5fb0" opacity="0.3"/>
<circle cx="478.47" cy="209.44" r="0.45" fill="#5a5fb0" opacity="0.3"/>
<circle cx="492.12" cy="214.14" r="0.45" fill="#5a5fb0" opacity="0.3"/>
<circle cx="475.43" cy="204.34" r="0.45" fill="#5a5fb0" opacity="0.3"/>
<circle cx="478.57" cy="210.33" r="0.45" fill="#5a5fb0" opacity="0.3"/>
<circle cx="470.31" cy="207.45" r="0.45" fill="#5a5fb0" opacity="0.3"/>
<circle cx="461.00" cy="214.28" r="0.45" fill="#5a5fb0" opacity="0.3"/>
<circle cx="478.47" cy="222.32" r="0.45" fill="#5a5fb0" opacity="0.3"/>
<circle cx="478.75" cy="211.41" r="0.45" fill="#5a5fb0" opacity="0.3"/>
<circle cx="490.55" cy="212.54" r="0.45" fill="#5a5fb0" opacity="0.3"/>
<circle cx="480.34" cy="210.51" r="0.45" fill="#5a5fb0" opacity="0.3"/>
<circle cx="474.16" cy="218.00" r="0.45" fill="#5a5fb0" opacity="0.3"/>
<circle cx="487.00" cy="218.86" r="0.45" fill="#5a5fb0" opacity="0.3"/>
<circle cx="476.20" cy="212.12" r="0.45" fill="#5a5fb0" opacity="0.3"/>
<circle cx="471.95" cy="215.87" r="0.45" fill="#5a5fb0" opacity="0.3"/>
<circle cx="467.86" cy="214.26" r="0.45" fill="#5a5fb0" opacity="0.3"/>
<circle cx="487.77" cy="217.64" r="0.45" fill="#5a5fb0" opacity="0.3"/>
<circle cx="471.48" cy="216.36" r="0.45" fill="#5a5fb0" opacity="0.3"/>
<circle cx="473.29" cy="208.97" r="0.45" fill="#5a5fb0" opacity="0.3"/>
<circle cx="468.42" cy="216.62" r="0.45" fill="#5a5fb0" opacity="0.3"/>
<circle cx="492.19" cy="209.62" r="0.45" fill="#5a5fb0" opacity="0.3"/>
<circle cx="472.92" cy="210.64" r="0.45" fill="#5a5fb0" opacity="0.3"/>
<circle cx="499.06" cy="216.02" r="0.45" fill="#5a5fb0" opacity="0.3"/>
<circle cx="474.66" cy="204.82" r="0.45" fill="#5a5fb0" opacity="0.3"/>
<circle cx="473.62" cy="216.75" r="0.45" fill="#5a5fb0" opacity="0.3"/>
<circle cx="493.94" cy="210.93" r="0.45" fill="#5a5fb0" opacity="0.3"/>
<circle cx="473.47" cy="209.96" r="0.45" fill="#5a5fb0" opacity="0.3"/>
<circle cx="463.91" cy="215.63" r="0.45" fill="#5a5fb0" opacity="0.3"/>
<circle cx="470.31" cy="216.25" r="0.45" fill="#5a5fb0" opacity="0.3"/>
<circle cx="465.34" cy="206.92" r="0.45" fill="#5a5fb0" opacity="0.3"/>
<circle cx="481.31" cy="208.95" r="0.45" fill="#5a5fb0" opacity="0.3"/>
<circle cx="485.25" cy="212.03" r="0.45" fill="#5a5fb0" opacity="0.3"/>
<circle cx="469.60" cy="214.49" r="0.45" fill="#5a5fb0" opacity="0.3"/>
<circle cx="485.74" cy="204.35" r="0.45" fill="#5a5fb0" opacity="0.3"/>
<circle cx="493.61" cy="213.99" r="0.45" fill="#5a5fb0" opacity="0.3"/>
<circle cx="484.80" cy="208.52" r="0.45" fill="#3c3f90" opacity="0.3"/>
<circle cx="477.40" cy="210.94" r="0.45" fill="#3c3f90" opacity="0.3"/>
<circle cx="486.39" cy="209.16" r="0.45" fill="#3c3f90" opacity="0.3"/>
<circle cx="476.58" cy="208.25" r="0.45" fill="#3c3f90" opacity="0.3"/>
<circle cx="479.79" cy="212.05" r="0.45" fill="#3c3f90" opacity="0.3"/>
<circle cx="472.57" cy="210.55" r="0.45" fill="#3c3f90" opacity="0.3"/>
<circle cx="483.55" cy="214.04" r="0.45" fill="#3c3f90" opacity="0.3"/>
<circle cx="484.32" cy="211.01" r="0.45" fill="#3c3f90" opacity="0.3"/>
<circle cx="475.11" cy="210.00" r="0.45" fill="#3c3f90" opacity="0.3"/>
<circle cx="477.68" cy="211.74" r="0.45" fill="#3c3f90" opacity="0.3"/>
<circle cx="480.75" cy="214.17" r="0.45" fill="#3c3f90" opacity="0.3"/>
<circle cx="482.44" cy="209.79" r="0.45" fill="#3c3f90" opacity="0.3"/>
<circle cx="488.72" cy="213.02" r="0.45" fill="#3c3f90" opacity="0.3"/>
<circle cx="481.51" cy="210.35" r="0.45" fill="#3c3f90" opacity="0.3"/>
<circle cx="471.65" cy="209.86" r="0.45" fill="#3c3f90" opacity="0.3"/>
<circle cx="485.56" cy="210.22" r="0.45" fill="#3c3f90" opacity="0.3"/>
<circle cx="474.40" cy="211.81" r="0.45" fill="#3c3f90" opacity="0.3"/>
<circle cx="482.22" cy="212.47" r="0.45" fill="#3c3f90" opacity="0.3"/>
<circle cx="484.28" cy="213.75" r="0.45" fill="#3c3f90" opacity="0.3"/>
<circle cx="476.80" cy="213.07" r="0.45" fill="#3c3f90" opacity="0.3"/>
<circle cx="476.06" cy="212.61" r="0.45" fill="#3c3f90" opacity="0.3"/>
<circle cx="481.90" cy="211.89" r="0.45" fill="#3c3f90" opacity="0.3"/>
<circle cx="485.84" cy="211.47" r="0.45" fill="#3c3f90" opacity="0.3"/>
<circle cx="486.56" cy="212.90" r="0.45" fill="#3c3f90" opacity="0.3"/>
<circle cx="481.68" cy="210.59" r="0.45" fill="#3c3f90" opacity="0.3"/>
<circle cx="477.23" cy="210.66" r="0.45" fill="#3c3f90" opacity="0.3"/>
<circle cx="479.99" cy="211.46" r="0.45" fill="#3c3f90" opacity="0.3"/>
<circle cx="495.90" cy="212.52" r="0.45" fill="#3c3f90" opacity="0.3"/>
<circle cx="484.85" cy="210.12" r="0.45" fill="#3c3f90" opacity="0.3"/>
<circle cx="477.45" cy="210.99" r="0.45" fill="#3c3f90" opacity="0.3"/>
<circle cx="481.96" cy="209.84" r="0.45" fill="#3c3f90" opacity="0.3"/>
<circle cx="489.06" cy="210.60" r="0.45" fill="#3c3f90" opacity="0.3"/>
<circle cx="486.39" cy="207.76" r="0.45" fill="#3c3f90" opacity="0.3"/>
<circle cx="480.97" cy="211.94" r="0.45" fill="#3c3f90" opacity="0.3"/>
<circle cx="481.96" cy="212.46" r="0.45" fill="#3c3f90" opacity="0.3"/>
<circle cx="482.40" cy="211.76" r="0.45" fill="#3c3f90" opacity="0.3"/>
<circle cx="471.54" cy="210.36" r="0.45" fill="#3c3f90" opacity="0.3"/>
<circle cx="469.29" cy="212.51" r="0.45" fill="#3c3f90" opacity="0.3"/>
<circle cx="482.54" cy="211.19" r="0.45" fill="#3c3f90" opacity="0.3"/>
<circle cx="476.89" cy="210.57" r="0.45" fill="#3c3f90" opacity="0.3"/>
<circle cx="490.23" cy="214.27" r="0.45" fill="#3c3f90" opacity="0.3"/>
<circle cx="480.71" cy="213.56" r="0.45" fill="#3c3f90" opacity="0.3"/>
<circle cx="473.06" cy="208.40" r="0.45" fill="#3c3f90" opacity="0.3"/>
<circle cx="478.58" cy="210.10" r="0.45" fill="#3c3f90" opacity="0.3"/>
<circle cx="478.20" cy="211.80" r="0.45" fill="#3c3f90" opacity="0.3"/>
<circle cx="496.12" cy="210.44" r="0.45" fill="#3c3f90" opacity="0.3"/>
<circle cx="481.25" cy="211.94" r="0.45" fill="#3c3f90" opacity="0.3"/>
<circle cx="480.83" cy="212.99" r="0.45" fill="#3c3f90" opacity="0.3"/>
<circle cx="489.88" cy="209.51" r="0.45" fill="#3c3f90" opacity="0.3"/>
<circle cx="481.81" cy="211.08" r="0.45" fill="#3c3f90" opacity="0.3"/>
<circle cx="482.78" cy="209.05" r="0.45" fill="#3c3f90" opacity="0.3"/>
<circle cx="472.21" cy="207.79" r="0.45" fill="#3c3f90" opacity="0.3"/>
<circle cx="483.63" cy="211.81" r="0.45" fill="#3c3f90" opacity="0.3"/>
<circle cx="481.37" cy="207.71" r="0.45" fill="#3c3f90" opacity="0.3"/>
<circle cx="479.13" cy="210.29" r="0.45" fill="#3c3f90" opacity="0.3"/>
<circle cx="473.93" cy="210.04" r="0.45" fill="#3c3f90" opacity="0.3"/>
<circle cx="484.49" cy="212.37" r="0.45" fill="#3c3f90" opacity="0.3"/>
<circle cx="480.89" cy="212.32" r="0.45" fill="#3c3f90" opacity="0.3"/>
<circle cx="477.98" cy="211.61" r="0.45" fill="#3c3f90" opacity="0.3"/>
<circle cx="481.20" cy="212.39" r="0.45" fill="#3c3f90" opacity="0.3"/>
<circle cx="480.65" cy="211.27" r="0.45" fill="#3c3f90" opacity="0.3"/>
<circle cx="480.33" cy="210.47" r="0.45" fill="#3c3f90" opacity="0.3"/>
<circle cx="492.17" cy="212.32" r="0.45" fill="#3c3f90" opacity="0.3"/>
<circle cx="483.14" cy="215.17" r="0.45" fill="#3c3f90" opacity="0.3"/>
<circle cx="488.02" cy="209.01" r="0.45" fill="#3c3f90" opacity="0.3"/>
<circle cx="484.48" cy="212.84" r="0.45" fill="#3c3f90" opacity="0.3"/>
<circle cx="490.42" cy="213.61" r="0.45" fill="#3c3f90" opacity="0.3"/>
<circle cx="484.85" cy="209.62" r="0.45" fill="#3c3f90" opacity="0.3"/>
<circle cx="476.65" cy="211.93" r="0.45" fill="#3c3f90" opacity="0.3"/>
<circle cx="483.52" cy="209.87" r="0.45" fill="#3c3f90" opacity="0.3"/>
<circle cx="479.08" cy="210.86" r="0.45" fill="#3c3f90" opacity="0.3"/>
<circle cx="481.30" cy="212.04" r="0.45" fill="#3c3f90" opacity="0.3"/>
<circle cx="479.57" cy="209.52" r="0.45" fill="#3c3f90" opacity="0.3"/>
<circle cx="487.21" cy="214.05" r="0.45" fill="#3c3f90" opacity="0.3"/>
<circle cx="480.47" cy="213.14" r="0.45" fill="#3c3f90" opacity="0.3"/>
<circle cx="483.22" cy="212.56" r="0.45" fill="#3c3f90" opacity="0.3"/>
<circle cx="483.41" cy="210.28" r="0.45" fill="#3c3f90" opacity="0.3"/>
<circle cx="483.87" cy="213.12" r="0.45" fill="#3c3f90" opacity="0.3"/>
<circle cx="476.52" cy="214.65" r="0.45" fill="#3c3f90" opacity="0.3"/>
<circle cx="491.45" cy="214.42" r="0.45" fill="#3c3f90" opacity="0.3"/>
<circle cx="490.95" cy="212.69" r="0.45" fill="#3c3f90" opacity="0.3"/>
<circle cx="479.31" cy="210.54" r="0.45" fill="#3c3f90" opacity="0.3"/>
<circle cx="476.94" cy="211.69" r="0.45" fill="#3c3f90" opacity="0.3"/>
<circle cx="480.84" cy="212.57" r="0.45" fill="#3c3f90" opacity="0.3"/>
<circle cx="470.90" cy="215.20" r="0.45" fill="#3c3f90" opacity="0.3"/>
<circle cx="492.38" cy="211.46" r="0.45" fill="#3c3f90" opacity="0.3"/>
<circle cx="484.38" cy="212.26" r="0.45" fill="#3c3f90" opacity="0.3"/>
<circle cx="482.37" cy="211.17" r="0.45" fill="#3c3f90" opacity="0.3"/>
<circle cx="480.39" cy="210.18" r="0.45" fill="#3c3f90" opacity="0.3"/>
<circle cx="481.89" cy="211.46" r="0.45" fill="#3c3f90" opacity="0.3"/>
<circle cx="482.60" cy="210.13" r="0.45" fill="#3c3f90" opacity="0.3"/>
<circle cx="481.20" cy="211.58" r="0.45" fill="#3c3f90" opacity="0.3"/>
<circle cx="484.02" cy="209.80" r="0.45" fill="#3c3f90" opacity="0.3"/>
<circle cx="483.10" cy="213.07" r="0.45" fill="#3c3f90" opacity="0.3"/>
<circle cx="483.99" cy="210.91" r="0.45" fill="#3c3f90" opacity="0.3"/>
<circle cx="478.54" cy="211.12" r="0.45" fill="#3c3f90" opacity="0.3"/>
<circle cx="484.65" cy="213.98" r="0.45" fill="#3c3f90" opacity="0.3"/>
<circle cx="480.21" cy="210.47" r="0.45" fill="#3c3f90" opacity="0.3"/>
<circle cx="482.88" cy="211.83" r="0.45" fill="#3c3f90" opacity="0.3"/>
<circle cx="476.46" cy="210.32" r="0.45" fill="#3c3f90" opacity="0.3"/>
<circle cx="480.49" cy="212.57" r="0.45" fill="#3c3f90" opacity="0.3"/>
<circle cx="475.03" cy="209.87" r="0.45" fill="#3c3f90" opacity="0.3"/>
<circle cx="483.50" cy="209.54" r="0.45" fill="#3c3f90" opacity="0.3"/>
<circle cx="481.54" cy="212.06" r="0.45" fill="#3c3f90" opacity="0.3"/>
<circle cx="480.44" cy="209.87" r="0.45" fill="#3c3f90" opacity="0.3"/>
<circle cx="480.70" cy="210.97" r="0.45" fill="#3c3f90" opacity="0.3"/>
<circle cx="482.68" cy="210.16" r="0.45" fill="#3c3f90" opacity="0.3"/>
<circle cx="486.46" cy="208.82" r="0.45" fill="#3c3f90" opacity="0.3"/>
<circle cx="480.12" cy="211.51" r="0.45" fill="#3c3f90" opacity="0.3"/>
<circle cx="485.81" cy="210.53" r="0.45" fill="#3c3f90" opacity="0.3"/>
<circle cx="483.73" cy="210.59" r="0.45" fill="#3c3f90" opacity="0.3"/>
<circle cx="484.69" cy="214.28" r="0.45" fill="#3c3f90" opacity="0.3"/>
<circle cx="478.99" cy="212.21" r="0.45" fill="#3c3f90" opacity="0.3"/>
<circle cx="476.36" cy="213.06" r="0.45" fill="#3c3f90" opacity="0.3"/>
<circle cx="487.05" cy="211.56" r="0.45" fill="#3c3f90" opacity="0.3"/>
<circle cx="475.33" cy="212.14" r="0.45" fill="#3c3f90" opacity="0.3"/>
<circle cx="486.75" cy="213.24" r="0.45" fill="#3c3f90" opacity="0.3"/>
<circle cx="485.07" cy="208.57" r="0.45" fill="#3c3f90" opacity="0.3"/>
<circle cx="477.60" cy="213.78" r="0.45" fill="#3c3f90" opacity="0.3"/>
<circle cx="474.87" cy="213.31" r="0.45" fill="#3c3f90" opacity="0.3"/>
</g>
<rect x="419.40" y="190.1" width="42.20" height="41.7" fill="none" stroke="#5a5a5a" stroke-width="0.9"/>
<line x1="438.60" y1="190.10" x2="438.60" y2="231.80" stroke="#2a2a3a" stroke-width="0.95"/>
<line x1="419.40" y1="211.40" x2="461.60" y2="211.40" stroke="#2a2a3a" stroke-width="0.95"/>
<rect x="463.90" y="190.1" width="41.70" height="41.7" fill="none" stroke="#5a5a5a" stroke-width="0.9"/>
<line x1="482.60" y1="190.10" x2="482.60" y2="231.80" stroke="#2a2a3a" stroke-width="0.95"/>
<line x1="463.90" y1="211.40" x2="505.60" y2="211.40" stroke="#2a2a3a" stroke-width="0.95"/>
<text x="420.40" y="198.20" font-size="8.2" fill="#c8202f" textLength="10.60" lengthAdjust="spacingAndGlyphs" stroke="#c8202f" stroke-width="0.2">9.5</text>
<text x="456.90" y="198.20" font-size="8.2" fill="#1f1c1d" text-anchor="end" textLength="10.40" lengthAdjust="spacingAndGlyphs" stroke="#1f1c1d" stroke-width="0.2">7.6</text>
<text x="420.40" y="228.50" font-size="8.2" fill="#1f1c1d" textLength="8.80" lengthAdjust="spacingAndGlyphs" stroke="#1f1c1d" stroke-width="0.2">22</text>
<text x="459.80" y="228.50" font-size="8.2" fill="#1f1c1d" text-anchor="end" textLength="8.00" lengthAdjust="spacingAndGlyphs" stroke="#1f1c1d" stroke-width="0.2">60</text>
<text x="464.80" y="198.00" font-size="8.2" fill="#c8202f" textLength="8.00" lengthAdjust="spacingAndGlyphs" stroke="#c8202f" stroke-width="0.2">24</text>
<text x="503.20" y="198.00" font-size="8.2" fill="#1f1c1d" text-anchor="end" textLength="10.80" lengthAdjust="spacingAndGlyphs" stroke="#1f1c1d" stroke-width="0.2">8.2</text>
<text x="464.80" y="228.20" font-size="8.2" fill="#1f1c1d" textLength="8.00" lengthAdjust="spacingAndGlyphs" stroke="#1f1c1d" stroke-width="0.2">37</text>
<text x="504.20" y="228.20" font-size="8.2" fill="#1f1c1d" text-anchor="end" textLength="7.80" lengthAdjust="spacingAndGlyphs" stroke="#1f1c1d" stroke-width="0.2">30</text>
<rect x="400.40" y="260.20" width="2.70" height="7.80" fill="#000"/>
<line x1="428.50" y1="273.80" x2="428.50" y2="344.00" stroke="#231f20" stroke-width="1.05"/>
<line x1="426.10" y1="343.50" x2="428.50" y2="343.50" stroke="#231f20" stroke-width="0.9"/>
<text x="422.50" y="345.70" font-size="6.4" fill="#2e2e2e" text-anchor="end" textLength="3.13" lengthAdjust="spacingAndGlyphs" stroke="#2e2e2e" stroke-width="0.16">0</text>
<line x1="426.10" y1="321.20" x2="428.50" y2="321.20" stroke="#231f20" stroke-width="0.9"/>
<text x="422.50" y="323.40" font-size="6.4" fill="#2e2e2e" text-anchor="end" textLength="6.26" lengthAdjust="spacingAndGlyphs" stroke="#2e2e2e" stroke-width="0.16">10</text>
<line x1="426.10" y1="298.90" x2="428.50" y2="298.90" stroke="#231f20" stroke-width="0.9"/>
<text x="422.50" y="301.10" font-size="6.4" fill="#2e2e2e" text-anchor="end" textLength="6.26" lengthAdjust="spacingAndGlyphs" stroke="#2e2e2e" stroke-width="0.16">20</text>
<line x1="426.10" y1="276.60" x2="428.50" y2="276.60" stroke="#231f20" stroke-width="0.9"/>
<text x="422.50" y="278.80" font-size="6.4" fill="#2e2e2e" text-anchor="end" textLength="6.26" lengthAdjust="spacingAndGlyphs" stroke="#2e2e2e" stroke-width="0.16">30</text>
<line x1="428.50" y1="343.50" x2="495.60" y2="343.50" stroke="#231f20" stroke-width="1.05"/>
<line x1="437.40" y1="343.50" x2="437.40" y2="346.30" stroke="#231f20" stroke-width="0.9"/>
<line x1="450.90" y1="343.50" x2="450.90" y2="346.30" stroke="#231f20" stroke-width="0.9"/>
<line x1="473.40" y1="343.50" x2="473.40" y2="346.30" stroke="#231f20" stroke-width="0.9"/>
<line x1="486.50" y1="343.50" x2="486.50" y2="346.30" stroke="#231f20" stroke-width="0.9"/>
<rect x="433.50" y="329.80" width="8.20" height="13.70" fill="#d0d0d0"/>
<rect x="446.60" y="295.80" width="8.60" height="47.70" fill="#2ea3dc"/>
<rect x="469.20" y="326.60" width="8.40" height="16.90" fill="#d0d0d0"/>
<rect x="482.20" y="327.60" width="8.40" height="15.90" fill="#2ea3dc"/>
<line x1="437.40" y1="325.00" x2="437.40" y2="336.00" stroke="#222" stroke-width="0.7"/>
<line x1="473.30" y1="314.30" x2="473.30" y2="331.00" stroke="#222" stroke-width="0.7"/>
<line x1="486.50" y1="319.00" x2="486.50" y2="334.00" stroke="#222" stroke-width="0.7"/>
<circle cx="436.50" cy="321.10" r="2.25" fill="#ffffff" stroke="#262626" stroke-width="0.8"/>
<circle cx="439.80" cy="321.10" r="2.25" fill="#ffffff" stroke="#262626" stroke-width="0.8"/>
<circle cx="435.20" cy="328.60" r="2.25" fill="#ffffff" stroke="#262626" stroke-width="0.8"/>
<circle cx="439.40" cy="328.60" r="2.25" fill="#ffffff" stroke="#262626" stroke-width="0.8"/>
<circle cx="437.40" cy="325.00" r="2.25" fill="#ffffff" stroke="#262626" stroke-width="0.8"/>
<circle cx="437.40" cy="339.30" r="2.25" fill="#ffffff" stroke="#262626" stroke-width="0.8"/>
<circle cx="448.20" cy="284.90" r="2.25" fill="#ffffff" stroke="#262626" stroke-width="0.8"/>
<circle cx="453.20" cy="284.90" r="2.25" fill="#ffffff" stroke="#262626" stroke-width="0.8"/>
<circle cx="448.20" cy="288.80" r="2.25" fill="#ffffff" stroke="#262626" stroke-width="0.8"/>
<circle cx="453.50" cy="289.40" r="2.25" fill="#ffffff" stroke="#262626" stroke-width="0.8"/>
<circle cx="448.20" cy="292.60" r="2.25" fill="#ffffff" stroke="#262626" stroke-width="0.8"/>
<circle cx="453.50" cy="293.40" r="2.25" fill="#ffffff" stroke="#262626" stroke-width="0.8"/>
<circle cx="448.40" cy="297.20" r="2.25" fill="#ffffff" stroke="#262626" stroke-width="0.8"/>
<circle cx="450.90" cy="301.10" r="2.25" fill="#ffffff" stroke="#262626" stroke-width="0.8"/>
<circle cx="450.90" cy="308.00" r="2.25" fill="#ffffff" stroke="#262626" stroke-width="0.8"/>
<circle cx="473.10" cy="314.30" r="2.25" fill="#ffffff" stroke="#262626" stroke-width="0.8"/>
<circle cx="470.40" cy="324.30" r="2.25" fill="#ffffff" stroke="#262626" stroke-width="0.8"/>
<circle cx="473.60" cy="324.80" r="2.25" fill="#ffffff" stroke="#262626" stroke-width="0.8"/>
<circle cx="475.70" cy="322.20" r="2.25" fill="#ffffff" stroke="#262626" stroke-width="0.8"/>
<circle cx="472.60" cy="327.50" r="2.25" fill="#ffffff" stroke="#262626" stroke-width="0.8"/>
<circle cx="475.70" cy="327.50" r="2.25" fill="#ffffff" stroke="#262626" stroke-width="0.8"/>
<circle cx="473.40" cy="339.30" r="2.25" fill="#ffffff" stroke="#262626" stroke-width="0.8"/>
<circle cx="486.80" cy="319.00" r="2.25" fill="#ffffff" stroke="#262626" stroke-width="0.8"/>
<circle cx="484.20" cy="321.60" r="2.25" fill="#ffffff" stroke="#262626" stroke-width="0.8"/>
<circle cx="487.30" cy="322.70" r="2.25" fill="#ffffff" stroke="#262626" stroke-width="0.8"/>
<circle cx="488.90" cy="325.30" r="2.25" fill="#ffffff" stroke="#262626" stroke-width="0.8"/>
<circle cx="484.20" cy="328.00" r="2.25" fill="#ffffff" stroke="#262626" stroke-width="0.8"/>
<circle cx="487.30" cy="330.60" r="2.25" fill="#ffffff" stroke="#262626" stroke-width="0.8"/>
<circle cx="485.80" cy="333.80" r="2.25" fill="#ffffff" stroke="#262626" stroke-width="0.8"/>
<line x1="432.70" y1="311.50" x2="446.60" y2="311.50" stroke="#231f20" stroke-width="0.95"/>
<text x="439.60" y="311.60" font-size="6.8" fill="#1f1c1d" text-anchor="middle" stroke="#1f1c1d" stroke-width="0.16">***</text>
<text x="433.10" y="272.10" font-size="5.9" fill="#1f1c1d" stroke="#1f1c1d" stroke-width="0.16">CD62L<tspan font-size="3.8" dy="-2.4">lo</tspan></text>
<text x="469.00" y="272.10" font-size="5.9" fill="#1f1c1d" stroke="#1f1c1d" stroke-width="0.16">CD62L<tspan font-size="3.8" dy="-2.4">hi</tspan></text>
<line x1="433.10" y1="273.40" x2="455.60" y2="273.40" stroke="#1f1c1d" stroke-width="0.6"/>
<line x1="469.00" y1="273.40" x2="491.30" y2="273.40" stroke="#1f1c1d" stroke-width="0.6"/>
<text x="401.80" y="308.50" font-size="7.2" fill="#2e2e2e" text-anchor="middle" textLength="54.60" lengthAdjust="spacingAndGlyphs" stroke="#2e2e2e" stroke-width="0.16" transform="rotate(-90 401.80 308.50)">Percent PD-1<tspan font-size="4.4" dy="-2.4">+</tspan><tspan dy="2.4"> cell</tspan></text>
<text x="409.80" y="306.90" font-size="7.2" fill="#2e2e2e" text-anchor="middle" textLength="54.60" lengthAdjust="spacingAndGlyphs" stroke="#2e2e2e" stroke-width="0.16" transform="rotate(-90 409.80 306.90)">in total CD4 T cells</text>
<text x="398.30" y="371.70" font-size="11.2" fill="#000" font-weight="bold" stroke="#000" stroke-width="0.1">J</text>
<line x1="428.40" y1="375.00" x2="428.40" y2="445.30" stroke="#231f20" stroke-width="1.05"/>
<line x1="426.00" y1="444.80" x2="428.40" y2="444.80" stroke="#231f20" stroke-width="0.9"/>
<text x="422.40" y="447.00" font-size="6.4" fill="#2e2e2e" text-anchor="end" textLength="3.13" lengthAdjust="spacingAndGlyphs" stroke="#2e2e2e" stroke-width="0.16">0</text>
<line x1="426.00" y1="422.50" x2="428.40" y2="422.50" stroke="#231f20" stroke-width="0.9"/>
<text x="422.40" y="424.70" font-size="6.4" fill="#2e2e2e" text-anchor="end" textLength="6.26" lengthAdjust="spacingAndGlyphs" stroke="#2e2e2e" stroke-width="0.16">10</text>
<line x1="426.00" y1="400.20" x2="428.40" y2="400.20" stroke="#231f20" stroke-width="0.9"/>
<text x="422.40" y="402.40" font-size="6.4" fill="#2e2e2e" text-anchor="end" textLength="6.26" lengthAdjust="spacingAndGlyphs" stroke="#2e2e2e" stroke-width="0.16">20</text>
<line x1="426.00" y1="377.90" x2="428.40" y2="377.90" stroke="#231f20" stroke-width="0.9"/>
<text x="422.40" y="380.10" font-size="6.4" fill="#2e2e2e" text-anchor="end" textLength="6.26" lengthAdjust="spacingAndGlyphs" stroke="#2e2e2e" stroke-width="0.16">30</text>
<line x1="428.40" y1="444.80" x2="474.50" y2="444.80" stroke="#231f20" stroke-width="1.05"/>
<line x1="438.20" y1="444.80" x2="438.20" y2="447.60" stroke="#231f20" stroke-width="0.9"/>
<line x1="463.30" y1="444.80" x2="463.30" y2="447.60" stroke="#231f20" stroke-width="0.9"/>
<rect x="433.40" y="434.40" width="9.50" height="10.40" fill="#d0d0d0"/>
<rect x="458.80" y="398.00" width="9.40" height="46.80" fill="#2ea3dc"/>
<line x1="438.20" y1="427.80" x2="438.20" y2="436.00" stroke="#222" stroke-width="0.7"/>
<circle cx="435.70" cy="427.80" r="2.25" fill="#ffffff" stroke="#262626" stroke-width="0.8"/>
<circle cx="441.00" cy="427.80" r="2.25" fill="#ffffff" stroke="#262626" stroke-width="0.8"/>
<circle cx="438.20" cy="431.30" r="2.25" fill="#ffffff" stroke="#262626" stroke-width="0.8"/>
<circle cx="435.00" cy="435.20" r="2.25" fill="#ffffff" stroke="#262626" stroke-width="0.8"/>
<circle cx="438.30" cy="435.20" r="2.25" fill="#ffffff" stroke="#262626" stroke-width="0.8"/>
<circle cx="441.50" cy="435.20" r="2.25" fill="#ffffff" stroke="#262626" stroke-width="0.8"/>
<circle cx="460.20" cy="391.00" r="2.25" fill="#ffffff" stroke="#262626" stroke-width="0.8"/>
<circle cx="465.40" cy="392.80" r="2.25" fill="#ffffff" stroke="#262626" stroke-width="0.8"/>
<circle cx="460.20" cy="395.80" r="2.25" fill="#ffffff" stroke="#262626" stroke-width="0.8"/>
<circle cx="460.20" cy="400.60" r="2.25" fill="#ffffff" stroke="#262626" stroke-width="0.8"/>
<circle cx="465.40" cy="402.20" r="2.25" fill="#ffffff" stroke="#262626" stroke-width="0.8"/>
<circle cx="460.20" cy="404.70" r="2.25" fill="#ffffff" stroke="#262626" stroke-width="0.8"/>
<line x1="433.60" y1="386.90" x2="460.50" y2="386.90" stroke="#231f20" stroke-width="0.95"/>
<text x="447.00" y="387.00" font-size="6.8" fill="#1f1c1d" text-anchor="middle" stroke="#1f1c1d" stroke-width="0.16">***</text>
<text x="400.40" y="410.00" font-size="7.2" fill="#2e2e2e" text-anchor="middle" textLength="56.90" lengthAdjust="spacingAndGlyphs" stroke="#2e2e2e" stroke-width="0.16" transform="rotate(-90 400.40 410.00)">Percent PD-L1<tspan font-size="4.4" dy="-2.4">+</tspan><tspan dy="2.4"> cell</tspan></text>
<text x="408.70" y="411.30" font-size="7.2" fill="#444" text-anchor="middle" textLength="52.80" lengthAdjust="spacingAndGlyphs" stroke="#444" stroke-width="0.16" transform="rotate(-90 408.70 411.30)">in total CD4 T cells</text>
<rect x="479.30" y="378.20" width="5.50" height="5.60" fill="#d0d0d0"/>
<rect x="479.30" y="388.60" width="5.50" height="5.60" fill="#2ea3dc"/>
<text x="488.20" y="383.40" font-size="6.7" fill="#1f1c1d" textLength="9.70" lengthAdjust="spacingAndGlyphs" stroke="#1f1c1d" stroke-width="0.16">WT</text>
<text x="488.20" y="393.40" font-size="6.7" fill="#1f1c1d" textLength="23.80" lengthAdjust="spacingAndGlyphs" stroke="#1f1c1d" stroke-width="0.16">Id3-cKO</text>
<line x1="0.00" y1="0.50" x2="520.00" y2="0.50" stroke="#686868" stroke-width="1.0"/>
<line x1="0.50" y1="0.00" x2="0.50" y2="455.00" stroke="#575757" stroke-width="1.0"/>
<line x1="519.50" y1="0.00" x2="519.50" y2="455.00" stroke="#363636" stroke-width="1.0"/>
<line x1="0.00" y1="454.25" x2="520.00" y2="454.25" stroke="#3a3a3a" stroke-width="1.5"/>
</g></svg>
</body></html>
